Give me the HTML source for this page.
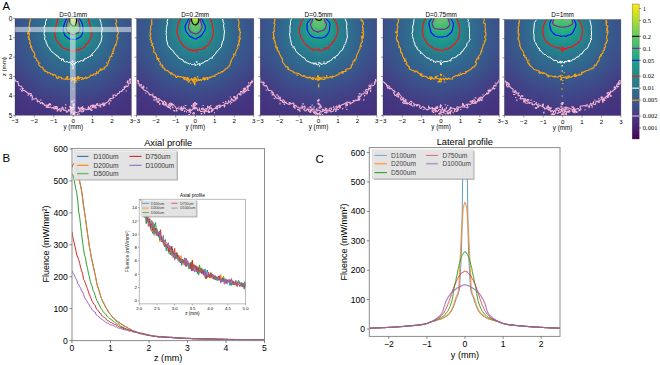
<!DOCTYPE html><html><head><meta charset="utf-8"><style>html,body{margin:0;padding:0;background:#fff;width:660px;height:365px;overflow:hidden}svg{display:block;font-family:"Liberation Sans",sans-serif}</style></head><body><svg width="660" height="365" viewBox="0 0 660 365"><defs><clipPath id="cp0"><rect x="15.00" y="18.40" width="116.40" height="96.90"/></clipPath><linearGradient id="g1" gradientUnits="userSpaceOnUse" x1="73.20" x2="133.20" y1="0" y2="0" spreadMethod="reflect"><stop offset="0.000" stop-color="#dae319"/><stop offset="0.017" stop-color="#c2df23"/><stop offset="0.050" stop-color="#6ece58"/><stop offset="0.067" stop-color="#4cc26c"/><stop offset="0.083" stop-color="#32b67a"/><stop offset="0.100" stop-color="#24aa83"/><stop offset="0.133" stop-color="#1f9a8a"/><stop offset="0.200" stop-color="#228c8d"/><stop offset="0.683" stop-color="#355e8d"/><stop offset="1.000" stop-color="#3c4f8a"/></linearGradient><linearGradient id="g2" gradientUnits="userSpaceOnUse" x1="73.20" x2="133.20" y1="0" y2="0" spreadMethod="reflect"><stop offset="0.000" stop-color="#cde11d"/><stop offset="0.017" stop-color="#bade28"/><stop offset="0.033" stop-color="#98d83e"/><stop offset="0.050" stop-color="#70cf57"/><stop offset="0.067" stop-color="#50c46a"/><stop offset="0.083" stop-color="#37b878"/><stop offset="0.100" stop-color="#26ad81"/><stop offset="0.117" stop-color="#20a386"/><stop offset="0.167" stop-color="#20928c"/><stop offset="0.617" stop-color="#33638d"/><stop offset="0.983" stop-color="#3c4f8a"/><stop offset="1.000" stop-color="#3c4f8a"/></linearGradient><linearGradient id="g3" gradientUnits="userSpaceOnUse" x1="73.20" x2="133.20" y1="0" y2="0" spreadMethod="reflect"><stop offset="0.000" stop-color="#b8de29"/><stop offset="0.017" stop-color="#aadc32"/><stop offset="0.033" stop-color="#90d743"/><stop offset="0.067" stop-color="#54c568"/><stop offset="0.083" stop-color="#3bbb75"/><stop offset="0.100" stop-color="#2cb17e"/><stop offset="0.117" stop-color="#22a884"/><stop offset="0.150" stop-color="#1f998a"/><stop offset="0.233" stop-color="#238a8d"/><stop offset="0.683" stop-color="#355e8d"/><stop offset="1.000" stop-color="#3c508b"/></linearGradient><linearGradient id="g4" gradientUnits="userSpaceOnUse" x1="73.20" x2="133.20" y1="0" y2="0" spreadMethod="reflect"><stop offset="0.000" stop-color="#a0da39"/><stop offset="0.017" stop-color="#98d83e"/><stop offset="0.083" stop-color="#42be71"/><stop offset="0.117" stop-color="#26ad81"/><stop offset="0.133" stop-color="#20a386"/><stop offset="0.200" stop-color="#21908d"/><stop offset="0.600" stop-color="#32658e"/><stop offset="0.950" stop-color="#3c508b"/><stop offset="1.000" stop-color="#3c508b"/></linearGradient><linearGradient id="g5" gradientUnits="userSpaceOnUse" x1="73.20" x2="133.20" y1="0" y2="0" spreadMethod="reflect"><stop offset="0.000" stop-color="#8bd646"/><stop offset="0.017" stop-color="#86d549"/><stop offset="0.083" stop-color="#46c06f"/><stop offset="0.117" stop-color="#2ab07f"/><stop offset="0.133" stop-color="#22a785"/><stop offset="0.183" stop-color="#1f948c"/><stop offset="0.483" stop-color="#2d708e"/><stop offset="0.850" stop-color="#3a548c"/><stop offset="1.000" stop-color="#3c508b"/></linearGradient><linearGradient id="g6" gradientUnits="userSpaceOnUse" x1="73.20" x2="133.20" y1="0" y2="0" spreadMethod="reflect"><stop offset="0.000" stop-color="#7cd250"/><stop offset="0.033" stop-color="#6ece58"/><stop offset="0.100" stop-color="#3bbb75"/><stop offset="0.133" stop-color="#25ab82"/><stop offset="0.167" stop-color="#1e9c89"/><stop offset="0.233" stop-color="#228d8d"/><stop offset="0.617" stop-color="#32648e"/><stop offset="0.967" stop-color="#3c508b"/><stop offset="1.000" stop-color="#3c508b"/></linearGradient><linearGradient id="g7" gradientUnits="userSpaceOnUse" x1="73.20" x2="133.20" y1="0" y2="0" spreadMethod="reflect"><stop offset="0.000" stop-color="#70cf57"/><stop offset="0.033" stop-color="#67cc5c"/><stop offset="0.100" stop-color="#3dbc74"/><stop offset="0.133" stop-color="#26ad81"/><stop offset="0.167" stop-color="#1f9e89"/><stop offset="0.250" stop-color="#228b8d"/><stop offset="0.633" stop-color="#33638d"/><stop offset="0.967" stop-color="#3c508b"/><stop offset="1.000" stop-color="#3c508b"/></linearGradient><linearGradient id="g8" gradientUnits="userSpaceOnUse" x1="73.20" x2="133.20" y1="0" y2="0" spreadMethod="reflect"><stop offset="0.000" stop-color="#67cc5c"/><stop offset="0.050" stop-color="#5ac864"/><stop offset="0.083" stop-color="#4ac16d"/><stop offset="0.133" stop-color="#28ae80"/><stop offset="0.167" stop-color="#1fa088"/><stop offset="0.250" stop-color="#228c8d"/><stop offset="0.617" stop-color="#32648e"/><stop offset="0.967" stop-color="#3c508b"/><stop offset="1.000" stop-color="#3c508b"/></linearGradient><linearGradient id="g9" gradientUnits="userSpaceOnUse" x1="73.20" x2="133.20" y1="0" y2="0" spreadMethod="reflect"><stop offset="0.000" stop-color="#60ca60"/><stop offset="0.033" stop-color="#5ec962"/><stop offset="0.100" stop-color="#40bd72"/><stop offset="0.150" stop-color="#23a983"/><stop offset="0.200" stop-color="#1f978b"/><stop offset="0.333" stop-color="#26828e"/><stop offset="0.700" stop-color="#355e8d"/><stop offset="1.000" stop-color="#3c508b"/></linearGradient><linearGradient id="g10" gradientUnits="userSpaceOnUse" x1="73.20" x2="133.20" y1="0" y2="0" spreadMethod="reflect"><stop offset="0.000" stop-color="#5ec962"/><stop offset="0.067" stop-color="#52c569"/><stop offset="0.133" stop-color="#2db27d"/><stop offset="0.167" stop-color="#20a386"/><stop offset="0.250" stop-color="#218e8d"/><stop offset="0.567" stop-color="#30698e"/><stop offset="0.933" stop-color="#3b518b"/><stop offset="1.000" stop-color="#3c508b"/></linearGradient><linearGradient id="g11" gradientUnits="userSpaceOnUse" x1="73.20" x2="133.20" y1="0" y2="0" spreadMethod="reflect"><stop offset="0.000" stop-color="#5ac864"/><stop offset="0.050" stop-color="#54c568"/><stop offset="0.100" stop-color="#40bd72"/><stop offset="0.150" stop-color="#25ab82"/><stop offset="0.200" stop-color="#1f998a"/><stop offset="0.350" stop-color="#26818e"/><stop offset="0.667" stop-color="#34618d"/><stop offset="1.000" stop-color="#3c508b"/></linearGradient><linearGradient id="g12" gradientUnits="userSpaceOnUse" x1="73.20" x2="133.20" y1="0" y2="0" spreadMethod="reflect"><stop offset="0.000" stop-color="#56c667"/><stop offset="0.050" stop-color="#50c46a"/><stop offset="0.083" stop-color="#46c06f"/><stop offset="0.150" stop-color="#25ab82"/><stop offset="0.200" stop-color="#1f9a8a"/><stop offset="0.317" stop-color="#25858e"/><stop offset="0.617" stop-color="#32658e"/><stop offset="0.967" stop-color="#3c508b"/><stop offset="1.000" stop-color="#3c508b"/></linearGradient><linearGradient id="g13" gradientUnits="userSpaceOnUse" x1="73.20" x2="133.20" y1="0" y2="0" spreadMethod="reflect"><stop offset="0.000" stop-color="#52c569"/><stop offset="0.050" stop-color="#4cc26c"/><stop offset="0.083" stop-color="#42be71"/><stop offset="0.150" stop-color="#23a983"/><stop offset="0.200" stop-color="#1f9a8a"/><stop offset="0.367" stop-color="#277f8e"/><stop offset="0.700" stop-color="#355f8d"/><stop offset="1.000" stop-color="#3c508b"/></linearGradient><linearGradient id="g14" gradientUnits="userSpaceOnUse" x1="73.20" x2="133.20" y1="0" y2="0" spreadMethod="reflect"><stop offset="0.000" stop-color="#4cc26c"/><stop offset="0.050" stop-color="#48c16e"/><stop offset="0.117" stop-color="#2fb47c"/><stop offset="0.150" stop-color="#22a884"/><stop offset="0.217" stop-color="#1f968b"/><stop offset="0.400" stop-color="#297b8e"/><stop offset="0.717" stop-color="#355e8d"/><stop offset="1.000" stop-color="#3c508b"/></linearGradient><linearGradient id="g15" gradientUnits="userSpaceOnUse" x1="73.20" x2="133.20" y1="0" y2="0" spreadMethod="reflect"><stop offset="0.000" stop-color="#46c06f"/><stop offset="0.050" stop-color="#40bd72"/><stop offset="0.117" stop-color="#2cb17e"/><stop offset="0.167" stop-color="#1fa187"/><stop offset="0.267" stop-color="#228d8d"/><stop offset="0.583" stop-color="#31688e"/><stop offset="0.967" stop-color="#3c508b"/><stop offset="1.000" stop-color="#3c508b"/></linearGradient><linearGradient id="g16" gradientUnits="userSpaceOnUse" x1="73.20" x2="133.20" y1="0" y2="0" spreadMethod="reflect"><stop offset="0.000" stop-color="#3fbc73"/><stop offset="0.067" stop-color="#37b878"/><stop offset="0.150" stop-color="#21a585"/><stop offset="0.250" stop-color="#21908d"/><stop offset="0.550" stop-color="#2f6b8e"/><stop offset="0.967" stop-color="#3c508b"/><stop offset="1.000" stop-color="#3c508b"/></linearGradient><linearGradient id="g17" gradientUnits="userSpaceOnUse" x1="73.20" x2="133.20" y1="0" y2="0" spreadMethod="reflect"><stop offset="0.000" stop-color="#38b977"/><stop offset="0.067" stop-color="#31b57b"/><stop offset="0.150" stop-color="#20a386"/><stop offset="0.283" stop-color="#238a8d"/><stop offset="0.617" stop-color="#32658e"/><stop offset="0.983" stop-color="#3c508b"/><stop offset="1.000" stop-color="#3c508b"/></linearGradient><linearGradient id="g18" gradientUnits="userSpaceOnUse" x1="73.20" x2="133.20" y1="0" y2="0" spreadMethod="reflect"><stop offset="0.000" stop-color="#31b57b"/><stop offset="0.083" stop-color="#28ae80"/><stop offset="0.167" stop-color="#1f9e89"/><stop offset="0.350" stop-color="#26828e"/><stop offset="0.667" stop-color="#34618d"/><stop offset="1.000" stop-color="#3c508b"/></linearGradient><linearGradient id="g19" gradientUnits="userSpaceOnUse" x1="73.20" x2="133.20" y1="0" y2="0" spreadMethod="reflect"><stop offset="0.000" stop-color="#2cb17e"/><stop offset="0.100" stop-color="#22a884"/><stop offset="0.200" stop-color="#1f958b"/><stop offset="0.550" stop-color="#2f6b8e"/><stop offset="0.850" stop-color="#39558c"/><stop offset="1.000" stop-color="#3c508b"/></linearGradient><linearGradient id="g20" gradientUnits="userSpaceOnUse" x1="73.20" x2="133.20" y1="0" y2="0" spreadMethod="reflect"><stop offset="0.000" stop-color="#26ad81"/><stop offset="0.100" stop-color="#20a486"/><stop offset="0.250" stop-color="#218e8d"/><stop offset="0.633" stop-color="#33638d"/><stop offset="1.000" stop-color="#3c508b"/></linearGradient><linearGradient id="g21" gradientUnits="userSpaceOnUse" x1="73.20" x2="133.20" y1="0" y2="0" spreadMethod="reflect"><stop offset="0.000" stop-color="#22a884"/><stop offset="0.100" stop-color="#1fa187"/><stop offset="0.350" stop-color="#27808e"/><stop offset="0.700" stop-color="#355e8d"/><stop offset="1.000" stop-color="#3c508b"/></linearGradient><linearGradient id="g22" gradientUnits="userSpaceOnUse" x1="73.20" x2="133.20" y1="0" y2="0" spreadMethod="reflect"><stop offset="0.000" stop-color="#20a486"/><stop offset="0.133" stop-color="#1f9a8a"/><stop offset="0.583" stop-color="#31678e"/><stop offset="0.917" stop-color="#3b528b"/><stop offset="1.000" stop-color="#3c508b"/></linearGradient><linearGradient id="g23" gradientUnits="userSpaceOnUse" x1="73.20" x2="133.20" y1="0" y2="0" spreadMethod="reflect"><stop offset="0.000" stop-color="#1fa188"/><stop offset="0.133" stop-color="#1f988b"/><stop offset="0.583" stop-color="#31678e"/><stop offset="0.917" stop-color="#3b528b"/><stop offset="1.000" stop-color="#3c508b"/></linearGradient><linearGradient id="g24" gradientUnits="userSpaceOnUse" x1="73.20" x2="133.20" y1="0" y2="0" spreadMethod="reflect"><stop offset="0.000" stop-color="#1f9e89"/><stop offset="0.150" stop-color="#1f948c"/><stop offset="0.617" stop-color="#32648e"/><stop offset="0.967" stop-color="#3c508b"/><stop offset="1.000" stop-color="#3c508b"/></linearGradient><linearGradient id="g25" gradientUnits="userSpaceOnUse" x1="73.20" x2="133.20" y1="0" y2="0" spreadMethod="reflect"><stop offset="0.000" stop-color="#1f9a8a"/><stop offset="0.150" stop-color="#20928c"/><stop offset="0.650" stop-color="#34618d"/><stop offset="1.000" stop-color="#3c508b"/></linearGradient><linearGradient id="g26" gradientUnits="userSpaceOnUse" x1="73.20" x2="133.20" y1="0" y2="0" spreadMethod="reflect"><stop offset="0.000" stop-color="#1f988b"/><stop offset="0.200" stop-color="#228c8d"/><stop offset="0.633" stop-color="#33628d"/><stop offset="0.983" stop-color="#3c508b"/><stop offset="1.000" stop-color="#3c508b"/></linearGradient><linearGradient id="g27" gradientUnits="userSpaceOnUse" x1="73.20" x2="133.20" y1="0" y2="0" spreadMethod="reflect"><stop offset="0.000" stop-color="#1f958b"/><stop offset="0.183" stop-color="#228c8d"/><stop offset="0.667" stop-color="#355f8d"/><stop offset="1.000" stop-color="#3c508b"/></linearGradient><linearGradient id="g28" gradientUnits="userSpaceOnUse" x1="73.20" x2="133.20" y1="0" y2="0" spreadMethod="reflect"><stop offset="0.000" stop-color="#20928c"/><stop offset="0.200" stop-color="#23898e"/><stop offset="0.667" stop-color="#355f8d"/><stop offset="1.000" stop-color="#3c508b"/></linearGradient><linearGradient id="g29" gradientUnits="userSpaceOnUse" x1="73.20" x2="133.20" y1="0" y2="0" spreadMethod="reflect"><stop offset="0.000" stop-color="#21918c"/><stop offset="0.200" stop-color="#24878e"/><stop offset="0.700" stop-color="#365c8d"/><stop offset="1.000" stop-color="#3c508b"/></linearGradient><linearGradient id="g30" gradientUnits="userSpaceOnUse" x1="73.20" x2="133.20" y1="0" y2="0" spreadMethod="reflect"><stop offset="0.000" stop-color="#218e8d"/><stop offset="0.183" stop-color="#24878e"/><stop offset="0.700" stop-color="#365c8d"/><stop offset="1.000" stop-color="#3c4f8a"/></linearGradient><linearGradient id="g31" gradientUnits="userSpaceOnUse" x1="73.20" x2="133.20" y1="0" y2="0" spreadMethod="reflect"><stop offset="0.000" stop-color="#228c8d"/><stop offset="0.217" stop-color="#26828e"/><stop offset="0.700" stop-color="#365c8d"/><stop offset="1.000" stop-color="#3c4f8a"/></linearGradient><linearGradient id="g32" gradientUnits="userSpaceOnUse" x1="73.20" x2="133.20" y1="0" y2="0" spreadMethod="reflect"><stop offset="0.000" stop-color="#238a8d"/><stop offset="0.217" stop-color="#26818e"/><stop offset="0.733" stop-color="#38598c"/><stop offset="1.000" stop-color="#3c4f8a"/></linearGradient><linearGradient id="g33" gradientUnits="userSpaceOnUse" x1="73.20" x2="133.20" y1="0" y2="0" spreadMethod="reflect"><stop offset="0.000" stop-color="#23888e"/><stop offset="0.217" stop-color="#277f8e"/><stop offset="0.767" stop-color="#39568c"/><stop offset="1.000" stop-color="#3d4e8a"/></linearGradient><linearGradient id="g34" gradientUnits="userSpaceOnUse" x1="73.20" x2="133.20" y1="0" y2="0" spreadMethod="reflect"><stop offset="0.000" stop-color="#24868e"/><stop offset="0.250" stop-color="#297b8e"/><stop offset="0.783" stop-color="#39558c"/><stop offset="1.000" stop-color="#3d4e8a"/></linearGradient><linearGradient id="g35" gradientUnits="userSpaceOnUse" x1="73.20" x2="133.20" y1="0" y2="0" spreadMethod="reflect"><stop offset="0.000" stop-color="#25848e"/><stop offset="0.250" stop-color="#29798e"/><stop offset="0.800" stop-color="#3a548c"/><stop offset="1.000" stop-color="#3d4e8a"/></linearGradient><linearGradient id="g36" gradientUnits="userSpaceOnUse" x1="73.20" x2="133.20" y1="0" y2="0" spreadMethod="reflect"><stop offset="0.000" stop-color="#26828e"/><stop offset="0.250" stop-color="#2a778e"/><stop offset="0.833" stop-color="#3b528b"/><stop offset="1.000" stop-color="#3d4d8a"/></linearGradient><linearGradient id="g37" gradientUnits="userSpaceOnUse" x1="73.20" x2="133.20" y1="0" y2="0" spreadMethod="reflect"><stop offset="0.000" stop-color="#26818e"/><stop offset="0.267" stop-color="#2b758e"/><stop offset="0.850" stop-color="#3b518b"/><stop offset="1.000" stop-color="#3d4d8a"/></linearGradient><linearGradient id="g38" gradientUnits="userSpaceOnUse" x1="73.20" x2="133.20" y1="0" y2="0" spreadMethod="reflect"><stop offset="0.000" stop-color="#277f8e"/><stop offset="0.283" stop-color="#2c728e"/><stop offset="0.867" stop-color="#3c508b"/><stop offset="1.000" stop-color="#3e4c8a"/></linearGradient><linearGradient id="g39" gradientUnits="userSpaceOnUse" x1="73.20" x2="133.20" y1="0" y2="0" spreadMethod="reflect"><stop offset="0.000" stop-color="#287d8e"/><stop offset="0.300" stop-color="#2d718e"/><stop offset="0.900" stop-color="#3d4e8a"/><stop offset="1.000" stop-color="#3e4c8a"/></linearGradient><linearGradient id="g40" gradientUnits="userSpaceOnUse" x1="73.20" x2="133.20" y1="0" y2="0" spreadMethod="reflect"><stop offset="0.000" stop-color="#297b8e"/><stop offset="0.267" stop-color="#2d718e"/><stop offset="0.967" stop-color="#3e4a89"/><stop offset="1.000" stop-color="#3e4a89"/></linearGradient><linearGradient id="g41" gradientUnits="userSpaceOnUse" x1="73.20" x2="133.20" y1="0" y2="0" spreadMethod="reflect"><stop offset="0.000" stop-color="#29798e"/><stop offset="0.283" stop-color="#2e6f8e"/><stop offset="0.967" stop-color="#3e4a89"/><stop offset="1.000" stop-color="#3e4a89"/></linearGradient><linearGradient id="g42" gradientUnits="userSpaceOnUse" x1="73.20" x2="133.20" y1="0" y2="0" spreadMethod="reflect"><stop offset="0.000" stop-color="#2a778e"/><stop offset="0.283" stop-color="#2e6e8e"/><stop offset="0.983" stop-color="#3e4989"/><stop offset="1.000" stop-color="#3e4989"/></linearGradient><linearGradient id="g43" gradientUnits="userSpaceOnUse" x1="73.20" x2="133.20" y1="0" y2="0" spreadMethod="reflect"><stop offset="0.000" stop-color="#2a768e"/><stop offset="0.333" stop-color="#306a8e"/><stop offset="0.983" stop-color="#3e4989"/><stop offset="1.000" stop-color="#3e4989"/></linearGradient><linearGradient id="g44" gradientUnits="userSpaceOnUse" x1="73.20" x2="133.20" y1="0" y2="0" spreadMethod="reflect"><stop offset="0.000" stop-color="#2b748e"/><stop offset="0.333" stop-color="#30698e"/><stop offset="1.000" stop-color="#3f4889"/></linearGradient><linearGradient id="g45" gradientUnits="userSpaceOnUse" x1="73.20" x2="133.20" y1="0" y2="0" spreadMethod="reflect"><stop offset="0.000" stop-color="#2c728e"/><stop offset="0.367" stop-color="#31678e"/><stop offset="1.000" stop-color="#3f4788"/></linearGradient><linearGradient id="g46" gradientUnits="userSpaceOnUse" x1="73.20" x2="133.20" y1="0" y2="0" spreadMethod="reflect"><stop offset="0.000" stop-color="#2c718e"/><stop offset="0.433" stop-color="#33638d"/><stop offset="0.983" stop-color="#3f4788"/><stop offset="1.000" stop-color="#3f4788"/></linearGradient><linearGradient id="g47" gradientUnits="userSpaceOnUse" x1="73.20" x2="133.20" y1="0" y2="0" spreadMethod="reflect"><stop offset="0.000" stop-color="#2d708e"/><stop offset="0.467" stop-color="#34618d"/><stop offset="1.000" stop-color="#404688"/></linearGradient><linearGradient id="g48" gradientUnits="userSpaceOnUse" x1="73.20" x2="133.20" y1="0" y2="0" spreadMethod="reflect"><stop offset="0.000" stop-color="#2e6f8e"/><stop offset="0.500" stop-color="#355f8d"/><stop offset="0.983" stop-color="#404688"/><stop offset="1.000" stop-color="#404688"/></linearGradient><linearGradient id="g49" gradientUnits="userSpaceOnUse" x1="73.20" x2="133.20" y1="0" y2="0" spreadMethod="reflect"><stop offset="0.000" stop-color="#2e6d8e"/><stop offset="0.483" stop-color="#355f8d"/><stop offset="1.000" stop-color="#404588"/></linearGradient><linearGradient id="g50" gradientUnits="userSpaceOnUse" x1="73.20" x2="133.20" y1="0" y2="0" spreadMethod="reflect"><stop offset="0.000" stop-color="#2f6c8e"/><stop offset="0.550" stop-color="#375b8d"/><stop offset="1.000" stop-color="#414487"/></linearGradient><linearGradient id="g51" gradientUnits="userSpaceOnUse" x1="73.20" x2="133.20" y1="0" y2="0" spreadMethod="reflect"><stop offset="0.000" stop-color="#306a8e"/><stop offset="0.467" stop-color="#355e8d"/><stop offset="1.000" stop-color="#414487"/></linearGradient><linearGradient id="g52" gradientUnits="userSpaceOnUse" x1="73.20" x2="133.20" y1="0" y2="0" spreadMethod="reflect"><stop offset="0.000" stop-color="#30698e"/><stop offset="0.500" stop-color="#365c8d"/><stop offset="1.000" stop-color="#414287"/></linearGradient><linearGradient id="g53" gradientUnits="userSpaceOnUse" x1="73.20" x2="133.20" y1="0" y2="0" spreadMethod="reflect"><stop offset="0.000" stop-color="#31678e"/><stop offset="0.450" stop-color="#365d8d"/><stop offset="1.000" stop-color="#424186"/></linearGradient><linearGradient id="g54" gradientUnits="userSpaceOnUse" x1="73.20" x2="133.20" y1="0" y2="0" spreadMethod="reflect"><stop offset="0.000" stop-color="#31668e"/><stop offset="0.500" stop-color="#375a8c"/><stop offset="1.000" stop-color="#424186"/></linearGradient><linearGradient id="g55" gradientUnits="userSpaceOnUse" x1="73.20" x2="133.20" y1="0" y2="0" spreadMethod="reflect"><stop offset="0.000" stop-color="#32658e"/><stop offset="0.500" stop-color="#38598c"/><stop offset="1.000" stop-color="#424086"/></linearGradient><linearGradient id="g56" gradientUnits="userSpaceOnUse" x1="73.20" x2="133.20" y1="0" y2="0" spreadMethod="reflect"><stop offset="0.000" stop-color="#33638d"/><stop offset="0.417" stop-color="#375b8d"/><stop offset="1.000" stop-color="#424086"/></linearGradient><linearGradient id="g57" gradientUnits="userSpaceOnUse" x1="73.20" x2="133.20" y1="0" y2="0" spreadMethod="reflect"><stop offset="0.000" stop-color="#33628d"/><stop offset="0.483" stop-color="#38588c"/><stop offset="1.000" stop-color="#423f85"/></linearGradient><linearGradient id="g58" gradientUnits="userSpaceOnUse" x1="73.20" x2="133.20" y1="0" y2="0" spreadMethod="reflect"><stop offset="0.000" stop-color="#34618d"/><stop offset="0.483" stop-color="#39568c"/><stop offset="1.000" stop-color="#433e85"/></linearGradient><linearGradient id="g59" gradientUnits="userSpaceOnUse" x1="73.20" x2="133.20" y1="0" y2="0" spreadMethod="reflect"><stop offset="0.000" stop-color="#355f8d"/><stop offset="0.450" stop-color="#39568c"/><stop offset="0.983" stop-color="#433e85"/><stop offset="1.000" stop-color="#433e85"/></linearGradient><linearGradient id="g60" gradientUnits="userSpaceOnUse" x1="73.20" x2="133.20" y1="0" y2="0" spreadMethod="reflect"><stop offset="0.000" stop-color="#355e8d"/><stop offset="0.417" stop-color="#39568c"/><stop offset="1.000" stop-color="#433d84"/></linearGradient><linearGradient id="g61" gradientUnits="userSpaceOnUse" x1="73.20" x2="133.20" y1="0" y2="0" spreadMethod="reflect"><stop offset="0.000" stop-color="#365d8d"/><stop offset="0.417" stop-color="#39558c"/><stop offset="1.000" stop-color="#443b84"/></linearGradient><linearGradient id="g62" gradientUnits="userSpaceOnUse" x1="73.20" x2="133.20" y1="0" y2="0" spreadMethod="reflect"><stop offset="0.000" stop-color="#365c8d"/><stop offset="0.450" stop-color="#3a538b"/><stop offset="1.000" stop-color="#443b84"/></linearGradient><linearGradient id="g63" gradientUnits="userSpaceOnUse" x1="73.20" x2="133.20" y1="0" y2="0" spreadMethod="reflect"><stop offset="0.000" stop-color="#375b8d"/><stop offset="0.483" stop-color="#3b518b"/><stop offset="1.000" stop-color="#443a83"/></linearGradient><linearGradient id="g64" gradientUnits="userSpaceOnUse" x1="73.20" x2="133.20" y1="0" y2="0" spreadMethod="reflect"><stop offset="0.000" stop-color="#38598c"/><stop offset="0.417" stop-color="#3b528b"/><stop offset="1.000" stop-color="#443a83"/></linearGradient><linearGradient id="g65" gradientUnits="userSpaceOnUse" x1="73.20" x2="133.20" y1="0" y2="0" spreadMethod="reflect"><stop offset="0.000" stop-color="#38588c"/><stop offset="0.417" stop-color="#3b518b"/><stop offset="1.000" stop-color="#443983"/></linearGradient><linearGradient id="g66" gradientUnits="userSpaceOnUse" x1="73.20" x2="133.20" y1="0" y2="0" spreadMethod="reflect"><stop offset="0.000" stop-color="#39568c"/><stop offset="0.417" stop-color="#3c508b"/><stop offset="1.000" stop-color="#443983"/></linearGradient><linearGradient id="g67" gradientUnits="userSpaceOnUse" x1="73.20" x2="133.20" y1="0" y2="0" spreadMethod="reflect"><stop offset="0.000" stop-color="#39558c"/><stop offset="0.417" stop-color="#3c4f8a"/><stop offset="1.000" stop-color="#453882"/></linearGradient><linearGradient id="g68" gradientUnits="userSpaceOnUse" x1="73.20" x2="133.20" y1="0" y2="0" spreadMethod="reflect"><stop offset="0.000" stop-color="#3a548c"/><stop offset="0.467" stop-color="#3d4d8a"/><stop offset="1.000" stop-color="#453882"/></linearGradient><linearGradient id="g69" gradientUnits="userSpaceOnUse" x1="73.20" x2="133.20" y1="0" y2="0" spreadMethod="reflect"><stop offset="0.000" stop-color="#3a538b"/><stop offset="0.467" stop-color="#3e4c8a"/><stop offset="1.000" stop-color="#453781"/></linearGradient><linearGradient id="g70" gradientUnits="userSpaceOnUse" x1="73.20" x2="133.20" y1="0" y2="0" spreadMethod="reflect"><stop offset="0.000" stop-color="#3b528b"/><stop offset="0.467" stop-color="#3e4a89"/><stop offset="1.000" stop-color="#453781"/></linearGradient><linearGradient id="g71" gradientUnits="userSpaceOnUse" x1="73.20" x2="133.20" y1="0" y2="0" spreadMethod="reflect"><stop offset="0.000" stop-color="#3b518b"/><stop offset="0.467" stop-color="#3e4989"/><stop offset="1.000" stop-color="#453781"/></linearGradient><linearGradient id="g72" gradientUnits="userSpaceOnUse" x1="73.20" x2="133.20" y1="0" y2="0" spreadMethod="reflect"><stop offset="0.000" stop-color="#3c508b"/><stop offset="0.467" stop-color="#3f4889"/><stop offset="1.000" stop-color="#453581"/></linearGradient><linearGradient id="g73" gradientUnits="userSpaceOnUse" x1="73.20" x2="133.20" y1="0" y2="0" spreadMethod="reflect"><stop offset="0.000" stop-color="#3c4f8a"/><stop offset="0.467" stop-color="#3f4788"/><stop offset="1.000" stop-color="#453581"/></linearGradient><linearGradient id="g74" gradientUnits="userSpaceOnUse" x1="73.20" x2="133.20" y1="0" y2="0" spreadMethod="reflect"><stop offset="0.000" stop-color="#3d4e8a"/><stop offset="0.483" stop-color="#404688"/><stop offset="1.000" stop-color="#453581"/></linearGradient><linearGradient id="g75" gradientUnits="userSpaceOnUse" x1="73.20" x2="133.20" y1="0" y2="0" spreadMethod="reflect"><stop offset="0.000" stop-color="#3d4d8a"/><stop offset="0.483" stop-color="#404588"/><stop offset="1.000" stop-color="#463480"/></linearGradient><linearGradient id="g76" gradientUnits="userSpaceOnUse" x1="73.20" x2="133.20" y1="0" y2="0" spreadMethod="reflect"><stop offset="0.000" stop-color="#3e4c8a"/><stop offset="0.483" stop-color="#414487"/><stop offset="1.000" stop-color="#463480"/></linearGradient><linearGradient id="g77" gradientUnits="userSpaceOnUse" x1="73.20" x2="133.20" y1="0" y2="0" spreadMethod="reflect"><stop offset="0.000" stop-color="#3e4a89"/><stop offset="0.450" stop-color="#414487"/><stop offset="1.000" stop-color="#463480"/></linearGradient><linearGradient id="g78" gradientUnits="userSpaceOnUse" x1="73.20" x2="133.20" y1="0" y2="0" spreadMethod="reflect"><stop offset="0.000" stop-color="#3e4989"/><stop offset="0.500" stop-color="#424186"/><stop offset="1.000" stop-color="#463480"/></linearGradient><linearGradient id="g79" gradientUnits="userSpaceOnUse" x1="73.20" x2="133.20" y1="0" y2="0" spreadMethod="reflect"><stop offset="0.000" stop-color="#3f4889"/><stop offset="0.467" stop-color="#424186"/><stop offset="1.000" stop-color="#46337f"/></linearGradient><linearGradient id="g80" gradientUnits="userSpaceOnUse" x1="73.20" x2="133.20" y1="0" y2="0" spreadMethod="reflect"><stop offset="0.000" stop-color="#3f4889"/><stop offset="0.650" stop-color="#443b84"/><stop offset="1.000" stop-color="#46337f"/></linearGradient><linearGradient id="g81" gradientUnits="userSpaceOnUse" x1="73.20" x2="133.20" y1="0" y2="0" spreadMethod="reflect"><stop offset="0.000" stop-color="#3f4788"/><stop offset="0.683" stop-color="#443a83"/><stop offset="1.000" stop-color="#46337f"/></linearGradient><linearGradient id="g82" gradientUnits="userSpaceOnUse" x1="73.20" x2="133.20" y1="0" y2="0" spreadMethod="reflect"><stop offset="0.000" stop-color="#404688"/><stop offset="0.650" stop-color="#443a83"/><stop offset="1.000" stop-color="#46337f"/></linearGradient><linearGradient id="g83" gradientUnits="userSpaceOnUse" x1="73.20" x2="133.20" y1="0" y2="0" spreadMethod="reflect"><stop offset="0.000" stop-color="#404588"/><stop offset="0.733" stop-color="#453882"/><stop offset="1.000" stop-color="#46337f"/></linearGradient><linearGradient id="g84" gradientUnits="userSpaceOnUse" x1="73.20" x2="133.20" y1="0" y2="0" spreadMethod="reflect"><stop offset="0.000" stop-color="#414487"/><stop offset="0.767" stop-color="#453781"/><stop offset="1.000" stop-color="#46327e"/></linearGradient><linearGradient id="g85" gradientUnits="userSpaceOnUse" x1="73.20" x2="133.20" y1="0" y2="0" spreadMethod="reflect"><stop offset="0.000" stop-color="#414287"/><stop offset="1.000" stop-color="#46327e"/></linearGradient><linearGradient id="g86" gradientUnits="userSpaceOnUse" x1="73.20" x2="133.20" y1="0" y2="0" spreadMethod="reflect"><stop offset="0.000" stop-color="#424186"/><stop offset="1.000" stop-color="#46327e"/></linearGradient><linearGradient id="g87" gradientUnits="userSpaceOnUse" x1="73.20" x2="133.20" y1="0" y2="0" spreadMethod="reflect"><stop offset="0.000" stop-color="#424186"/><stop offset="1.000" stop-color="#46327e"/></linearGradient><linearGradient id="g88" gradientUnits="userSpaceOnUse" x1="73.20" x2="133.20" y1="0" y2="0" spreadMethod="reflect"><stop offset="0.000" stop-color="#424086"/><stop offset="1.000" stop-color="#46327e"/></linearGradient><linearGradient id="g89" gradientUnits="userSpaceOnUse" x1="73.20" x2="133.20" y1="0" y2="0" spreadMethod="reflect"><stop offset="0.000" stop-color="#423f85"/><stop offset="1.000" stop-color="#46327e"/></linearGradient><linearGradient id="g90" gradientUnits="userSpaceOnUse" x1="73.20" x2="133.20" y1="0" y2="0" spreadMethod="reflect"><stop offset="0.000" stop-color="#433e85"/><stop offset="1.000" stop-color="#46307e"/></linearGradient><linearGradient id="g91" gradientUnits="userSpaceOnUse" x1="73.20" x2="133.20" y1="0" y2="0" spreadMethod="reflect"><stop offset="0.000" stop-color="#433d84"/><stop offset="1.000" stop-color="#46307e"/></linearGradient><linearGradient id="g92" gradientUnits="userSpaceOnUse" x1="73.20" x2="133.20" y1="0" y2="0" spreadMethod="reflect"><stop offset="0.000" stop-color="#443b84"/><stop offset="1.000" stop-color="#46307e"/></linearGradient><linearGradient id="g93" gradientUnits="userSpaceOnUse" x1="73.20" x2="133.20" y1="0" y2="0" spreadMethod="reflect"><stop offset="0.000" stop-color="#443b84"/><stop offset="1.000" stop-color="#46307e"/></linearGradient><linearGradient id="g94" gradientUnits="userSpaceOnUse" x1="73.20" x2="133.20" y1="0" y2="0" spreadMethod="reflect"><stop offset="0.000" stop-color="#443a83"/><stop offset="1.000" stop-color="#46307e"/></linearGradient><linearGradient id="g95" gradientUnits="userSpaceOnUse" x1="73.20" x2="133.20" y1="0" y2="0" spreadMethod="reflect"><stop offset="0.000" stop-color="#443983"/><stop offset="1.000" stop-color="#46307e"/></linearGradient><linearGradient id="g96" gradientUnits="userSpaceOnUse" x1="73.20" x2="133.20" y1="0" y2="0" spreadMethod="reflect"><stop offset="0.000" stop-color="#453882"/><stop offset="1.000" stop-color="#472f7d"/></linearGradient><linearGradient id="g97" gradientUnits="userSpaceOnUse" x1="73.20" x2="133.20" y1="0" y2="0" spreadMethod="reflect"><stop offset="0.000" stop-color="#453781"/><stop offset="1.000" stop-color="#472f7d"/></linearGradient><linearGradient id="g98" gradientUnits="userSpaceOnUse" x1="73.20" x2="133.20" y1="0" y2="0" spreadMethod="reflect"><stop offset="0.000" stop-color="#453581"/><stop offset="1.000" stop-color="#472f7d"/></linearGradient><clipPath id="cp1"><rect x="136.60" y="18.40" width="117.20" height="96.90"/></clipPath><linearGradient id="g99" gradientUnits="userSpaceOnUse" x1="195.20" x2="255.20" y1="0" y2="0" spreadMethod="reflect"><stop offset="0.000" stop-color="#c8e020"/><stop offset="0.017" stop-color="#bade28"/><stop offset="0.033" stop-color="#9dd93b"/><stop offset="0.050" stop-color="#7ad151"/><stop offset="0.067" stop-color="#50c46a"/><stop offset="0.083" stop-color="#2fb47c"/><stop offset="0.100" stop-color="#21a685"/><stop offset="0.133" stop-color="#1f978b"/><stop offset="0.217" stop-color="#238a8d"/><stop offset="0.717" stop-color="#365c8d"/><stop offset="1.000" stop-color="#3c4f8a"/></linearGradient><linearGradient id="g100" gradientUnits="userSpaceOnUse" x1="195.20" x2="255.20" y1="0" y2="0" spreadMethod="reflect"><stop offset="0.000" stop-color="#bade28"/><stop offset="0.017" stop-color="#b2dd2d"/><stop offset="0.033" stop-color="#9bd93c"/><stop offset="0.050" stop-color="#7ad151"/><stop offset="0.067" stop-color="#54c568"/><stop offset="0.083" stop-color="#35b779"/><stop offset="0.100" stop-color="#24aa83"/><stop offset="0.133" stop-color="#1f9a8a"/><stop offset="0.217" stop-color="#228b8d"/><stop offset="0.683" stop-color="#355f8d"/><stop offset="0.983" stop-color="#3c508b"/><stop offset="1.000" stop-color="#3c508b"/></linearGradient><linearGradient id="g101" gradientUnits="userSpaceOnUse" x1="195.20" x2="255.20" y1="0" y2="0" spreadMethod="reflect"><stop offset="0.000" stop-color="#a5db36"/><stop offset="0.017" stop-color="#a0da39"/><stop offset="0.033" stop-color="#8ed645"/><stop offset="0.050" stop-color="#75d054"/><stop offset="0.067" stop-color="#56c667"/><stop offset="0.083" stop-color="#3bbb75"/><stop offset="0.100" stop-color="#28ae80"/><stop offset="0.117" stop-color="#21a585"/><stop offset="0.167" stop-color="#1f948c"/><stop offset="0.567" stop-color="#31688e"/><stop offset="0.933" stop-color="#3b518b"/><stop offset="1.000" stop-color="#3c508b"/></linearGradient><linearGradient id="g102" gradientUnits="userSpaceOnUse" x1="195.20" x2="255.20" y1="0" y2="0" spreadMethod="reflect"><stop offset="0.000" stop-color="#93d741"/><stop offset="0.017" stop-color="#8ed645"/><stop offset="0.033" stop-color="#81d34d"/><stop offset="0.050" stop-color="#6ece58"/><stop offset="0.083" stop-color="#3fbc73"/><stop offset="0.100" stop-color="#2eb37c"/><stop offset="0.117" stop-color="#24aa83"/><stop offset="0.150" stop-color="#1e9d89"/><stop offset="0.250" stop-color="#238a8d"/><stop offset="0.633" stop-color="#33638d"/><stop offset="0.967" stop-color="#3c508b"/><stop offset="1.000" stop-color="#3c508b"/></linearGradient><linearGradient id="g103" gradientUnits="userSpaceOnUse" x1="195.20" x2="255.20" y1="0" y2="0" spreadMethod="reflect"><stop offset="0.000" stop-color="#7fd34e"/><stop offset="0.017" stop-color="#7cd250"/><stop offset="0.050" stop-color="#65cb5e"/><stop offset="0.083" stop-color="#40bd72"/><stop offset="0.117" stop-color="#27ad81"/><stop offset="0.150" stop-color="#1fa188"/><stop offset="0.250" stop-color="#228b8d"/><stop offset="0.633" stop-color="#33638d"/><stop offset="0.983" stop-color="#3c508b"/><stop offset="1.000" stop-color="#3c508b"/></linearGradient><linearGradient id="g104" gradientUnits="userSpaceOnUse" x1="195.20" x2="255.20" y1="0" y2="0" spreadMethod="reflect"><stop offset="0.000" stop-color="#70cf57"/><stop offset="0.033" stop-color="#67cc5c"/><stop offset="0.067" stop-color="#52c569"/><stop offset="0.100" stop-color="#37b878"/><stop offset="0.133" stop-color="#25ab82"/><stop offset="0.183" stop-color="#1f9a8a"/><stop offset="0.300" stop-color="#25858e"/><stop offset="0.650" stop-color="#33628d"/><stop offset="0.983" stop-color="#3c508b"/><stop offset="1.000" stop-color="#3c508b"/></linearGradient><linearGradient id="g105" gradientUnits="userSpaceOnUse" x1="195.20" x2="255.20" y1="0" y2="0" spreadMethod="reflect"><stop offset="0.000" stop-color="#65cb5e"/><stop offset="0.033" stop-color="#60ca60"/><stop offset="0.083" stop-color="#44bf70"/><stop offset="0.133" stop-color="#27ad81"/><stop offset="0.167" stop-color="#1fa187"/><stop offset="0.250" stop-color="#228d8d"/><stop offset="0.600" stop-color="#31668e"/><stop offset="0.967" stop-color="#3c508b"/><stop offset="1.000" stop-color="#3c508b"/></linearGradient><linearGradient id="g106" gradientUnits="userSpaceOnUse" x1="195.20" x2="255.20" y1="0" y2="0" spreadMethod="reflect"><stop offset="0.000" stop-color="#5ec962"/><stop offset="0.033" stop-color="#5ac864"/><stop offset="0.083" stop-color="#46c06f"/><stop offset="0.150" stop-color="#23a983"/><stop offset="0.200" stop-color="#1f998a"/><stop offset="0.317" stop-color="#25848e"/><stop offset="0.667" stop-color="#34618d"/><stop offset="1.000" stop-color="#3c508b"/></linearGradient><linearGradient id="g107" gradientUnits="userSpaceOnUse" x1="195.20" x2="255.20" y1="0" y2="0" spreadMethod="reflect"><stop offset="0.000" stop-color="#5cc863"/><stop offset="0.050" stop-color="#54c568"/><stop offset="0.117" stop-color="#35b779"/><stop offset="0.150" stop-color="#25ab82"/><stop offset="0.200" stop-color="#1f9a8a"/><stop offset="0.317" stop-color="#25848e"/><stop offset="0.667" stop-color="#34618d"/><stop offset="1.000" stop-color="#3c508b"/></linearGradient><linearGradient id="g108" gradientUnits="userSpaceOnUse" x1="195.20" x2="255.20" y1="0" y2="0" spreadMethod="reflect"><stop offset="0.000" stop-color="#58c765"/><stop offset="0.050" stop-color="#52c569"/><stop offset="0.100" stop-color="#3fbc73"/><stop offset="0.150" stop-color="#25ab82"/><stop offset="0.200" stop-color="#1f9a8a"/><stop offset="0.367" stop-color="#277f8e"/><stop offset="0.700" stop-color="#355f8d"/><stop offset="1.000" stop-color="#3c508b"/></linearGradient><linearGradient id="g109" gradientUnits="userSpaceOnUse" x1="195.20" x2="255.20" y1="0" y2="0" spreadMethod="reflect"><stop offset="0.000" stop-color="#56c667"/><stop offset="0.050" stop-color="#50c46a"/><stop offset="0.100" stop-color="#3bbb75"/><stop offset="0.150" stop-color="#24aa83"/><stop offset="0.200" stop-color="#1f9a8a"/><stop offset="0.367" stop-color="#277f8e"/><stop offset="0.700" stop-color="#355f8d"/><stop offset="1.000" stop-color="#3c508b"/></linearGradient><linearGradient id="g110" gradientUnits="userSpaceOnUse" x1="195.20" x2="255.20" y1="0" y2="0" spreadMethod="reflect"><stop offset="0.000" stop-color="#52c569"/><stop offset="0.050" stop-color="#4cc26c"/><stop offset="0.117" stop-color="#31b57b"/><stop offset="0.150" stop-color="#23a983"/><stop offset="0.217" stop-color="#1f968b"/><stop offset="0.400" stop-color="#297b8e"/><stop offset="0.717" stop-color="#355e8d"/><stop offset="1.000" stop-color="#3c508b"/></linearGradient><linearGradient id="g111" gradientUnits="userSpaceOnUse" x1="195.20" x2="255.20" y1="0" y2="0" spreadMethod="reflect"><stop offset="0.000" stop-color="#4ec36b"/><stop offset="0.067" stop-color="#42be71"/><stop offset="0.150" stop-color="#22a785"/><stop offset="0.217" stop-color="#1f958b"/><stop offset="0.467" stop-color="#2b748e"/><stop offset="0.783" stop-color="#375a8c"/><stop offset="1.000" stop-color="#3c508b"/></linearGradient><linearGradient id="g112" gradientUnits="userSpaceOnUse" x1="195.20" x2="255.20" y1="0" y2="0" spreadMethod="reflect"><stop offset="0.000" stop-color="#48c16e"/><stop offset="0.067" stop-color="#3bbb75"/><stop offset="0.133" stop-color="#24aa83"/><stop offset="0.200" stop-color="#1f988b"/><stop offset="0.433" stop-color="#2a778e"/><stop offset="0.783" stop-color="#375a8c"/><stop offset="1.000" stop-color="#3c508b"/></linearGradient><linearGradient id="g113" gradientUnits="userSpaceOnUse" x1="195.20" x2="255.20" y1="0" y2="0" spreadMethod="reflect"><stop offset="0.000" stop-color="#40bd72"/><stop offset="0.067" stop-color="#35b779"/><stop offset="0.133" stop-color="#21a685"/><stop offset="0.233" stop-color="#20928c"/><stop offset="0.600" stop-color="#31678e"/><stop offset="0.950" stop-color="#3b518b"/><stop offset="1.000" stop-color="#3c508b"/></linearGradient><linearGradient id="g114" gradientUnits="userSpaceOnUse" x1="195.20" x2="255.20" y1="0" y2="0" spreadMethod="reflect"><stop offset="0.000" stop-color="#3aba76"/><stop offset="0.050" stop-color="#32b67a"/><stop offset="0.133" stop-color="#20a386"/><stop offset="0.317" stop-color="#25858e"/><stop offset="0.650" stop-color="#33638d"/><stop offset="1.000" stop-color="#3c508b"/></linearGradient><linearGradient id="g115" gradientUnits="userSpaceOnUse" x1="195.20" x2="255.20" y1="0" y2="0" spreadMethod="reflect"><stop offset="0.000" stop-color="#32b67a"/><stop offset="0.083" stop-color="#25ac82"/><stop offset="0.167" stop-color="#1f9a8a"/><stop offset="0.533" stop-color="#2e6d8e"/><stop offset="0.900" stop-color="#3a538b"/><stop offset="1.000" stop-color="#3c508b"/></linearGradient><linearGradient id="g116" gradientUnits="userSpaceOnUse" x1="195.20" x2="255.20" y1="0" y2="0" spreadMethod="reflect"><stop offset="0.000" stop-color="#2cb17e"/><stop offset="0.117" stop-color="#1fa187"/><stop offset="0.317" stop-color="#25858e"/><stop offset="0.650" stop-color="#33638d"/><stop offset="1.000" stop-color="#3c508b"/></linearGradient><linearGradient id="g117" gradientUnits="userSpaceOnUse" x1="195.20" x2="255.20" y1="0" y2="0" spreadMethod="reflect"><stop offset="0.000" stop-color="#26ad81"/><stop offset="0.150" stop-color="#1f998a"/><stop offset="0.617" stop-color="#32658e"/><stop offset="0.983" stop-color="#3c508b"/><stop offset="1.000" stop-color="#3c508b"/></linearGradient><linearGradient id="g118" gradientUnits="userSpaceOnUse" x1="195.20" x2="255.20" y1="0" y2="0" spreadMethod="reflect"><stop offset="0.000" stop-color="#22a884"/><stop offset="0.183" stop-color="#20938c"/><stop offset="0.633" stop-color="#32648e"/><stop offset="0.983" stop-color="#3c508b"/><stop offset="1.000" stop-color="#3c508b"/></linearGradient><linearGradient id="g119" gradientUnits="userSpaceOnUse" x1="195.20" x2="255.20" y1="0" y2="0" spreadMethod="reflect"><stop offset="0.000" stop-color="#21a585"/><stop offset="0.200" stop-color="#21908d"/><stop offset="0.683" stop-color="#34608d"/><stop offset="1.000" stop-color="#3c508b"/></linearGradient><linearGradient id="g120" gradientUnits="userSpaceOnUse" x1="195.20" x2="255.20" y1="0" y2="0" spreadMethod="reflect"><stop offset="0.000" stop-color="#1fa287"/><stop offset="0.267" stop-color="#23888e"/><stop offset="0.683" stop-color="#34608d"/><stop offset="1.000" stop-color="#3c508b"/></linearGradient><linearGradient id="g121" gradientUnits="userSpaceOnUse" x1="195.20" x2="255.20" y1="0" y2="0" spreadMethod="reflect"><stop offset="0.000" stop-color="#1f9f88"/><stop offset="0.367" stop-color="#287d8e"/><stop offset="0.750" stop-color="#375b8d"/><stop offset="1.000" stop-color="#3c508b"/></linearGradient><linearGradient id="g122" gradientUnits="userSpaceOnUse" x1="195.20" x2="255.20" y1="0" y2="0" spreadMethod="reflect"><stop offset="0.000" stop-color="#1e9c89"/><stop offset="0.333" stop-color="#27808e"/><stop offset="0.733" stop-color="#365c8d"/><stop offset="1.000" stop-color="#3c508b"/></linearGradient><linearGradient id="g123" gradientUnits="userSpaceOnUse" x1="195.20" x2="255.20" y1="0" y2="0" spreadMethod="reflect"><stop offset="0.000" stop-color="#1f998a"/><stop offset="0.267" stop-color="#25858e"/><stop offset="0.700" stop-color="#355e8d"/><stop offset="1.000" stop-color="#3c508b"/></linearGradient><linearGradient id="g124" gradientUnits="userSpaceOnUse" x1="195.20" x2="255.20" y1="0" y2="0" spreadMethod="reflect"><stop offset="0.000" stop-color="#1f978b"/><stop offset="0.283" stop-color="#26828e"/><stop offset="0.717" stop-color="#365d8d"/><stop offset="1.000" stop-color="#3c508b"/></linearGradient><linearGradient id="g125" gradientUnits="userSpaceOnUse" x1="195.20" x2="255.20" y1="0" y2="0" spreadMethod="reflect"><stop offset="0.000" stop-color="#1f948c"/><stop offset="0.233" stop-color="#24868e"/><stop offset="0.750" stop-color="#375a8c"/><stop offset="1.000" stop-color="#3c508b"/></linearGradient><linearGradient id="g126" gradientUnits="userSpaceOnUse" x1="195.20" x2="255.20" y1="0" y2="0" spreadMethod="reflect"><stop offset="0.000" stop-color="#20928c"/><stop offset="0.250" stop-color="#25838e"/><stop offset="0.733" stop-color="#375b8d"/><stop offset="1.000" stop-color="#3c508b"/></linearGradient><linearGradient id="g127" gradientUnits="userSpaceOnUse" x1="195.20" x2="255.20" y1="0" y2="0" spreadMethod="reflect"><stop offset="0.000" stop-color="#21908d"/><stop offset="0.200" stop-color="#24868e"/><stop offset="0.733" stop-color="#375b8d"/><stop offset="1.000" stop-color="#3c508b"/></linearGradient><linearGradient id="g128" gradientUnits="userSpaceOnUse" x1="195.20" x2="255.20" y1="0" y2="0" spreadMethod="reflect"><stop offset="0.000" stop-color="#218e8d"/><stop offset="0.233" stop-color="#26828e"/><stop offset="0.750" stop-color="#38598c"/><stop offset="1.000" stop-color="#3c4f8a"/></linearGradient><linearGradient id="g129" gradientUnits="userSpaceOnUse" x1="195.20" x2="255.20" y1="0" y2="0" spreadMethod="reflect"><stop offset="0.000" stop-color="#228c8d"/><stop offset="0.217" stop-color="#26828e"/><stop offset="0.767" stop-color="#38588c"/><stop offset="1.000" stop-color="#3c4f8a"/></linearGradient><linearGradient id="g130" gradientUnits="userSpaceOnUse" x1="195.20" x2="255.20" y1="0" y2="0" spreadMethod="reflect"><stop offset="0.000" stop-color="#238a8d"/><stop offset="0.183" stop-color="#25838e"/><stop offset="0.783" stop-color="#39568c"/><stop offset="1.000" stop-color="#3c4f8a"/></linearGradient><linearGradient id="g131" gradientUnits="userSpaceOnUse" x1="195.20" x2="255.20" y1="0" y2="0" spreadMethod="reflect"><stop offset="0.000" stop-color="#23888e"/><stop offset="0.217" stop-color="#27808e"/><stop offset="0.767" stop-color="#38588c"/><stop offset="1.000" stop-color="#3d4e8a"/></linearGradient><linearGradient id="g132" gradientUnits="userSpaceOnUse" x1="195.20" x2="255.20" y1="0" y2="0" spreadMethod="reflect"><stop offset="0.000" stop-color="#24868e"/><stop offset="0.217" stop-color="#277e8e"/><stop offset="0.767" stop-color="#39568c"/><stop offset="1.000" stop-color="#3d4e8a"/></linearGradient><linearGradient id="g133" gradientUnits="userSpaceOnUse" x1="195.20" x2="255.20" y1="0" y2="0" spreadMethod="reflect"><stop offset="0.000" stop-color="#25848e"/><stop offset="0.217" stop-color="#287d8e"/><stop offset="0.800" stop-color="#3a548c"/><stop offset="1.000" stop-color="#3d4e8a"/></linearGradient><linearGradient id="g134" gradientUnits="userSpaceOnUse" x1="195.20" x2="255.20" y1="0" y2="0" spreadMethod="reflect"><stop offset="0.000" stop-color="#26828e"/><stop offset="0.200" stop-color="#287c8e"/><stop offset="0.867" stop-color="#3b518b"/><stop offset="1.000" stop-color="#3d4d8a"/></linearGradient><linearGradient id="g135" gradientUnits="userSpaceOnUse" x1="195.20" x2="255.20" y1="0" y2="0" spreadMethod="reflect"><stop offset="0.000" stop-color="#26828e"/><stop offset="0.217" stop-color="#297a8e"/><stop offset="0.850" stop-color="#3b518b"/><stop offset="1.000" stop-color="#3d4d8a"/></linearGradient><linearGradient id="g136" gradientUnits="userSpaceOnUse" x1="195.20" x2="255.20" y1="0" y2="0" spreadMethod="reflect"><stop offset="0.000" stop-color="#27808e"/><stop offset="0.233" stop-color="#2a778e"/><stop offset="0.867" stop-color="#3c508b"/><stop offset="1.000" stop-color="#3e4c8a"/></linearGradient><linearGradient id="g137" gradientUnits="userSpaceOnUse" x1="195.20" x2="255.20" y1="0" y2="0" spreadMethod="reflect"><stop offset="0.000" stop-color="#277e8e"/><stop offset="0.233" stop-color="#2a768e"/><stop offset="0.833" stop-color="#3b518b"/><stop offset="1.000" stop-color="#3e4c8a"/></linearGradient><linearGradient id="g138" gradientUnits="userSpaceOnUse" x1="195.20" x2="255.20" y1="0" y2="0" spreadMethod="reflect"><stop offset="0.000" stop-color="#287d8e"/><stop offset="0.267" stop-color="#2c728e"/><stop offset="0.917" stop-color="#3d4d8a"/><stop offset="1.000" stop-color="#3e4a89"/></linearGradient><linearGradient id="g139" gradientUnits="userSpaceOnUse" x1="195.20" x2="255.20" y1="0" y2="0" spreadMethod="reflect"><stop offset="0.000" stop-color="#297b8e"/><stop offset="0.283" stop-color="#2d718e"/><stop offset="0.933" stop-color="#3e4c8a"/><stop offset="1.000" stop-color="#3e4a89"/></linearGradient><linearGradient id="g140" gradientUnits="userSpaceOnUse" x1="195.20" x2="255.20" y1="0" y2="0" spreadMethod="reflect"><stop offset="0.000" stop-color="#297a8e"/><stop offset="0.317" stop-color="#2e6e8e"/><stop offset="0.967" stop-color="#3e4989"/><stop offset="1.000" stop-color="#3e4989"/></linearGradient><linearGradient id="g141" gradientUnits="userSpaceOnUse" x1="195.20" x2="255.20" y1="0" y2="0" spreadMethod="reflect"><stop offset="0.000" stop-color="#2a788e"/><stop offset="0.250" stop-color="#2d708e"/><stop offset="1.000" stop-color="#3f4889"/></linearGradient><linearGradient id="g142" gradientUnits="userSpaceOnUse" x1="195.20" x2="255.20" y1="0" y2="0" spreadMethod="reflect"><stop offset="0.000" stop-color="#2a778e"/><stop offset="0.367" stop-color="#30698e"/><stop offset="0.983" stop-color="#3f4889"/><stop offset="1.000" stop-color="#3f4889"/></linearGradient><linearGradient id="g143" gradientUnits="userSpaceOnUse" x1="195.20" x2="255.20" y1="0" y2="0" spreadMethod="reflect"><stop offset="0.000" stop-color="#2b758e"/><stop offset="0.333" stop-color="#306a8e"/><stop offset="1.000" stop-color="#3f4788"/></linearGradient><linearGradient id="g144" gradientUnits="userSpaceOnUse" x1="195.20" x2="255.20" y1="0" y2="0" spreadMethod="reflect"><stop offset="0.000" stop-color="#2c738e"/><stop offset="0.267" stop-color="#2f6c8e"/><stop offset="1.000" stop-color="#3f4788"/></linearGradient><linearGradient id="g145" gradientUnits="userSpaceOnUse" x1="195.20" x2="255.20" y1="0" y2="0" spreadMethod="reflect"><stop offset="0.000" stop-color="#2c728e"/><stop offset="0.400" stop-color="#32658e"/><stop offset="1.000" stop-color="#404688"/></linearGradient><linearGradient id="g146" gradientUnits="userSpaceOnUse" x1="195.20" x2="255.20" y1="0" y2="0" spreadMethod="reflect"><stop offset="0.000" stop-color="#2d718e"/><stop offset="0.333" stop-color="#31678e"/><stop offset="0.983" stop-color="#404688"/><stop offset="1.000" stop-color="#404688"/></linearGradient><linearGradient id="g147" gradientUnits="userSpaceOnUse" x1="195.20" x2="255.20" y1="0" y2="0" spreadMethod="reflect"><stop offset="0.000" stop-color="#2d708e"/><stop offset="0.400" stop-color="#33638d"/><stop offset="1.000" stop-color="#404588"/></linearGradient><linearGradient id="g148" gradientUnits="userSpaceOnUse" x1="195.20" x2="255.20" y1="0" y2="0" spreadMethod="reflect"><stop offset="0.000" stop-color="#2e6e8e"/><stop offset="0.383" stop-color="#33638d"/><stop offset="1.000" stop-color="#414487"/></linearGradient><linearGradient id="g149" gradientUnits="userSpaceOnUse" x1="195.20" x2="255.20" y1="0" y2="0" spreadMethod="reflect"><stop offset="0.000" stop-color="#2e6d8e"/><stop offset="0.533" stop-color="#365c8d"/><stop offset="0.983" stop-color="#414487"/><stop offset="1.000" stop-color="#414487"/></linearGradient><linearGradient id="g150" gradientUnits="userSpaceOnUse" x1="195.20" x2="255.20" y1="0" y2="0" spreadMethod="reflect"><stop offset="0.000" stop-color="#2f6b8e"/><stop offset="0.483" stop-color="#365d8d"/><stop offset="1.000" stop-color="#414287"/></linearGradient><linearGradient id="g151" gradientUnits="userSpaceOnUse" x1="195.20" x2="255.20" y1="0" y2="0" spreadMethod="reflect"><stop offset="0.000" stop-color="#306a8e"/><stop offset="0.483" stop-color="#365c8d"/><stop offset="1.000" stop-color="#424186"/></linearGradient><linearGradient id="g152" gradientUnits="userSpaceOnUse" x1="195.20" x2="255.20" y1="0" y2="0" spreadMethod="reflect"><stop offset="0.000" stop-color="#31688e"/><stop offset="0.433" stop-color="#365d8d"/><stop offset="1.000" stop-color="#424186"/></linearGradient><linearGradient id="g153" gradientUnits="userSpaceOnUse" x1="195.20" x2="255.20" y1="0" y2="0" spreadMethod="reflect"><stop offset="0.000" stop-color="#31668e"/><stop offset="0.417" stop-color="#365d8d"/><stop offset="1.000" stop-color="#424086"/></linearGradient><linearGradient id="g154" gradientUnits="userSpaceOnUse" x1="195.20" x2="255.20" y1="0" y2="0" spreadMethod="reflect"><stop offset="0.000" stop-color="#32658e"/><stop offset="0.433" stop-color="#375b8d"/><stop offset="1.000" stop-color="#423f85"/></linearGradient><linearGradient id="g155" gradientUnits="userSpaceOnUse" x1="195.20" x2="255.20" y1="0" y2="0" spreadMethod="reflect"><stop offset="0.000" stop-color="#33638d"/><stop offset="0.417" stop-color="#375b8d"/><stop offset="1.000" stop-color="#423f85"/></linearGradient><linearGradient id="g156" gradientUnits="userSpaceOnUse" x1="195.20" x2="255.20" y1="0" y2="0" spreadMethod="reflect"><stop offset="0.000" stop-color="#33628d"/><stop offset="0.433" stop-color="#38598c"/><stop offset="1.000" stop-color="#433e85"/></linearGradient><linearGradient id="g157" gradientUnits="userSpaceOnUse" x1="195.20" x2="255.20" y1="0" y2="0" spreadMethod="reflect"><stop offset="0.000" stop-color="#34618d"/><stop offset="0.500" stop-color="#39558c"/><stop offset="1.000" stop-color="#433e85"/></linearGradient><linearGradient id="g158" gradientUnits="userSpaceOnUse" x1="195.20" x2="255.20" y1="0" y2="0" spreadMethod="reflect"><stop offset="0.000" stop-color="#355f8d"/><stop offset="0.467" stop-color="#39558c"/><stop offset="1.000" stop-color="#433d84"/></linearGradient><linearGradient id="g159" gradientUnits="userSpaceOnUse" x1="195.20" x2="255.20" y1="0" y2="0" spreadMethod="reflect"><stop offset="0.000" stop-color="#355e8d"/><stop offset="0.467" stop-color="#3a548c"/><stop offset="1.000" stop-color="#443b84"/></linearGradient><linearGradient id="g160" gradientUnits="userSpaceOnUse" x1="195.20" x2="255.20" y1="0" y2="0" spreadMethod="reflect"><stop offset="0.000" stop-color="#365c8d"/><stop offset="0.400" stop-color="#39558c"/><stop offset="1.000" stop-color="#443b84"/></linearGradient><linearGradient id="g161" gradientUnits="userSpaceOnUse" x1="195.20" x2="255.20" y1="0" y2="0" spreadMethod="reflect"><stop offset="0.000" stop-color="#375b8d"/><stop offset="0.400" stop-color="#3a548c"/><stop offset="1.000" stop-color="#443a83"/></linearGradient><linearGradient id="g162" gradientUnits="userSpaceOnUse" x1="195.20" x2="255.20" y1="0" y2="0" spreadMethod="reflect"><stop offset="0.000" stop-color="#375a8c"/><stop offset="0.467" stop-color="#3b518b"/><stop offset="1.000" stop-color="#443a83"/></linearGradient><linearGradient id="g163" gradientUnits="userSpaceOnUse" x1="195.20" x2="255.20" y1="0" y2="0" spreadMethod="reflect"><stop offset="0.000" stop-color="#38598c"/><stop offset="0.467" stop-color="#3c508b"/><stop offset="1.000" stop-color="#443983"/></linearGradient><linearGradient id="g164" gradientUnits="userSpaceOnUse" x1="195.20" x2="255.20" y1="0" y2="0" spreadMethod="reflect"><stop offset="0.000" stop-color="#38588c"/><stop offset="0.517" stop-color="#3d4d8a"/><stop offset="1.000" stop-color="#443983"/></linearGradient><linearGradient id="g165" gradientUnits="userSpaceOnUse" x1="195.20" x2="255.20" y1="0" y2="0" spreadMethod="reflect"><stop offset="0.000" stop-color="#39558c"/><stop offset="0.433" stop-color="#3c4f8a"/><stop offset="1.000" stop-color="#453882"/></linearGradient><linearGradient id="g166" gradientUnits="userSpaceOnUse" x1="195.20" x2="255.20" y1="0" y2="0" spreadMethod="reflect"><stop offset="0.000" stop-color="#3a548c"/><stop offset="0.433" stop-color="#3d4e8a"/><stop offset="1.000" stop-color="#453882"/></linearGradient><linearGradient id="g167" gradientUnits="userSpaceOnUse" x1="195.20" x2="255.20" y1="0" y2="0" spreadMethod="reflect"><stop offset="0.000" stop-color="#3a538b"/><stop offset="0.467" stop-color="#3e4c8a"/><stop offset="1.000" stop-color="#453781"/></linearGradient><linearGradient id="g168" gradientUnits="userSpaceOnUse" x1="195.20" x2="255.20" y1="0" y2="0" spreadMethod="reflect"><stop offset="0.000" stop-color="#3b528b"/><stop offset="0.467" stop-color="#3e4a89"/><stop offset="1.000" stop-color="#453781"/></linearGradient><linearGradient id="g169" gradientUnits="userSpaceOnUse" x1="195.20" x2="255.20" y1="0" y2="0" spreadMethod="reflect"><stop offset="0.000" stop-color="#3b518b"/><stop offset="0.467" stop-color="#3e4989"/><stop offset="1.000" stop-color="#453781"/></linearGradient><linearGradient id="g170" gradientUnits="userSpaceOnUse" x1="195.20" x2="255.20" y1="0" y2="0" spreadMethod="reflect"><stop offset="0.000" stop-color="#3c508b"/><stop offset="0.467" stop-color="#3f4889"/><stop offset="1.000" stop-color="#453581"/></linearGradient><linearGradient id="g171" gradientUnits="userSpaceOnUse" x1="195.20" x2="255.20" y1="0" y2="0" spreadMethod="reflect"><stop offset="0.000" stop-color="#3c4f8a"/><stop offset="0.483" stop-color="#3f4788"/><stop offset="1.000" stop-color="#453581"/></linearGradient><linearGradient id="g172" gradientUnits="userSpaceOnUse" x1="195.20" x2="255.20" y1="0" y2="0" spreadMethod="reflect"><stop offset="0.000" stop-color="#3d4e8a"/><stop offset="0.483" stop-color="#404688"/><stop offset="1.000" stop-color="#453581"/></linearGradient><linearGradient id="g173" gradientUnits="userSpaceOnUse" x1="195.20" x2="255.20" y1="0" y2="0" spreadMethod="reflect"><stop offset="0.000" stop-color="#3d4d8a"/><stop offset="0.483" stop-color="#404588"/><stop offset="1.000" stop-color="#463480"/></linearGradient><linearGradient id="g174" gradientUnits="userSpaceOnUse" x1="195.20" x2="255.20" y1="0" y2="0" spreadMethod="reflect"><stop offset="0.000" stop-color="#3e4c8a"/><stop offset="0.533" stop-color="#414287"/><stop offset="1.000" stop-color="#463480"/></linearGradient><linearGradient id="g175" gradientUnits="userSpaceOnUse" x1="195.20" x2="255.20" y1="0" y2="0" spreadMethod="reflect"><stop offset="0.000" stop-color="#3e4a89"/><stop offset="0.533" stop-color="#424186"/><stop offset="1.000" stop-color="#463480"/></linearGradient><linearGradient id="g176" gradientUnits="userSpaceOnUse" x1="195.20" x2="255.20" y1="0" y2="0" spreadMethod="reflect"><stop offset="0.000" stop-color="#3e4989"/><stop offset="0.517" stop-color="#424186"/><stop offset="1.000" stop-color="#463480"/></linearGradient><linearGradient id="g177" gradientUnits="userSpaceOnUse" x1="195.20" x2="255.20" y1="0" y2="0" spreadMethod="reflect"><stop offset="0.000" stop-color="#3f4889"/><stop offset="0.517" stop-color="#424086"/><stop offset="1.000" stop-color="#46337f"/></linearGradient><linearGradient id="g178" gradientUnits="userSpaceOnUse" x1="195.20" x2="255.20" y1="0" y2="0" spreadMethod="reflect"><stop offset="0.000" stop-color="#3f4788"/><stop offset="0.533" stop-color="#423f85"/><stop offset="1.000" stop-color="#46337f"/></linearGradient><linearGradient id="g179" gradientUnits="userSpaceOnUse" x1="195.20" x2="255.20" y1="0" y2="0" spreadMethod="reflect"><stop offset="0.000" stop-color="#3f4788"/><stop offset="0.683" stop-color="#443a83"/><stop offset="1.000" stop-color="#46337f"/></linearGradient><linearGradient id="g180" gradientUnits="userSpaceOnUse" x1="195.20" x2="255.20" y1="0" y2="0" spreadMethod="reflect"><stop offset="0.000" stop-color="#404688"/><stop offset="0.700" stop-color="#443983"/><stop offset="1.000" stop-color="#46337f"/></linearGradient><linearGradient id="g181" gradientUnits="userSpaceOnUse" x1="195.20" x2="255.20" y1="0" y2="0" spreadMethod="reflect"><stop offset="0.000" stop-color="#404588"/><stop offset="0.733" stop-color="#453882"/><stop offset="1.000" stop-color="#46337f"/></linearGradient><linearGradient id="g182" gradientUnits="userSpaceOnUse" x1="195.20" x2="255.20" y1="0" y2="0" spreadMethod="reflect"><stop offset="0.000" stop-color="#414487"/><stop offset="0.767" stop-color="#453781"/><stop offset="1.000" stop-color="#46327e"/></linearGradient><linearGradient id="g183" gradientUnits="userSpaceOnUse" x1="195.20" x2="255.20" y1="0" y2="0" spreadMethod="reflect"><stop offset="0.000" stop-color="#414287"/><stop offset="1.000" stop-color="#46327e"/></linearGradient><linearGradient id="g184" gradientUnits="userSpaceOnUse" x1="195.20" x2="255.20" y1="0" y2="0" spreadMethod="reflect"><stop offset="0.000" stop-color="#424186"/><stop offset="1.000" stop-color="#46327e"/></linearGradient><linearGradient id="g185" gradientUnits="userSpaceOnUse" x1="195.20" x2="255.20" y1="0" y2="0" spreadMethod="reflect"><stop offset="0.000" stop-color="#424186"/><stop offset="1.000" stop-color="#46327e"/></linearGradient><linearGradient id="g186" gradientUnits="userSpaceOnUse" x1="195.20" x2="255.20" y1="0" y2="0" spreadMethod="reflect"><stop offset="0.000" stop-color="#424086"/><stop offset="1.000" stop-color="#46327e"/></linearGradient><linearGradient id="g187" gradientUnits="userSpaceOnUse" x1="195.20" x2="255.20" y1="0" y2="0" spreadMethod="reflect"><stop offset="0.000" stop-color="#423f85"/><stop offset="1.000" stop-color="#46327e"/></linearGradient><linearGradient id="g188" gradientUnits="userSpaceOnUse" x1="195.20" x2="255.20" y1="0" y2="0" spreadMethod="reflect"><stop offset="0.000" stop-color="#433e85"/><stop offset="1.000" stop-color="#46307e"/></linearGradient><linearGradient id="g189" gradientUnits="userSpaceOnUse" x1="195.20" x2="255.20" y1="0" y2="0" spreadMethod="reflect"><stop offset="0.000" stop-color="#433d84"/><stop offset="1.000" stop-color="#46307e"/></linearGradient><linearGradient id="g190" gradientUnits="userSpaceOnUse" x1="195.20" x2="255.20" y1="0" y2="0" spreadMethod="reflect"><stop offset="0.000" stop-color="#443b84"/><stop offset="1.000" stop-color="#46307e"/></linearGradient><linearGradient id="g191" gradientUnits="userSpaceOnUse" x1="195.20" x2="255.20" y1="0" y2="0" spreadMethod="reflect"><stop offset="0.000" stop-color="#443b84"/><stop offset="1.000" stop-color="#46307e"/></linearGradient><linearGradient id="g192" gradientUnits="userSpaceOnUse" x1="195.20" x2="255.20" y1="0" y2="0" spreadMethod="reflect"><stop offset="0.000" stop-color="#443a83"/><stop offset="1.000" stop-color="#46307e"/></linearGradient><linearGradient id="g193" gradientUnits="userSpaceOnUse" x1="195.20" x2="255.20" y1="0" y2="0" spreadMethod="reflect"><stop offset="0.000" stop-color="#443983"/><stop offset="1.000" stop-color="#46307e"/></linearGradient><linearGradient id="g194" gradientUnits="userSpaceOnUse" x1="195.20" x2="255.20" y1="0" y2="0" spreadMethod="reflect"><stop offset="0.000" stop-color="#453882"/><stop offset="1.000" stop-color="#472f7d"/></linearGradient><linearGradient id="g195" gradientUnits="userSpaceOnUse" x1="195.20" x2="255.20" y1="0" y2="0" spreadMethod="reflect"><stop offset="0.000" stop-color="#453781"/><stop offset="1.000" stop-color="#472f7d"/></linearGradient><linearGradient id="g196" gradientUnits="userSpaceOnUse" x1="195.20" x2="255.20" y1="0" y2="0" spreadMethod="reflect"><stop offset="0.000" stop-color="#453581"/><stop offset="1.000" stop-color="#472f7d"/></linearGradient><clipPath id="cp2"><rect x="260.20" y="18.40" width="116.60" height="96.90"/></clipPath><linearGradient id="g197" gradientUnits="userSpaceOnUse" x1="318.50" x2="378.50" y1="0" y2="0" spreadMethod="reflect"><stop offset="0.000" stop-color="#6ece58"/><stop offset="0.033" stop-color="#69cd5b"/><stop offset="0.050" stop-color="#63cb5f"/><stop offset="0.083" stop-color="#42be71"/><stop offset="0.100" stop-color="#2fb47c"/><stop offset="0.117" stop-color="#22a884"/><stop offset="0.167" stop-color="#1f988b"/><stop offset="0.317" stop-color="#27808e"/><stop offset="0.750" stop-color="#375a8c"/><stop offset="1.000" stop-color="#3c4f8a"/></linearGradient><linearGradient id="g198" gradientUnits="userSpaceOnUse" x1="318.50" x2="378.50" y1="0" y2="0" spreadMethod="reflect"><stop offset="0.000" stop-color="#67cc5c"/><stop offset="0.033" stop-color="#65cb5e"/><stop offset="0.067" stop-color="#54c568"/><stop offset="0.100" stop-color="#32b67a"/><stop offset="0.117" stop-color="#25ac82"/><stop offset="0.167" stop-color="#1e9b8a"/><stop offset="0.317" stop-color="#26818e"/><stop offset="0.750" stop-color="#375a8c"/><stop offset="1.000" stop-color="#3c508b"/></linearGradient><linearGradient id="g199" gradientUnits="userSpaceOnUse" x1="318.50" x2="378.50" y1="0" y2="0" spreadMethod="reflect"><stop offset="0.000" stop-color="#63cb5f"/><stop offset="0.050" stop-color="#5cc863"/><stop offset="0.083" stop-color="#46c06f"/><stop offset="0.117" stop-color="#2cb17e"/><stop offset="0.150" stop-color="#20a486"/><stop offset="0.250" stop-color="#228c8d"/><stop offset="0.483" stop-color="#2d708e"/><stop offset="0.833" stop-color="#39558c"/><stop offset="1.000" stop-color="#3c508b"/></linearGradient><linearGradient id="g200" gradientUnits="userSpaceOnUse" x1="318.50" x2="378.50" y1="0" y2="0" spreadMethod="reflect"><stop offset="0.000" stop-color="#5ec962"/><stop offset="0.050" stop-color="#58c765"/><stop offset="0.083" stop-color="#48c16e"/><stop offset="0.117" stop-color="#31b57b"/><stop offset="0.150" stop-color="#23a983"/><stop offset="0.200" stop-color="#1f9a8a"/><stop offset="0.317" stop-color="#26828e"/><stop offset="0.683" stop-color="#355f8d"/><stop offset="1.000" stop-color="#3c508b"/></linearGradient><linearGradient id="g201" gradientUnits="userSpaceOnUse" x1="318.50" x2="378.50" y1="0" y2="0" spreadMethod="reflect"><stop offset="0.000" stop-color="#5ac864"/><stop offset="0.033" stop-color="#5ac864"/><stop offset="0.083" stop-color="#4ac16d"/><stop offset="0.150" stop-color="#27ad81"/><stop offset="0.200" stop-color="#1e9d89"/><stop offset="0.317" stop-color="#25838e"/><stop offset="0.667" stop-color="#34608d"/><stop offset="1.000" stop-color="#3c508b"/></linearGradient><linearGradient id="g202" gradientUnits="userSpaceOnUse" x1="318.50" x2="378.50" y1="0" y2="0" spreadMethod="reflect"><stop offset="0.000" stop-color="#58c765"/><stop offset="0.067" stop-color="#50c46a"/><stop offset="0.133" stop-color="#35b779"/><stop offset="0.167" stop-color="#25ac82"/><stop offset="0.217" stop-color="#1f9a8a"/><stop offset="0.317" stop-color="#25848e"/><stop offset="0.633" stop-color="#33638d"/><stop offset="0.983" stop-color="#3c508b"/><stop offset="1.000" stop-color="#3c508b"/></linearGradient><linearGradient id="g203" gradientUnits="userSpaceOnUse" x1="318.50" x2="378.50" y1="0" y2="0" spreadMethod="reflect"><stop offset="0.000" stop-color="#54c568"/><stop offset="0.067" stop-color="#50c46a"/><stop offset="0.133" stop-color="#38b977"/><stop offset="0.183" stop-color="#22a785"/><stop offset="0.250" stop-color="#20928c"/><stop offset="0.400" stop-color="#297a8e"/><stop offset="0.750" stop-color="#375b8d"/><stop offset="1.000" stop-color="#3c508b"/></linearGradient><linearGradient id="g204" gradientUnits="userSpaceOnUse" x1="318.50" x2="378.50" y1="0" y2="0" spreadMethod="reflect"><stop offset="0.000" stop-color="#50c46a"/><stop offset="0.083" stop-color="#4ac16d"/><stop offset="0.150" stop-color="#2fb47c"/><stop offset="0.183" stop-color="#22a785"/><stop offset="0.250" stop-color="#20938c"/><stop offset="0.400" stop-color="#297b8e"/><stop offset="0.717" stop-color="#365d8d"/><stop offset="1.000" stop-color="#3c508b"/></linearGradient><linearGradient id="g205" gradientUnits="userSpaceOnUse" x1="318.50" x2="378.50" y1="0" y2="0" spreadMethod="reflect"><stop offset="0.000" stop-color="#4cc26c"/><stop offset="0.067" stop-color="#4ac16d"/><stop offset="0.117" stop-color="#3bbb75"/><stop offset="0.183" stop-color="#22a785"/><stop offset="0.250" stop-color="#1f948c"/><stop offset="0.417" stop-color="#29798e"/><stop offset="0.733" stop-color="#365c8d"/><stop offset="1.000" stop-color="#3c508b"/></linearGradient><linearGradient id="g206" gradientUnits="userSpaceOnUse" x1="318.50" x2="378.50" y1="0" y2="0" spreadMethod="reflect"><stop offset="0.000" stop-color="#4ac16d"/><stop offset="0.067" stop-color="#46c06f"/><stop offset="0.117" stop-color="#38b977"/><stop offset="0.183" stop-color="#21a685"/><stop offset="0.267" stop-color="#21918c"/><stop offset="0.467" stop-color="#2c738e"/><stop offset="0.783" stop-color="#38598c"/><stop offset="1.000" stop-color="#3c508b"/></linearGradient><linearGradient id="g207" gradientUnits="userSpaceOnUse" x1="318.50" x2="378.50" y1="0" y2="0" spreadMethod="reflect"><stop offset="0.000" stop-color="#46c06f"/><stop offset="0.083" stop-color="#3fbc73"/><stop offset="0.150" stop-color="#29af7f"/><stop offset="0.200" stop-color="#1fa188"/><stop offset="0.333" stop-color="#25858e"/><stop offset="0.583" stop-color="#31688e"/><stop offset="0.917" stop-color="#3b528b"/><stop offset="1.000" stop-color="#3c508b"/></linearGradient><linearGradient id="g208" gradientUnits="userSpaceOnUse" x1="318.50" x2="378.50" y1="0" y2="0" spreadMethod="reflect"><stop offset="0.000" stop-color="#40bd72"/><stop offset="0.083" stop-color="#3bbb75"/><stop offset="0.183" stop-color="#20a486"/><stop offset="0.300" stop-color="#228b8d"/><stop offset="0.533" stop-color="#2e6d8e"/><stop offset="0.850" stop-color="#39558c"/><stop offset="1.000" stop-color="#3c508b"/></linearGradient><linearGradient id="g209" gradientUnits="userSpaceOnUse" x1="318.50" x2="378.50" y1="0" y2="0" spreadMethod="reflect"><stop offset="0.000" stop-color="#3dbc74"/><stop offset="0.083" stop-color="#37b878"/><stop offset="0.183" stop-color="#20a386"/><stop offset="0.317" stop-color="#23888e"/><stop offset="0.550" stop-color="#2f6b8e"/><stop offset="0.967" stop-color="#3c508b"/><stop offset="1.000" stop-color="#3c508b"/></linearGradient><linearGradient id="g210" gradientUnits="userSpaceOnUse" x1="318.50" x2="378.50" y1="0" y2="0" spreadMethod="reflect"><stop offset="0.000" stop-color="#38b977"/><stop offset="0.100" stop-color="#2eb37c"/><stop offset="0.183" stop-color="#1fa287"/><stop offset="0.333" stop-color="#25858e"/><stop offset="0.583" stop-color="#31688e"/><stop offset="0.950" stop-color="#3b518b"/><stop offset="1.000" stop-color="#3c508b"/></linearGradient><linearGradient id="g211" gradientUnits="userSpaceOnUse" x1="318.50" x2="378.50" y1="0" y2="0" spreadMethod="reflect"><stop offset="0.000" stop-color="#32b67a"/><stop offset="0.083" stop-color="#2db27d"/><stop offset="0.200" stop-color="#1f9e89"/><stop offset="0.383" stop-color="#277e8e"/><stop offset="0.683" stop-color="#34608d"/><stop offset="1.000" stop-color="#3c508b"/></linearGradient><linearGradient id="g212" gradientUnits="userSpaceOnUse" x1="318.50" x2="378.50" y1="0" y2="0" spreadMethod="reflect"><stop offset="0.000" stop-color="#2eb37c"/><stop offset="0.117" stop-color="#25ac82"/><stop offset="0.217" stop-color="#1f998a"/><stop offset="0.433" stop-color="#2a778e"/><stop offset="0.750" stop-color="#365c8d"/><stop offset="1.000" stop-color="#3c508b"/></linearGradient><linearGradient id="g213" gradientUnits="userSpaceOnUse" x1="318.50" x2="378.50" y1="0" y2="0" spreadMethod="reflect"><stop offset="0.000" stop-color="#29af7f"/><stop offset="0.133" stop-color="#22a785"/><stop offset="0.233" stop-color="#1f948c"/><stop offset="0.483" stop-color="#2c718e"/><stop offset="0.817" stop-color="#38588c"/><stop offset="1.000" stop-color="#3c508b"/></linearGradient><linearGradient id="g214" gradientUnits="userSpaceOnUse" x1="318.50" x2="378.50" y1="0" y2="0" spreadMethod="reflect"><stop offset="0.000" stop-color="#26ad81"/><stop offset="0.133" stop-color="#20a486"/><stop offset="0.267" stop-color="#218e8d"/><stop offset="0.550" stop-color="#2f6b8e"/><stop offset="0.900" stop-color="#3a538b"/><stop offset="1.000" stop-color="#3c508b"/></linearGradient><linearGradient id="g215" gradientUnits="userSpaceOnUse" x1="318.50" x2="378.50" y1="0" y2="0" spreadMethod="reflect"><stop offset="0.000" stop-color="#23a983"/><stop offset="0.117" stop-color="#20a386"/><stop offset="0.283" stop-color="#238a8d"/><stop offset="0.617" stop-color="#32658e"/><stop offset="0.983" stop-color="#3c508b"/><stop offset="1.000" stop-color="#3c508b"/></linearGradient><linearGradient id="g216" gradientUnits="userSpaceOnUse" x1="318.50" x2="378.50" y1="0" y2="0" spreadMethod="reflect"><stop offset="0.000" stop-color="#21a585"/><stop offset="0.133" stop-color="#1f9f88"/><stop offset="0.433" stop-color="#2a778e"/><stop offset="0.750" stop-color="#375b8d"/><stop offset="1.000" stop-color="#3c508b"/></linearGradient><linearGradient id="g217" gradientUnits="userSpaceOnUse" x1="318.50" x2="378.50" y1="0" y2="0" spreadMethod="reflect"><stop offset="0.000" stop-color="#1fa287"/><stop offset="0.150" stop-color="#1e9b8a"/><stop offset="0.450" stop-color="#2b748e"/><stop offset="0.783" stop-color="#38598c"/><stop offset="1.000" stop-color="#3c508b"/></linearGradient><linearGradient id="g218" gradientUnits="userSpaceOnUse" x1="318.50" x2="378.50" y1="0" y2="0" spreadMethod="reflect"><stop offset="0.000" stop-color="#1fa088"/><stop offset="0.150" stop-color="#1f988b"/><stop offset="0.533" stop-color="#2f6c8e"/><stop offset="0.850" stop-color="#39558c"/><stop offset="1.000" stop-color="#3c508b"/></linearGradient><linearGradient id="g219" gradientUnits="userSpaceOnUse" x1="318.50" x2="378.50" y1="0" y2="0" spreadMethod="reflect"><stop offset="0.000" stop-color="#1e9d89"/><stop offset="0.150" stop-color="#1f968b"/><stop offset="0.550" stop-color="#306a8e"/><stop offset="0.917" stop-color="#3b528b"/><stop offset="1.000" stop-color="#3c508b"/></linearGradient><linearGradient id="g220" gradientUnits="userSpaceOnUse" x1="318.50" x2="378.50" y1="0" y2="0" spreadMethod="reflect"><stop offset="0.000" stop-color="#1e9b8a"/><stop offset="0.167" stop-color="#20928c"/><stop offset="0.583" stop-color="#31678e"/><stop offset="0.917" stop-color="#3b528b"/><stop offset="1.000" stop-color="#3c508b"/></linearGradient><linearGradient id="g221" gradientUnits="userSpaceOnUse" x1="318.50" x2="378.50" y1="0" y2="0" spreadMethod="reflect"><stop offset="0.000" stop-color="#1f988b"/><stop offset="0.183" stop-color="#218f8d"/><stop offset="0.650" stop-color="#34618d"/><stop offset="1.000" stop-color="#3c508b"/></linearGradient><linearGradient id="g222" gradientUnits="userSpaceOnUse" x1="318.50" x2="378.50" y1="0" y2="0" spreadMethod="reflect"><stop offset="0.000" stop-color="#1f968b"/><stop offset="0.183" stop-color="#228d8d"/><stop offset="0.717" stop-color="#365c8d"/><stop offset="1.000" stop-color="#3c508b"/></linearGradient><linearGradient id="g223" gradientUnits="userSpaceOnUse" x1="318.50" x2="378.50" y1="0" y2="0" spreadMethod="reflect"><stop offset="0.000" stop-color="#20938c"/><stop offset="0.183" stop-color="#228b8d"/><stop offset="0.717" stop-color="#365c8d"/><stop offset="1.000" stop-color="#3c508b"/></linearGradient><linearGradient id="g224" gradientUnits="userSpaceOnUse" x1="318.50" x2="378.50" y1="0" y2="0" spreadMethod="reflect"><stop offset="0.000" stop-color="#20928c"/><stop offset="0.183" stop-color="#23898e"/><stop offset="0.733" stop-color="#375b8d"/><stop offset="1.000" stop-color="#3c508b"/></linearGradient><linearGradient id="g225" gradientUnits="userSpaceOnUse" x1="318.50" x2="378.50" y1="0" y2="0" spreadMethod="reflect"><stop offset="0.000" stop-color="#21908d"/><stop offset="0.200" stop-color="#24868e"/><stop offset="0.750" stop-color="#38598c"/><stop offset="1.000" stop-color="#3c508b"/></linearGradient><linearGradient id="g226" gradientUnits="userSpaceOnUse" x1="318.50" x2="378.50" y1="0" y2="0" spreadMethod="reflect"><stop offset="0.000" stop-color="#218e8d"/><stop offset="0.233" stop-color="#26828e"/><stop offset="0.767" stop-color="#38588c"/><stop offset="1.000" stop-color="#3c4f8a"/></linearGradient><linearGradient id="g227" gradientUnits="userSpaceOnUse" x1="318.50" x2="378.50" y1="0" y2="0" spreadMethod="reflect"><stop offset="0.000" stop-color="#228c8d"/><stop offset="0.233" stop-color="#26818e"/><stop offset="0.783" stop-color="#39568c"/><stop offset="1.000" stop-color="#3c4f8a"/></linearGradient><linearGradient id="g228" gradientUnits="userSpaceOnUse" x1="318.50" x2="378.50" y1="0" y2="0" spreadMethod="reflect"><stop offset="0.000" stop-color="#238a8d"/><stop offset="0.250" stop-color="#277e8e"/><stop offset="0.767" stop-color="#38588c"/><stop offset="1.000" stop-color="#3c4f8a"/></linearGradient><linearGradient id="g229" gradientUnits="userSpaceOnUse" x1="318.50" x2="378.50" y1="0" y2="0" spreadMethod="reflect"><stop offset="0.000" stop-color="#23888e"/><stop offset="0.233" stop-color="#277e8e"/><stop offset="0.767" stop-color="#39568c"/><stop offset="1.000" stop-color="#3d4e8a"/></linearGradient><linearGradient id="g230" gradientUnits="userSpaceOnUse" x1="318.50" x2="378.50" y1="0" y2="0" spreadMethod="reflect"><stop offset="0.000" stop-color="#24868e"/><stop offset="0.217" stop-color="#287d8e"/><stop offset="0.800" stop-color="#3a548c"/><stop offset="1.000" stop-color="#3d4e8a"/></linearGradient><linearGradient id="g231" gradientUnits="userSpaceOnUse" x1="318.50" x2="378.50" y1="0" y2="0" spreadMethod="reflect"><stop offset="0.000" stop-color="#25848e"/><stop offset="0.250" stop-color="#297a8e"/><stop offset="0.817" stop-color="#3a538b"/><stop offset="1.000" stop-color="#3d4e8a"/></linearGradient><linearGradient id="g232" gradientUnits="userSpaceOnUse" x1="318.50" x2="378.50" y1="0" y2="0" spreadMethod="reflect"><stop offset="0.000" stop-color="#26828e"/><stop offset="0.217" stop-color="#297a8e"/><stop offset="0.833" stop-color="#3b528b"/><stop offset="1.000" stop-color="#3d4d8a"/></linearGradient><linearGradient id="g233" gradientUnits="userSpaceOnUse" x1="318.50" x2="378.50" y1="0" y2="0" spreadMethod="reflect"><stop offset="0.000" stop-color="#26828e"/><stop offset="0.283" stop-color="#2b758e"/><stop offset="0.867" stop-color="#3c508b"/><stop offset="1.000" stop-color="#3d4d8a"/></linearGradient><linearGradient id="g234" gradientUnits="userSpaceOnUse" x1="318.50" x2="378.50" y1="0" y2="0" spreadMethod="reflect"><stop offset="0.000" stop-color="#27808e"/><stop offset="0.250" stop-color="#2b758e"/><stop offset="0.833" stop-color="#3b518b"/><stop offset="1.000" stop-color="#3e4c8a"/></linearGradient><linearGradient id="g235" gradientUnits="userSpaceOnUse" x1="318.50" x2="378.50" y1="0" y2="0" spreadMethod="reflect"><stop offset="0.000" stop-color="#277e8e"/><stop offset="0.233" stop-color="#2b758e"/><stop offset="0.900" stop-color="#3d4e8a"/><stop offset="1.000" stop-color="#3e4c8a"/></linearGradient><linearGradient id="g236" gradientUnits="userSpaceOnUse" x1="318.50" x2="378.50" y1="0" y2="0" spreadMethod="reflect"><stop offset="0.000" stop-color="#287d8e"/><stop offset="0.300" stop-color="#2d718e"/><stop offset="0.883" stop-color="#3d4e8a"/><stop offset="1.000" stop-color="#3e4a89"/></linearGradient><linearGradient id="g237" gradientUnits="userSpaceOnUse" x1="318.50" x2="378.50" y1="0" y2="0" spreadMethod="reflect"><stop offset="0.000" stop-color="#297b8e"/><stop offset="0.283" stop-color="#2d718e"/><stop offset="0.900" stop-color="#3d4d8a"/><stop offset="1.000" stop-color="#3e4a89"/></linearGradient><linearGradient id="g238" gradientUnits="userSpaceOnUse" x1="318.50" x2="378.50" y1="0" y2="0" spreadMethod="reflect"><stop offset="0.000" stop-color="#29798e"/><stop offset="0.250" stop-color="#2d718e"/><stop offset="0.967" stop-color="#3e4989"/><stop offset="1.000" stop-color="#3e4989"/></linearGradient><linearGradient id="g239" gradientUnits="userSpaceOnUse" x1="318.50" x2="378.50" y1="0" y2="0" spreadMethod="reflect"><stop offset="0.000" stop-color="#2a788e"/><stop offset="0.283" stop-color="#2e6e8e"/><stop offset="0.983" stop-color="#3f4889"/><stop offset="1.000" stop-color="#3f4889"/></linearGradient><linearGradient id="g240" gradientUnits="userSpaceOnUse" x1="318.50" x2="378.50" y1="0" y2="0" spreadMethod="reflect"><stop offset="0.000" stop-color="#2a768e"/><stop offset="0.267" stop-color="#2e6e8e"/><stop offset="0.983" stop-color="#3f4889"/><stop offset="1.000" stop-color="#3f4889"/></linearGradient><linearGradient id="g241" gradientUnits="userSpaceOnUse" x1="318.50" x2="378.50" y1="0" y2="0" spreadMethod="reflect"><stop offset="0.000" stop-color="#2b758e"/><stop offset="0.367" stop-color="#31688e"/><stop offset="0.983" stop-color="#3f4788"/><stop offset="1.000" stop-color="#3f4788"/></linearGradient><linearGradient id="g242" gradientUnits="userSpaceOnUse" x1="318.50" x2="378.50" y1="0" y2="0" spreadMethod="reflect"><stop offset="0.000" stop-color="#2c738e"/><stop offset="0.300" stop-color="#306a8e"/><stop offset="0.983" stop-color="#3f4788"/><stop offset="1.000" stop-color="#3f4788"/></linearGradient><linearGradient id="g243" gradientUnits="userSpaceOnUse" x1="318.50" x2="378.50" y1="0" y2="0" spreadMethod="reflect"><stop offset="0.000" stop-color="#2c728e"/><stop offset="0.467" stop-color="#34618d"/><stop offset="1.000" stop-color="#404688"/></linearGradient><linearGradient id="g244" gradientUnits="userSpaceOnUse" x1="318.50" x2="378.50" y1="0" y2="0" spreadMethod="reflect"><stop offset="0.000" stop-color="#2d718e"/><stop offset="0.383" stop-color="#32648e"/><stop offset="1.000" stop-color="#404588"/></linearGradient><linearGradient id="g245" gradientUnits="userSpaceOnUse" x1="318.50" x2="378.50" y1="0" y2="0" spreadMethod="reflect"><stop offset="0.000" stop-color="#2e6f8e"/><stop offset="0.333" stop-color="#32658e"/><stop offset="0.750" stop-color="#3c4f8a"/><stop offset="1.000" stop-color="#404588"/></linearGradient><linearGradient id="g246" gradientUnits="userSpaceOnUse" x1="318.50" x2="378.50" y1="0" y2="0" spreadMethod="reflect"><stop offset="0.000" stop-color="#2e6e8e"/><stop offset="0.483" stop-color="#355e8d"/><stop offset="1.000" stop-color="#414487"/></linearGradient><linearGradient id="g247" gradientUnits="userSpaceOnUse" x1="318.50" x2="378.50" y1="0" y2="0" spreadMethod="reflect"><stop offset="0.000" stop-color="#2f6c8e"/><stop offset="0.383" stop-color="#34618d"/><stop offset="0.983" stop-color="#414487"/><stop offset="1.000" stop-color="#414487"/></linearGradient><linearGradient id="g248" gradientUnits="userSpaceOnUse" x1="318.50" x2="378.50" y1="0" y2="0" spreadMethod="reflect"><stop offset="0.000" stop-color="#306a8e"/><stop offset="0.383" stop-color="#34608d"/><stop offset="1.000" stop-color="#414287"/></linearGradient><linearGradient id="g249" gradientUnits="userSpaceOnUse" x1="318.50" x2="378.50" y1="0" y2="0" spreadMethod="reflect"><stop offset="0.000" stop-color="#30698e"/><stop offset="0.517" stop-color="#375a8c"/><stop offset="1.000" stop-color="#424186"/></linearGradient><linearGradient id="g250" gradientUnits="userSpaceOnUse" x1="318.50" x2="378.50" y1="0" y2="0" spreadMethod="reflect"><stop offset="0.000" stop-color="#31678e"/><stop offset="0.433" stop-color="#365c8d"/><stop offset="1.000" stop-color="#424186"/></linearGradient><linearGradient id="g251" gradientUnits="userSpaceOnUse" x1="318.50" x2="378.50" y1="0" y2="0" spreadMethod="reflect"><stop offset="0.000" stop-color="#32658e"/><stop offset="0.417" stop-color="#365c8d"/><stop offset="1.000" stop-color="#424086"/></linearGradient><linearGradient id="g252" gradientUnits="userSpaceOnUse" x1="318.50" x2="378.50" y1="0" y2="0" spreadMethod="reflect"><stop offset="0.000" stop-color="#32648e"/><stop offset="0.467" stop-color="#38598c"/><stop offset="1.000" stop-color="#423f85"/></linearGradient><linearGradient id="g253" gradientUnits="userSpaceOnUse" x1="318.50" x2="378.50" y1="0" y2="0" spreadMethod="reflect"><stop offset="0.000" stop-color="#33628d"/><stop offset="0.433" stop-color="#38598c"/><stop offset="1.000" stop-color="#423f85"/></linearGradient><linearGradient id="g254" gradientUnits="userSpaceOnUse" x1="318.50" x2="378.50" y1="0" y2="0" spreadMethod="reflect"><stop offset="0.000" stop-color="#34618d"/><stop offset="0.483" stop-color="#39558c"/><stop offset="1.000" stop-color="#433e85"/></linearGradient><linearGradient id="g255" gradientUnits="userSpaceOnUse" x1="318.50" x2="378.50" y1="0" y2="0" spreadMethod="reflect"><stop offset="0.000" stop-color="#355f8d"/><stop offset="0.467" stop-color="#39558c"/><stop offset="0.983" stop-color="#433e85"/><stop offset="1.000" stop-color="#433e85"/></linearGradient><linearGradient id="g256" gradientUnits="userSpaceOnUse" x1="318.50" x2="378.50" y1="0" y2="0" spreadMethod="reflect"><stop offset="0.000" stop-color="#355e8d"/><stop offset="0.483" stop-color="#3a538b"/><stop offset="1.000" stop-color="#433d84"/></linearGradient><linearGradient id="g257" gradientUnits="userSpaceOnUse" x1="318.50" x2="378.50" y1="0" y2="0" spreadMethod="reflect"><stop offset="0.000" stop-color="#365c8d"/><stop offset="0.433" stop-color="#3a548c"/><stop offset="1.000" stop-color="#443b84"/></linearGradient><linearGradient id="g258" gradientUnits="userSpaceOnUse" x1="318.50" x2="378.50" y1="0" y2="0" spreadMethod="reflect"><stop offset="0.000" stop-color="#375b8d"/><stop offset="0.467" stop-color="#3b528b"/><stop offset="1.000" stop-color="#443b84"/></linearGradient><linearGradient id="g259" gradientUnits="userSpaceOnUse" x1="318.50" x2="378.50" y1="0" y2="0" spreadMethod="reflect"><stop offset="0.000" stop-color="#375a8c"/><stop offset="0.483" stop-color="#3c508b"/><stop offset="1.000" stop-color="#443a83"/></linearGradient><linearGradient id="g260" gradientUnits="userSpaceOnUse" x1="318.50" x2="378.50" y1="0" y2="0" spreadMethod="reflect"><stop offset="0.000" stop-color="#38588c"/><stop offset="0.433" stop-color="#3b518b"/><stop offset="1.000" stop-color="#443a83"/></linearGradient><linearGradient id="g261" gradientUnits="userSpaceOnUse" x1="318.50" x2="378.50" y1="0" y2="0" spreadMethod="reflect"><stop offset="0.000" stop-color="#39568c"/><stop offset="0.433" stop-color="#3c508b"/><stop offset="1.000" stop-color="#443983"/></linearGradient><linearGradient id="g262" gradientUnits="userSpaceOnUse" x1="318.50" x2="378.50" y1="0" y2="0" spreadMethod="reflect"><stop offset="0.000" stop-color="#39558c"/><stop offset="0.467" stop-color="#3d4e8a"/><stop offset="1.000" stop-color="#443983"/></linearGradient><linearGradient id="g263" gradientUnits="userSpaceOnUse" x1="318.50" x2="378.50" y1="0" y2="0" spreadMethod="reflect"><stop offset="0.000" stop-color="#3a548c"/><stop offset="0.467" stop-color="#3d4d8a"/><stop offset="1.000" stop-color="#453882"/></linearGradient><linearGradient id="g264" gradientUnits="userSpaceOnUse" x1="318.50" x2="378.50" y1="0" y2="0" spreadMethod="reflect"><stop offset="0.000" stop-color="#3a538b"/><stop offset="0.467" stop-color="#3e4c8a"/><stop offset="1.000" stop-color="#453882"/></linearGradient><linearGradient id="g265" gradientUnits="userSpaceOnUse" x1="318.50" x2="378.50" y1="0" y2="0" spreadMethod="reflect"><stop offset="0.000" stop-color="#3b528b"/><stop offset="0.500" stop-color="#3e4989"/><stop offset="1.000" stop-color="#453882"/></linearGradient><linearGradient id="g266" gradientUnits="userSpaceOnUse" x1="318.50" x2="378.50" y1="0" y2="0" spreadMethod="reflect"><stop offset="0.000" stop-color="#3b518b"/><stop offset="0.500" stop-color="#3f4889"/><stop offset="1.000" stop-color="#453781"/></linearGradient><linearGradient id="g267" gradientUnits="userSpaceOnUse" x1="318.50" x2="378.50" y1="0" y2="0" spreadMethod="reflect"><stop offset="0.000" stop-color="#3c508b"/><stop offset="0.517" stop-color="#3f4788"/><stop offset="1.000" stop-color="#453781"/></linearGradient><linearGradient id="g268" gradientUnits="userSpaceOnUse" x1="318.50" x2="378.50" y1="0" y2="0" spreadMethod="reflect"><stop offset="0.000" stop-color="#3c4f8a"/><stop offset="0.517" stop-color="#404688"/><stop offset="1.000" stop-color="#453781"/></linearGradient><linearGradient id="g269" gradientUnits="userSpaceOnUse" x1="318.50" x2="378.50" y1="0" y2="0" spreadMethod="reflect"><stop offset="0.000" stop-color="#3d4e8a"/><stop offset="0.483" stop-color="#404688"/><stop offset="1.000" stop-color="#453581"/></linearGradient><linearGradient id="g270" gradientUnits="userSpaceOnUse" x1="318.50" x2="378.50" y1="0" y2="0" spreadMethod="reflect"><stop offset="0.000" stop-color="#3d4d8a"/><stop offset="0.533" stop-color="#414487"/><stop offset="1.000" stop-color="#453581"/></linearGradient><linearGradient id="g271" gradientUnits="userSpaceOnUse" x1="318.50" x2="378.50" y1="0" y2="0" spreadMethod="reflect"><stop offset="0.000" stop-color="#3e4c8a"/><stop offset="0.500" stop-color="#414487"/><stop offset="1.000" stop-color="#453581"/></linearGradient><linearGradient id="g272" gradientUnits="userSpaceOnUse" x1="318.50" x2="378.50" y1="0" y2="0" spreadMethod="reflect"><stop offset="0.000" stop-color="#3e4a89"/><stop offset="0.517" stop-color="#414287"/><stop offset="1.000" stop-color="#463480"/></linearGradient><linearGradient id="g273" gradientUnits="userSpaceOnUse" x1="318.50" x2="378.50" y1="0" y2="0" spreadMethod="reflect"><stop offset="0.000" stop-color="#3e4989"/><stop offset="0.517" stop-color="#424186"/><stop offset="1.000" stop-color="#463480"/></linearGradient><linearGradient id="g274" gradientUnits="userSpaceOnUse" x1="318.50" x2="378.50" y1="0" y2="0" spreadMethod="reflect"><stop offset="0.000" stop-color="#3f4889"/><stop offset="0.500" stop-color="#424186"/><stop offset="1.000" stop-color="#463480"/></linearGradient><linearGradient id="g275" gradientUnits="userSpaceOnUse" x1="318.50" x2="378.50" y1="0" y2="0" spreadMethod="reflect"><stop offset="0.000" stop-color="#3f4889"/><stop offset="0.633" stop-color="#433d84"/><stop offset="1.000" stop-color="#463480"/></linearGradient><linearGradient id="g276" gradientUnits="userSpaceOnUse" x1="318.50" x2="378.50" y1="0" y2="0" spreadMethod="reflect"><stop offset="0.000" stop-color="#3f4788"/><stop offset="0.650" stop-color="#443b84"/><stop offset="1.000" stop-color="#46337f"/></linearGradient><linearGradient id="g277" gradientUnits="userSpaceOnUse" x1="318.50" x2="378.50" y1="0" y2="0" spreadMethod="reflect"><stop offset="0.000" stop-color="#404688"/><stop offset="0.633" stop-color="#443b84"/><stop offset="1.000" stop-color="#46337f"/></linearGradient><linearGradient id="g278" gradientUnits="userSpaceOnUse" x1="318.50" x2="378.50" y1="0" y2="0" spreadMethod="reflect"><stop offset="0.000" stop-color="#404588"/><stop offset="0.600" stop-color="#443b84"/><stop offset="1.000" stop-color="#46337f"/></linearGradient><linearGradient id="g279" gradientUnits="userSpaceOnUse" x1="318.50" x2="378.50" y1="0" y2="0" spreadMethod="reflect"><stop offset="0.000" stop-color="#414487"/><stop offset="0.633" stop-color="#443a83"/><stop offset="1.000" stop-color="#46337f"/></linearGradient><linearGradient id="g280" gradientUnits="userSpaceOnUse" x1="318.50" x2="378.50" y1="0" y2="0" spreadMethod="reflect"><stop offset="0.000" stop-color="#414487"/><stop offset="1.000" stop-color="#46337f"/></linearGradient><linearGradient id="g281" gradientUnits="userSpaceOnUse" x1="318.50" x2="378.50" y1="0" y2="0" spreadMethod="reflect"><stop offset="0.000" stop-color="#414287"/><stop offset="1.000" stop-color="#46327e"/></linearGradient><linearGradient id="g282" gradientUnits="userSpaceOnUse" x1="318.50" x2="378.50" y1="0" y2="0" spreadMethod="reflect"><stop offset="0.000" stop-color="#424186"/><stop offset="1.000" stop-color="#46327e"/></linearGradient><linearGradient id="g283" gradientUnits="userSpaceOnUse" x1="318.50" x2="378.50" y1="0" y2="0" spreadMethod="reflect"><stop offset="0.000" stop-color="#424086"/><stop offset="1.000" stop-color="#46327e"/></linearGradient><linearGradient id="g284" gradientUnits="userSpaceOnUse" x1="318.50" x2="378.50" y1="0" y2="0" spreadMethod="reflect"><stop offset="0.000" stop-color="#424086"/><stop offset="1.000" stop-color="#46327e"/></linearGradient><linearGradient id="g285" gradientUnits="userSpaceOnUse" x1="318.50" x2="378.50" y1="0" y2="0" spreadMethod="reflect"><stop offset="0.000" stop-color="#423f85"/><stop offset="1.000" stop-color="#46327e"/></linearGradient><linearGradient id="g286" gradientUnits="userSpaceOnUse" x1="318.50" x2="378.50" y1="0" y2="0" spreadMethod="reflect"><stop offset="0.000" stop-color="#433e85"/><stop offset="1.000" stop-color="#46327e"/></linearGradient><linearGradient id="g287" gradientUnits="userSpaceOnUse" x1="318.50" x2="378.50" y1="0" y2="0" spreadMethod="reflect"><stop offset="0.000" stop-color="#433d84"/><stop offset="1.000" stop-color="#46307e"/></linearGradient><linearGradient id="g288" gradientUnits="userSpaceOnUse" x1="318.50" x2="378.50" y1="0" y2="0" spreadMethod="reflect"><stop offset="0.000" stop-color="#443b84"/><stop offset="1.000" stop-color="#46307e"/></linearGradient><linearGradient id="g289" gradientUnits="userSpaceOnUse" x1="318.50" x2="378.50" y1="0" y2="0" spreadMethod="reflect"><stop offset="0.000" stop-color="#443b84"/><stop offset="1.000" stop-color="#46307e"/></linearGradient><linearGradient id="g290" gradientUnits="userSpaceOnUse" x1="318.50" x2="378.50" y1="0" y2="0" spreadMethod="reflect"><stop offset="0.000" stop-color="#443a83"/><stop offset="1.000" stop-color="#46307e"/></linearGradient><linearGradient id="g291" gradientUnits="userSpaceOnUse" x1="318.50" x2="378.50" y1="0" y2="0" spreadMethod="reflect"><stop offset="0.000" stop-color="#443983"/><stop offset="1.000" stop-color="#46307e"/></linearGradient><linearGradient id="g292" gradientUnits="userSpaceOnUse" x1="318.50" x2="378.50" y1="0" y2="0" spreadMethod="reflect"><stop offset="0.000" stop-color="#453882"/><stop offset="1.000" stop-color="#472f7d"/></linearGradient><linearGradient id="g293" gradientUnits="userSpaceOnUse" x1="318.50" x2="378.50" y1="0" y2="0" spreadMethod="reflect"><stop offset="0.000" stop-color="#453781"/><stop offset="1.000" stop-color="#472f7d"/></linearGradient><linearGradient id="g294" gradientUnits="userSpaceOnUse" x1="318.50" x2="378.50" y1="0" y2="0" spreadMethod="reflect"><stop offset="0.000" stop-color="#453581"/><stop offset="1.000" stop-color="#472f7d"/></linearGradient><clipPath id="cp3"><rect x="383.00" y="18.40" width="116.20" height="96.90"/></clipPath><linearGradient id="g295" gradientUnits="userSpaceOnUse" x1="441.10" x2="501.10" y1="0" y2="0" spreadMethod="reflect"><stop offset="0.000" stop-color="#5cc863"/><stop offset="0.050" stop-color="#56c667"/><stop offset="0.100" stop-color="#44bf70"/><stop offset="0.150" stop-color="#23a983"/><stop offset="0.200" stop-color="#1f978b"/><stop offset="0.300" stop-color="#26818e"/><stop offset="0.767" stop-color="#38598c"/><stop offset="1.000" stop-color="#3c4f8a"/></linearGradient><linearGradient id="g296" gradientUnits="userSpaceOnUse" x1="441.10" x2="501.10" y1="0" y2="0" spreadMethod="reflect"><stop offset="0.000" stop-color="#5ac864"/><stop offset="0.067" stop-color="#52c569"/><stop offset="0.100" stop-color="#46c06f"/><stop offset="0.150" stop-color="#26ad81"/><stop offset="0.183" stop-color="#1fa088"/><stop offset="0.283" stop-color="#25848e"/><stop offset="0.567" stop-color="#31688e"/><stop offset="0.917" stop-color="#3b518b"/><stop offset="1.000" stop-color="#3c508b"/></linearGradient><linearGradient id="g297" gradientUnits="userSpaceOnUse" x1="441.10" x2="501.10" y1="0" y2="0" spreadMethod="reflect"><stop offset="0.000" stop-color="#56c667"/><stop offset="0.083" stop-color="#4cc26c"/><stop offset="0.133" stop-color="#34b679"/><stop offset="0.167" stop-color="#23a983"/><stop offset="0.217" stop-color="#1f988b"/><stop offset="0.300" stop-color="#25838e"/><stop offset="0.533" stop-color="#2f6b8e"/><stop offset="0.850" stop-color="#3a548c"/><stop offset="1.000" stop-color="#3c508b"/></linearGradient><linearGradient id="g298" gradientUnits="userSpaceOnUse" x1="441.10" x2="501.10" y1="0" y2="0" spreadMethod="reflect"><stop offset="0.000" stop-color="#52c569"/><stop offset="0.083" stop-color="#4cc26c"/><stop offset="0.133" stop-color="#38b977"/><stop offset="0.167" stop-color="#27ad81"/><stop offset="0.200" stop-color="#1fa188"/><stop offset="0.300" stop-color="#25848e"/><stop offset="0.550" stop-color="#306a8e"/><stop offset="0.850" stop-color="#3a548c"/><stop offset="1.000" stop-color="#3c508b"/></linearGradient><linearGradient id="g299" gradientUnits="userSpaceOnUse" x1="441.10" x2="501.10" y1="0" y2="0" spreadMethod="reflect"><stop offset="0.000" stop-color="#50c46a"/><stop offset="0.083" stop-color="#4cc26c"/><stop offset="0.133" stop-color="#3bbb75"/><stop offset="0.183" stop-color="#24aa83"/><stop offset="0.233" stop-color="#1f978b"/><stop offset="0.317" stop-color="#25838e"/><stop offset="0.550" stop-color="#306a8e"/><stop offset="0.950" stop-color="#3c508b"/><stop offset="1.000" stop-color="#3c508b"/></linearGradient><linearGradient id="g300" gradientUnits="userSpaceOnUse" x1="441.10" x2="501.10" y1="0" y2="0" spreadMethod="reflect"><stop offset="0.000" stop-color="#4cc26c"/><stop offset="0.083" stop-color="#4ac16d"/><stop offset="0.117" stop-color="#44bf70"/><stop offset="0.183" stop-color="#26ad81"/><stop offset="0.217" stop-color="#1f9f88"/><stop offset="0.300" stop-color="#24878e"/><stop offset="0.500" stop-color="#2e6f8e"/><stop offset="0.833" stop-color="#39558c"/><stop offset="1.000" stop-color="#3c508b"/></linearGradient><linearGradient id="g301" gradientUnits="userSpaceOnUse" x1="441.10" x2="501.10" y1="0" y2="0" spreadMethod="reflect"><stop offset="0.000" stop-color="#4ac16d"/><stop offset="0.083" stop-color="#48c16e"/><stop offset="0.150" stop-color="#38b977"/><stop offset="0.183" stop-color="#26ad81"/><stop offset="0.217" stop-color="#1fa088"/><stop offset="0.300" stop-color="#23888e"/><stop offset="0.450" stop-color="#2b748e"/><stop offset="0.800" stop-color="#38588c"/><stop offset="1.000" stop-color="#3c508b"/></linearGradient><linearGradient id="g302" gradientUnits="userSpaceOnUse" x1="441.10" x2="501.10" y1="0" y2="0" spreadMethod="reflect"><stop offset="0.000" stop-color="#46c06f"/><stop offset="0.083" stop-color="#46c06f"/><stop offset="0.133" stop-color="#3bbb75"/><stop offset="0.200" stop-color="#21a585"/><stop offset="0.267" stop-color="#21918c"/><stop offset="0.383" stop-color="#287c8e"/><stop offset="0.733" stop-color="#365c8d"/><stop offset="1.000" stop-color="#3c508b"/></linearGradient><linearGradient id="g303" gradientUnits="userSpaceOnUse" x1="441.10" x2="501.10" y1="0" y2="0" spreadMethod="reflect"><stop offset="0.000" stop-color="#44bf70"/><stop offset="0.100" stop-color="#3fbc73"/><stop offset="0.167" stop-color="#2ab07f"/><stop offset="0.200" stop-color="#20a386"/><stop offset="0.317" stop-color="#24868e"/><stop offset="0.567" stop-color="#30698e"/><stop offset="0.933" stop-color="#3b518b"/><stop offset="1.000" stop-color="#3c508b"/></linearGradient><linearGradient id="g304" gradientUnits="userSpaceOnUse" x1="441.10" x2="501.10" y1="0" y2="0" spreadMethod="reflect"><stop offset="0.000" stop-color="#3fbc73"/><stop offset="0.100" stop-color="#3bbb75"/><stop offset="0.167" stop-color="#27ad81"/><stop offset="0.217" stop-color="#1f9e89"/><stop offset="0.333" stop-color="#25838e"/><stop offset="0.617" stop-color="#32658e"/><stop offset="0.967" stop-color="#3c508b"/><stop offset="1.000" stop-color="#3c508b"/></linearGradient><linearGradient id="g305" gradientUnits="userSpaceOnUse" x1="441.10" x2="501.10" y1="0" y2="0" spreadMethod="reflect"><stop offset="0.000" stop-color="#3bbb75"/><stop offset="0.100" stop-color="#37b878"/><stop offset="0.200" stop-color="#1fa187"/><stop offset="0.333" stop-color="#25848e"/><stop offset="0.617" stop-color="#32658e"/><stop offset="0.967" stop-color="#3c508b"/><stop offset="1.000" stop-color="#3c508b"/></linearGradient><linearGradient id="g306" gradientUnits="userSpaceOnUse" x1="441.10" x2="501.10" y1="0" y2="0" spreadMethod="reflect"><stop offset="0.000" stop-color="#37b878"/><stop offset="0.083" stop-color="#34b679"/><stop offset="0.167" stop-color="#23a983"/><stop offset="0.233" stop-color="#1f988b"/><stop offset="0.383" stop-color="#287d8e"/><stop offset="0.700" stop-color="#355f8d"/><stop offset="1.000" stop-color="#3c508b"/></linearGradient><linearGradient id="g307" gradientUnits="userSpaceOnUse" x1="441.10" x2="501.10" y1="0" y2="0" spreadMethod="reflect"><stop offset="0.000" stop-color="#32b67a"/><stop offset="0.083" stop-color="#2fb47c"/><stop offset="0.200" stop-color="#1fa088"/><stop offset="0.350" stop-color="#26828e"/><stop offset="0.633" stop-color="#32648e"/><stop offset="0.967" stop-color="#3c508b"/><stop offset="1.000" stop-color="#3c508b"/></linearGradient><linearGradient id="g308" gradientUnits="userSpaceOnUse" x1="441.10" x2="501.10" y1="0" y2="0" spreadMethod="reflect"><stop offset="0.000" stop-color="#2eb37c"/><stop offset="0.100" stop-color="#29af7f"/><stop offset="0.200" stop-color="#1f9e89"/><stop offset="0.383" stop-color="#287d8e"/><stop offset="0.700" stop-color="#355f8d"/><stop offset="1.000" stop-color="#3c508b"/></linearGradient><linearGradient id="g309" gradientUnits="userSpaceOnUse" x1="441.10" x2="501.10" y1="0" y2="0" spreadMethod="reflect"><stop offset="0.000" stop-color="#2ab07f"/><stop offset="0.100" stop-color="#26ad81"/><stop offset="0.217" stop-color="#1f998a"/><stop offset="0.400" stop-color="#297b8e"/><stop offset="0.717" stop-color="#355e8d"/><stop offset="1.000" stop-color="#3c508b"/></linearGradient><linearGradient id="g310" gradientUnits="userSpaceOnUse" x1="441.10" x2="501.10" y1="0" y2="0" spreadMethod="reflect"><stop offset="0.000" stop-color="#27ad81"/><stop offset="0.117" stop-color="#23a983"/><stop offset="0.233" stop-color="#1f958b"/><stop offset="0.433" stop-color="#2a778e"/><stop offset="0.750" stop-color="#365c8d"/><stop offset="1.000" stop-color="#3c508b"/></linearGradient><linearGradient id="g311" gradientUnits="userSpaceOnUse" x1="441.10" x2="501.10" y1="0" y2="0" spreadMethod="reflect"><stop offset="0.000" stop-color="#25ab82"/><stop offset="0.133" stop-color="#20a486"/><stop offset="0.267" stop-color="#218e8d"/><stop offset="0.500" stop-color="#2d708e"/><stop offset="0.833" stop-color="#39568c"/><stop offset="1.000" stop-color="#3c508b"/></linearGradient><linearGradient id="g312" gradientUnits="userSpaceOnUse" x1="441.10" x2="501.10" y1="0" y2="0" spreadMethod="reflect"><stop offset="0.000" stop-color="#22a884"/><stop offset="0.133" stop-color="#1fa187"/><stop offset="0.333" stop-color="#25838e"/><stop offset="0.650" stop-color="#33628d"/><stop offset="1.000" stop-color="#3c508b"/></linearGradient><linearGradient id="g313" gradientUnits="userSpaceOnUse" x1="441.10" x2="501.10" y1="0" y2="0" spreadMethod="reflect"><stop offset="0.000" stop-color="#21a585"/><stop offset="0.150" stop-color="#1f9e89"/><stop offset="0.433" stop-color="#2a778e"/><stop offset="0.767" stop-color="#375a8c"/><stop offset="1.000" stop-color="#3c508b"/></linearGradient><linearGradient id="g314" gradientUnits="userSpaceOnUse" x1="441.10" x2="501.10" y1="0" y2="0" spreadMethod="reflect"><stop offset="0.000" stop-color="#1fa287"/><stop offset="0.150" stop-color="#1e9c89"/><stop offset="0.450" stop-color="#2b748e"/><stop offset="0.783" stop-color="#38598c"/><stop offset="1.000" stop-color="#3c508b"/></linearGradient><linearGradient id="g315" gradientUnits="userSpaceOnUse" x1="441.10" x2="501.10" y1="0" y2="0" spreadMethod="reflect"><stop offset="0.000" stop-color="#1fa188"/><stop offset="0.150" stop-color="#1f998a"/><stop offset="0.567" stop-color="#30698e"/><stop offset="0.917" stop-color="#3b528b"/><stop offset="1.000" stop-color="#3c508b"/></linearGradient><linearGradient id="g316" gradientUnits="userSpaceOnUse" x1="441.10" x2="501.10" y1="0" y2="0" spreadMethod="reflect"><stop offset="0.000" stop-color="#1f9e89"/><stop offset="0.150" stop-color="#1f978b"/><stop offset="0.583" stop-color="#31678e"/><stop offset="0.917" stop-color="#3b528b"/><stop offset="1.000" stop-color="#3c508b"/></linearGradient><linearGradient id="g317" gradientUnits="userSpaceOnUse" x1="441.10" x2="501.10" y1="0" y2="0" spreadMethod="reflect"><stop offset="0.000" stop-color="#1e9c89"/><stop offset="0.167" stop-color="#20938c"/><stop offset="0.583" stop-color="#31678e"/><stop offset="0.917" stop-color="#3b528b"/><stop offset="1.000" stop-color="#3c508b"/></linearGradient><linearGradient id="g318" gradientUnits="userSpaceOnUse" x1="441.10" x2="501.10" y1="0" y2="0" spreadMethod="reflect"><stop offset="0.000" stop-color="#1f9a8a"/><stop offset="0.183" stop-color="#21918c"/><stop offset="0.600" stop-color="#32658e"/><stop offset="0.967" stop-color="#3c508b"/><stop offset="1.000" stop-color="#3c508b"/></linearGradient><linearGradient id="g319" gradientUnits="userSpaceOnUse" x1="441.10" x2="501.10" y1="0" y2="0" spreadMethod="reflect"><stop offset="0.000" stop-color="#1f978b"/><stop offset="0.150" stop-color="#20928c"/><stop offset="0.650" stop-color="#34618d"/><stop offset="0.983" stop-color="#3c508b"/><stop offset="1.000" stop-color="#3c508b"/></linearGradient><linearGradient id="g320" gradientUnits="userSpaceOnUse" x1="441.10" x2="501.10" y1="0" y2="0" spreadMethod="reflect"><stop offset="0.000" stop-color="#1f958b"/><stop offset="0.183" stop-color="#228d8d"/><stop offset="0.683" stop-color="#355e8d"/><stop offset="1.000" stop-color="#3c508b"/></linearGradient><linearGradient id="g321" gradientUnits="userSpaceOnUse" x1="441.10" x2="501.10" y1="0" y2="0" spreadMethod="reflect"><stop offset="0.000" stop-color="#20938c"/><stop offset="0.200" stop-color="#238a8d"/><stop offset="0.683" stop-color="#355e8d"/><stop offset="1.000" stop-color="#3c508b"/></linearGradient><linearGradient id="g322" gradientUnits="userSpaceOnUse" x1="441.10" x2="501.10" y1="0" y2="0" spreadMethod="reflect"><stop offset="0.000" stop-color="#20928c"/><stop offset="0.200" stop-color="#23888e"/><stop offset="0.717" stop-color="#375b8d"/><stop offset="1.000" stop-color="#3c508b"/></linearGradient><linearGradient id="g323" gradientUnits="userSpaceOnUse" x1="441.10" x2="501.10" y1="0" y2="0" spreadMethod="reflect"><stop offset="0.000" stop-color="#21908d"/><stop offset="0.200" stop-color="#24868e"/><stop offset="0.733" stop-color="#375a8c"/><stop offset="1.000" stop-color="#3c508b"/></linearGradient><linearGradient id="g324" gradientUnits="userSpaceOnUse" x1="441.10" x2="501.10" y1="0" y2="0" spreadMethod="reflect"><stop offset="0.000" stop-color="#218e8d"/><stop offset="0.217" stop-color="#25838e"/><stop offset="0.733" stop-color="#375a8c"/><stop offset="1.000" stop-color="#3c4f8a"/></linearGradient><linearGradient id="g325" gradientUnits="userSpaceOnUse" x1="441.10" x2="501.10" y1="0" y2="0" spreadMethod="reflect"><stop offset="0.000" stop-color="#228c8d"/><stop offset="0.217" stop-color="#26828e"/><stop offset="0.733" stop-color="#375a8c"/><stop offset="1.000" stop-color="#3c4f8a"/></linearGradient><linearGradient id="g326" gradientUnits="userSpaceOnUse" x1="441.10" x2="501.10" y1="0" y2="0" spreadMethod="reflect"><stop offset="0.000" stop-color="#238a8d"/><stop offset="0.233" stop-color="#277f8e"/><stop offset="0.750" stop-color="#38588c"/><stop offset="1.000" stop-color="#3c4f8a"/></linearGradient><linearGradient id="g327" gradientUnits="userSpaceOnUse" x1="441.10" x2="501.10" y1="0" y2="0" spreadMethod="reflect"><stop offset="0.000" stop-color="#23888e"/><stop offset="0.250" stop-color="#287c8e"/><stop offset="0.767" stop-color="#39568c"/><stop offset="1.000" stop-color="#3d4e8a"/></linearGradient><linearGradient id="g328" gradientUnits="userSpaceOnUse" x1="441.10" x2="501.10" y1="0" y2="0" spreadMethod="reflect"><stop offset="0.000" stop-color="#24868e"/><stop offset="0.267" stop-color="#29798e"/><stop offset="0.800" stop-color="#3a548c"/><stop offset="1.000" stop-color="#3d4e8a"/></linearGradient><linearGradient id="g329" gradientUnits="userSpaceOnUse" x1="441.10" x2="501.10" y1="0" y2="0" spreadMethod="reflect"><stop offset="0.000" stop-color="#25848e"/><stop offset="0.283" stop-color="#2a768e"/><stop offset="0.867" stop-color="#3b518b"/><stop offset="1.000" stop-color="#3d4e8a"/></linearGradient><linearGradient id="g330" gradientUnits="userSpaceOnUse" x1="441.10" x2="501.10" y1="0" y2="0" spreadMethod="reflect"><stop offset="0.000" stop-color="#26828e"/><stop offset="0.250" stop-color="#2a778e"/><stop offset="0.833" stop-color="#3b528b"/><stop offset="1.000" stop-color="#3d4d8a"/></linearGradient><linearGradient id="g331" gradientUnits="userSpaceOnUse" x1="441.10" x2="501.10" y1="0" y2="0" spreadMethod="reflect"><stop offset="0.000" stop-color="#27808e"/><stop offset="0.217" stop-color="#2a778e"/><stop offset="0.900" stop-color="#3c4f8a"/><stop offset="1.000" stop-color="#3d4d8a"/></linearGradient><linearGradient id="g332" gradientUnits="userSpaceOnUse" x1="441.10" x2="501.10" y1="0" y2="0" spreadMethod="reflect"><stop offset="0.000" stop-color="#277e8e"/><stop offset="0.233" stop-color="#2b758e"/><stop offset="0.883" stop-color="#3c4f8a"/><stop offset="1.000" stop-color="#3e4c8a"/></linearGradient><linearGradient id="g333" gradientUnits="userSpaceOnUse" x1="441.10" x2="501.10" y1="0" y2="0" spreadMethod="reflect"><stop offset="0.000" stop-color="#287d8e"/><stop offset="0.333" stop-color="#2e6e8e"/><stop offset="0.950" stop-color="#3e4c8a"/><stop offset="1.000" stop-color="#3e4c8a"/></linearGradient><linearGradient id="g334" gradientUnits="userSpaceOnUse" x1="441.10" x2="501.10" y1="0" y2="0" spreadMethod="reflect"><stop offset="0.000" stop-color="#297b8e"/><stop offset="0.333" stop-color="#2e6d8e"/><stop offset="0.967" stop-color="#3e4a89"/><stop offset="1.000" stop-color="#3e4a89"/></linearGradient><linearGradient id="g335" gradientUnits="userSpaceOnUse" x1="441.10" x2="501.10" y1="0" y2="0" spreadMethod="reflect"><stop offset="0.000" stop-color="#29798e"/><stop offset="0.317" stop-color="#2e6d8e"/><stop offset="0.967" stop-color="#3e4a89"/><stop offset="1.000" stop-color="#3e4a89"/></linearGradient><linearGradient id="g336" gradientUnits="userSpaceOnUse" x1="441.10" x2="501.10" y1="0" y2="0" spreadMethod="reflect"><stop offset="0.000" stop-color="#2a778e"/><stop offset="0.333" stop-color="#2f6b8e"/><stop offset="0.983" stop-color="#3e4989"/><stop offset="1.000" stop-color="#3e4989"/></linearGradient><linearGradient id="g337" gradientUnits="userSpaceOnUse" x1="441.10" x2="501.10" y1="0" y2="0" spreadMethod="reflect"><stop offset="0.000" stop-color="#2b758e"/><stop offset="0.283" stop-color="#2f6c8e"/><stop offset="0.983" stop-color="#3e4989"/><stop offset="1.000" stop-color="#3e4989"/></linearGradient><linearGradient id="g338" gradientUnits="userSpaceOnUse" x1="441.10" x2="501.10" y1="0" y2="0" spreadMethod="reflect"><stop offset="0.000" stop-color="#2c738e"/><stop offset="0.333" stop-color="#30698e"/><stop offset="0.983" stop-color="#3f4889"/><stop offset="1.000" stop-color="#3f4889"/></linearGradient><linearGradient id="g339" gradientUnits="userSpaceOnUse" x1="441.10" x2="501.10" y1="0" y2="0" spreadMethod="reflect"><stop offset="0.000" stop-color="#2c728e"/><stop offset="0.467" stop-color="#33628d"/><stop offset="1.000" stop-color="#3f4788"/></linearGradient><linearGradient id="g340" gradientUnits="userSpaceOnUse" x1="441.10" x2="501.10" y1="0" y2="0" spreadMethod="reflect"><stop offset="0.000" stop-color="#2d718e"/><stop offset="0.433" stop-color="#33638d"/><stop offset="0.983" stop-color="#3f4788"/><stop offset="1.000" stop-color="#3f4788"/></linearGradient><linearGradient id="g341" gradientUnits="userSpaceOnUse" x1="441.10" x2="501.10" y1="0" y2="0" spreadMethod="reflect"><stop offset="0.000" stop-color="#2e6f8e"/><stop offset="0.417" stop-color="#33638d"/><stop offset="1.000" stop-color="#404688"/></linearGradient><linearGradient id="g342" gradientUnits="userSpaceOnUse" x1="441.10" x2="501.10" y1="0" y2="0" spreadMethod="reflect"><stop offset="0.000" stop-color="#2e6e8e"/><stop offset="0.517" stop-color="#355e8d"/><stop offset="0.983" stop-color="#404688"/><stop offset="1.000" stop-color="#404688"/></linearGradient><linearGradient id="g343" gradientUnits="userSpaceOnUse" x1="441.10" x2="501.10" y1="0" y2="0" spreadMethod="reflect"><stop offset="0.000" stop-color="#2f6c8e"/><stop offset="0.400" stop-color="#33628d"/><stop offset="1.000" stop-color="#404588"/></linearGradient><linearGradient id="g344" gradientUnits="userSpaceOnUse" x1="441.10" x2="501.10" y1="0" y2="0" spreadMethod="reflect"><stop offset="0.000" stop-color="#2f6b8e"/><stop offset="0.550" stop-color="#375b8d"/><stop offset="1.000" stop-color="#414487"/></linearGradient><linearGradient id="g345" gradientUnits="userSpaceOnUse" x1="441.10" x2="501.10" y1="0" y2="0" spreadMethod="reflect"><stop offset="0.000" stop-color="#30698e"/><stop offset="0.400" stop-color="#34608d"/><stop offset="1.000" stop-color="#414487"/></linearGradient><linearGradient id="g346" gradientUnits="userSpaceOnUse" x1="441.10" x2="501.10" y1="0" y2="0" spreadMethod="reflect"><stop offset="0.000" stop-color="#31688e"/><stop offset="0.500" stop-color="#365c8d"/><stop offset="1.000" stop-color="#414287"/></linearGradient><linearGradient id="g347" gradientUnits="userSpaceOnUse" x1="441.10" x2="501.10" y1="0" y2="0" spreadMethod="reflect"><stop offset="0.000" stop-color="#31678e"/><stop offset="0.517" stop-color="#375a8c"/><stop offset="1.000" stop-color="#424186"/></linearGradient><linearGradient id="g348" gradientUnits="userSpaceOnUse" x1="441.10" x2="501.10" y1="0" y2="0" spreadMethod="reflect"><stop offset="0.000" stop-color="#32658e"/><stop offset="0.467" stop-color="#375b8d"/><stop offset="1.000" stop-color="#424186"/></linearGradient><linearGradient id="g349" gradientUnits="userSpaceOnUse" x1="441.10" x2="501.10" y1="0" y2="0" spreadMethod="reflect"><stop offset="0.000" stop-color="#32648e"/><stop offset="0.467" stop-color="#375a8c"/><stop offset="1.000" stop-color="#424086"/></linearGradient><linearGradient id="g350" gradientUnits="userSpaceOnUse" x1="441.10" x2="501.10" y1="0" y2="0" spreadMethod="reflect"><stop offset="0.000" stop-color="#33638d"/><stop offset="0.500" stop-color="#38588c"/><stop offset="1.000" stop-color="#423f85"/></linearGradient><linearGradient id="g351" gradientUnits="userSpaceOnUse" x1="441.10" x2="501.10" y1="0" y2="0" spreadMethod="reflect"><stop offset="0.000" stop-color="#34618d"/><stop offset="0.450" stop-color="#38598c"/><stop offset="1.000" stop-color="#423f85"/></linearGradient><linearGradient id="g352" gradientUnits="userSpaceOnUse" x1="441.10" x2="501.10" y1="0" y2="0" spreadMethod="reflect"><stop offset="0.000" stop-color="#34608d"/><stop offset="0.500" stop-color="#39558c"/><stop offset="1.000" stop-color="#433e85"/></linearGradient><linearGradient id="g353" gradientUnits="userSpaceOnUse" x1="441.10" x2="501.10" y1="0" y2="0" spreadMethod="reflect"><stop offset="0.000" stop-color="#355f8d"/><stop offset="0.500" stop-color="#3a548c"/><stop offset="0.983" stop-color="#433e85"/><stop offset="1.000" stop-color="#433e85"/></linearGradient><linearGradient id="g354" gradientUnits="userSpaceOnUse" x1="441.10" x2="501.10" y1="0" y2="0" spreadMethod="reflect"><stop offset="0.000" stop-color="#355e8d"/><stop offset="0.483" stop-color="#3a548c"/><stop offset="1.000" stop-color="#433d84"/></linearGradient><linearGradient id="g355" gradientUnits="userSpaceOnUse" x1="441.10" x2="501.10" y1="0" y2="0" spreadMethod="reflect"><stop offset="0.000" stop-color="#365c8d"/><stop offset="0.417" stop-color="#39558c"/><stop offset="1.000" stop-color="#443b84"/></linearGradient><linearGradient id="g356" gradientUnits="userSpaceOnUse" x1="441.10" x2="501.10" y1="0" y2="0" spreadMethod="reflect"><stop offset="0.000" stop-color="#375b8d"/><stop offset="0.450" stop-color="#3a538b"/><stop offset="1.000" stop-color="#443b84"/></linearGradient><linearGradient id="g357" gradientUnits="userSpaceOnUse" x1="441.10" x2="501.10" y1="0" y2="0" spreadMethod="reflect"><stop offset="0.000" stop-color="#375a8c"/><stop offset="0.450" stop-color="#3b528b"/><stop offset="1.000" stop-color="#443a83"/></linearGradient><linearGradient id="g358" gradientUnits="userSpaceOnUse" x1="441.10" x2="501.10" y1="0" y2="0" spreadMethod="reflect"><stop offset="0.000" stop-color="#38598c"/><stop offset="0.450" stop-color="#3b518b"/><stop offset="1.000" stop-color="#443a83"/></linearGradient><linearGradient id="g359" gradientUnits="userSpaceOnUse" x1="441.10" x2="501.10" y1="0" y2="0" spreadMethod="reflect"><stop offset="0.000" stop-color="#38588c"/><stop offset="0.450" stop-color="#3c508b"/><stop offset="1.000" stop-color="#443983"/></linearGradient><linearGradient id="g360" gradientUnits="userSpaceOnUse" x1="441.10" x2="501.10" y1="0" y2="0" spreadMethod="reflect"><stop offset="0.000" stop-color="#39568c"/><stop offset="0.450" stop-color="#3c4f8a"/><stop offset="1.000" stop-color="#443983"/></linearGradient><linearGradient id="g361" gradientUnits="userSpaceOnUse" x1="441.10" x2="501.10" y1="0" y2="0" spreadMethod="reflect"><stop offset="0.000" stop-color="#39558c"/><stop offset="0.450" stop-color="#3d4e8a"/><stop offset="1.000" stop-color="#453882"/></linearGradient><linearGradient id="g362" gradientUnits="userSpaceOnUse" x1="441.10" x2="501.10" y1="0" y2="0" spreadMethod="reflect"><stop offset="0.000" stop-color="#3a548c"/><stop offset="0.450" stop-color="#3d4d8a"/><stop offset="1.000" stop-color="#453882"/></linearGradient><linearGradient id="g363" gradientUnits="userSpaceOnUse" x1="441.10" x2="501.10" y1="0" y2="0" spreadMethod="reflect"><stop offset="0.000" stop-color="#3a538b"/><stop offset="0.450" stop-color="#3e4c8a"/><stop offset="1.000" stop-color="#453781"/></linearGradient><linearGradient id="g364" gradientUnits="userSpaceOnUse" x1="441.10" x2="501.10" y1="0" y2="0" spreadMethod="reflect"><stop offset="0.000" stop-color="#3b528b"/><stop offset="0.450" stop-color="#3e4a89"/><stop offset="1.000" stop-color="#453781"/></linearGradient><linearGradient id="g365" gradientUnits="userSpaceOnUse" x1="441.10" x2="501.10" y1="0" y2="0" spreadMethod="reflect"><stop offset="0.000" stop-color="#3b518b"/><stop offset="0.500" stop-color="#3f4889"/><stop offset="1.000" stop-color="#453781"/></linearGradient><linearGradient id="g366" gradientUnits="userSpaceOnUse" x1="441.10" x2="501.10" y1="0" y2="0" spreadMethod="reflect"><stop offset="0.000" stop-color="#3c508b"/><stop offset="0.500" stop-color="#3f4788"/><stop offset="1.000" stop-color="#453581"/></linearGradient><linearGradient id="g367" gradientUnits="userSpaceOnUse" x1="441.10" x2="501.10" y1="0" y2="0" spreadMethod="reflect"><stop offset="0.000" stop-color="#3c4f8a"/><stop offset="0.500" stop-color="#404688"/><stop offset="1.000" stop-color="#453581"/></linearGradient><linearGradient id="g368" gradientUnits="userSpaceOnUse" x1="441.10" x2="501.10" y1="0" y2="0" spreadMethod="reflect"><stop offset="0.000" stop-color="#3d4e8a"/><stop offset="0.517" stop-color="#404588"/><stop offset="1.000" stop-color="#453581"/></linearGradient><linearGradient id="g369" gradientUnits="userSpaceOnUse" x1="441.10" x2="501.10" y1="0" y2="0" spreadMethod="reflect"><stop offset="0.000" stop-color="#3d4d8a"/><stop offset="0.517" stop-color="#414487"/><stop offset="1.000" stop-color="#463480"/></linearGradient><linearGradient id="g370" gradientUnits="userSpaceOnUse" x1="441.10" x2="501.10" y1="0" y2="0" spreadMethod="reflect"><stop offset="0.000" stop-color="#3e4c8a"/><stop offset="0.483" stop-color="#414487"/><stop offset="1.000" stop-color="#463480"/></linearGradient><linearGradient id="g371" gradientUnits="userSpaceOnUse" x1="441.10" x2="501.10" y1="0" y2="0" spreadMethod="reflect"><stop offset="0.000" stop-color="#3e4a89"/><stop offset="0.533" stop-color="#424186"/><stop offset="1.000" stop-color="#463480"/></linearGradient><linearGradient id="g372" gradientUnits="userSpaceOnUse" x1="441.10" x2="501.10" y1="0" y2="0" spreadMethod="reflect"><stop offset="0.000" stop-color="#3e4989"/><stop offset="0.550" stop-color="#424086"/><stop offset="1.000" stop-color="#463480"/></linearGradient><linearGradient id="g373" gradientUnits="userSpaceOnUse" x1="441.10" x2="501.10" y1="0" y2="0" spreadMethod="reflect"><stop offset="0.000" stop-color="#3f4889"/><stop offset="0.517" stop-color="#424086"/><stop offset="1.000" stop-color="#46337f"/></linearGradient><linearGradient id="g374" gradientUnits="userSpaceOnUse" x1="441.10" x2="501.10" y1="0" y2="0" spreadMethod="reflect"><stop offset="0.000" stop-color="#3f4788"/><stop offset="0.533" stop-color="#423f85"/><stop offset="1.000" stop-color="#46337f"/></linearGradient><linearGradient id="g375" gradientUnits="userSpaceOnUse" x1="441.10" x2="501.10" y1="0" y2="0" spreadMethod="reflect"><stop offset="0.000" stop-color="#3f4788"/><stop offset="0.717" stop-color="#443983"/><stop offset="1.000" stop-color="#46337f"/></linearGradient><linearGradient id="g376" gradientUnits="userSpaceOnUse" x1="441.10" x2="501.10" y1="0" y2="0" spreadMethod="reflect"><stop offset="0.000" stop-color="#404688"/><stop offset="0.750" stop-color="#453882"/><stop offset="1.000" stop-color="#46337f"/></linearGradient><linearGradient id="g377" gradientUnits="userSpaceOnUse" x1="441.10" x2="501.10" y1="0" y2="0" spreadMethod="reflect"><stop offset="0.000" stop-color="#404588"/><stop offset="0.733" stop-color="#453882"/><stop offset="1.000" stop-color="#46337f"/></linearGradient><linearGradient id="g378" gradientUnits="userSpaceOnUse" x1="441.10" x2="501.10" y1="0" y2="0" spreadMethod="reflect"><stop offset="0.000" stop-color="#414487"/><stop offset="1.000" stop-color="#46327e"/></linearGradient><linearGradient id="g379" gradientUnits="userSpaceOnUse" x1="441.10" x2="501.10" y1="0" y2="0" spreadMethod="reflect"><stop offset="0.000" stop-color="#414287"/><stop offset="1.000" stop-color="#46327e"/></linearGradient><linearGradient id="g380" gradientUnits="userSpaceOnUse" x1="441.10" x2="501.10" y1="0" y2="0" spreadMethod="reflect"><stop offset="0.000" stop-color="#424186"/><stop offset="1.000" stop-color="#46327e"/></linearGradient><linearGradient id="g381" gradientUnits="userSpaceOnUse" x1="441.10" x2="501.10" y1="0" y2="0" spreadMethod="reflect"><stop offset="0.000" stop-color="#424186"/><stop offset="1.000" stop-color="#46327e"/></linearGradient><linearGradient id="g382" gradientUnits="userSpaceOnUse" x1="441.10" x2="501.10" y1="0" y2="0" spreadMethod="reflect"><stop offset="0.000" stop-color="#424086"/><stop offset="1.000" stop-color="#46327e"/></linearGradient><linearGradient id="g383" gradientUnits="userSpaceOnUse" x1="441.10" x2="501.10" y1="0" y2="0" spreadMethod="reflect"><stop offset="0.000" stop-color="#423f85"/><stop offset="1.000" stop-color="#46327e"/></linearGradient><linearGradient id="g384" gradientUnits="userSpaceOnUse" x1="441.10" x2="501.10" y1="0" y2="0" spreadMethod="reflect"><stop offset="0.000" stop-color="#433e85"/><stop offset="1.000" stop-color="#46307e"/></linearGradient><linearGradient id="g385" gradientUnits="userSpaceOnUse" x1="441.10" x2="501.10" y1="0" y2="0" spreadMethod="reflect"><stop offset="0.000" stop-color="#433d84"/><stop offset="1.000" stop-color="#46307e"/></linearGradient><linearGradient id="g386" gradientUnits="userSpaceOnUse" x1="441.10" x2="501.10" y1="0" y2="0" spreadMethod="reflect"><stop offset="0.000" stop-color="#443b84"/><stop offset="1.000" stop-color="#46307e"/></linearGradient><linearGradient id="g387" gradientUnits="userSpaceOnUse" x1="441.10" x2="501.10" y1="0" y2="0" spreadMethod="reflect"><stop offset="0.000" stop-color="#443b84"/><stop offset="1.000" stop-color="#46307e"/></linearGradient><linearGradient id="g388" gradientUnits="userSpaceOnUse" x1="441.10" x2="501.10" y1="0" y2="0" spreadMethod="reflect"><stop offset="0.000" stop-color="#443a83"/><stop offset="1.000" stop-color="#46307e"/></linearGradient><linearGradient id="g389" gradientUnits="userSpaceOnUse" x1="441.10" x2="501.10" y1="0" y2="0" spreadMethod="reflect"><stop offset="0.000" stop-color="#443983"/><stop offset="1.000" stop-color="#46307e"/></linearGradient><linearGradient id="g390" gradientUnits="userSpaceOnUse" x1="441.10" x2="501.10" y1="0" y2="0" spreadMethod="reflect"><stop offset="0.000" stop-color="#453882"/><stop offset="1.000" stop-color="#472f7d"/></linearGradient><linearGradient id="g391" gradientUnits="userSpaceOnUse" x1="441.10" x2="501.10" y1="0" y2="0" spreadMethod="reflect"><stop offset="0.000" stop-color="#453781"/><stop offset="1.000" stop-color="#472f7d"/></linearGradient><linearGradient id="g392" gradientUnits="userSpaceOnUse" x1="441.10" x2="501.10" y1="0" y2="0" spreadMethod="reflect"><stop offset="0.000" stop-color="#453581"/><stop offset="1.000" stop-color="#472f7d"/></linearGradient><clipPath id="cp4"><rect x="504.40" y="19.40" width="116.50" height="96.10"/></clipPath><linearGradient id="g393" gradientUnits="userSpaceOnUse" x1="562.65" x2="622.65" y1="0" y2="0" spreadMethod="reflect"><stop offset="0.000" stop-color="#4cc26c"/><stop offset="0.100" stop-color="#4cc26c"/><stop offset="0.133" stop-color="#44bf70"/><stop offset="0.167" stop-color="#2fb47c"/><stop offset="0.183" stop-color="#22a884"/><stop offset="0.217" stop-color="#1f998a"/><stop offset="0.300" stop-color="#26818e"/><stop offset="0.767" stop-color="#38598c"/><stop offset="1.000" stop-color="#3c4f8a"/></linearGradient><linearGradient id="g394" gradientUnits="userSpaceOnUse" x1="562.65" x2="622.65" y1="0" y2="0" spreadMethod="reflect"><stop offset="0.000" stop-color="#4cc26c"/><stop offset="0.083" stop-color="#50c46a"/><stop offset="0.133" stop-color="#48c16e"/><stop offset="0.167" stop-color="#34b679"/><stop offset="0.183" stop-color="#26ad81"/><stop offset="0.217" stop-color="#1e9d89"/><stop offset="0.283" stop-color="#24868e"/><stop offset="0.400" stop-color="#2a768e"/><stop offset="0.783" stop-color="#38588c"/><stop offset="1.000" stop-color="#3c508b"/></linearGradient><linearGradient id="g395" gradientUnits="userSpaceOnUse" x1="562.65" x2="622.65" y1="0" y2="0" spreadMethod="reflect"><stop offset="0.000" stop-color="#4cc26c"/><stop offset="0.117" stop-color="#4cc26c"/><stop offset="0.150" stop-color="#42be71"/><stop offset="0.200" stop-color="#23a983"/><stop offset="0.233" stop-color="#1f998a"/><stop offset="0.300" stop-color="#25848e"/><stop offset="0.517" stop-color="#2e6d8e"/><stop offset="0.850" stop-color="#3a548c"/><stop offset="1.000" stop-color="#3c508b"/></linearGradient><linearGradient id="g396" gradientUnits="userSpaceOnUse" x1="562.65" x2="622.65" y1="0" y2="0" spreadMethod="reflect"><stop offset="0.000" stop-color="#4ac16d"/><stop offset="0.117" stop-color="#4ac16d"/><stop offset="0.167" stop-color="#3aba76"/><stop offset="0.200" stop-color="#25ac82"/><stop offset="0.233" stop-color="#1e9c89"/><stop offset="0.317" stop-color="#25838e"/><stop offset="0.550" stop-color="#306a8e"/><stop offset="0.933" stop-color="#3b518b"/><stop offset="1.000" stop-color="#3c508b"/></linearGradient><linearGradient id="g397" gradientUnits="userSpaceOnUse" x1="562.65" x2="622.65" y1="0" y2="0" spreadMethod="reflect"><stop offset="0.000" stop-color="#46c06f"/><stop offset="0.100" stop-color="#46c06f"/><stop offset="0.150" stop-color="#3dbc74"/><stop offset="0.200" stop-color="#25ac82"/><stop offset="0.233" stop-color="#1f9e89"/><stop offset="0.317" stop-color="#25858e"/><stop offset="0.500" stop-color="#2e6f8e"/><stop offset="0.833" stop-color="#39558c"/><stop offset="1.000" stop-color="#3c508b"/></linearGradient><linearGradient id="g398" gradientUnits="userSpaceOnUse" x1="562.65" x2="622.65" y1="0" y2="0" spreadMethod="reflect"><stop offset="0.000" stop-color="#42be71"/><stop offset="0.100" stop-color="#40bd72"/><stop offset="0.150" stop-color="#38b977"/><stop offset="0.217" stop-color="#21a585"/><stop offset="0.283" stop-color="#218f8d"/><stop offset="0.383" stop-color="#287c8e"/><stop offset="0.733" stop-color="#365c8d"/><stop offset="1.000" stop-color="#3c508b"/></linearGradient><linearGradient id="g399" gradientUnits="userSpaceOnUse" x1="562.65" x2="622.65" y1="0" y2="0" spreadMethod="reflect"><stop offset="0.000" stop-color="#3dbc74"/><stop offset="0.117" stop-color="#3aba76"/><stop offset="0.183" stop-color="#29af7f"/><stop offset="0.233" stop-color="#1f9f88"/><stop offset="0.333" stop-color="#25848e"/><stop offset="0.567" stop-color="#30698e"/><stop offset="0.917" stop-color="#3b528b"/><stop offset="1.000" stop-color="#3c508b"/></linearGradient><linearGradient id="g400" gradientUnits="userSpaceOnUse" x1="562.65" x2="622.65" y1="0" y2="0" spreadMethod="reflect"><stop offset="0.000" stop-color="#3aba76"/><stop offset="0.100" stop-color="#37b878"/><stop offset="0.167" stop-color="#2cb17e"/><stop offset="0.217" stop-color="#20a386"/><stop offset="0.317" stop-color="#23898e"/><stop offset="0.450" stop-color="#2b758e"/><stop offset="0.767" stop-color="#375a8c"/><stop offset="1.000" stop-color="#3c508b"/></linearGradient><linearGradient id="g401" gradientUnits="userSpaceOnUse" x1="562.65" x2="622.65" y1="0" y2="0" spreadMethod="reflect"><stop offset="0.000" stop-color="#35b779"/><stop offset="0.100" stop-color="#32b67a"/><stop offset="0.183" stop-color="#25ab82"/><stop offset="0.250" stop-color="#1f998a"/><stop offset="0.383" stop-color="#277e8e"/><stop offset="0.650" stop-color="#33628d"/><stop offset="1.000" stop-color="#3c508b"/></linearGradient><linearGradient id="g402" gradientUnits="userSpaceOnUse" x1="562.65" x2="622.65" y1="0" y2="0" spreadMethod="reflect"><stop offset="0.000" stop-color="#32b67a"/><stop offset="0.133" stop-color="#2ab07f"/><stop offset="0.233" stop-color="#1e9d89"/><stop offset="0.383" stop-color="#277e8e"/><stop offset="0.667" stop-color="#34618d"/><stop offset="1.000" stop-color="#3c508b"/></linearGradient><linearGradient id="g403" gradientUnits="userSpaceOnUse" x1="562.65" x2="622.65" y1="0" y2="0" spreadMethod="reflect"><stop offset="0.000" stop-color="#2eb37c"/><stop offset="0.133" stop-color="#28ae80"/><stop offset="0.233" stop-color="#1e9d89"/><stop offset="0.400" stop-color="#287c8e"/><stop offset="0.683" stop-color="#34608d"/><stop offset="1.000" stop-color="#3c508b"/></linearGradient><linearGradient id="g404" gradientUnits="userSpaceOnUse" x1="562.65" x2="622.65" y1="0" y2="0" spreadMethod="reflect"><stop offset="0.000" stop-color="#2cb17e"/><stop offset="0.150" stop-color="#25ab82"/><stop offset="0.250" stop-color="#1f988b"/><stop offset="0.450" stop-color="#2b758e"/><stop offset="0.750" stop-color="#365c8d"/><stop offset="1.000" stop-color="#3c508b"/></linearGradient><linearGradient id="g405" gradientUnits="userSpaceOnUse" x1="562.65" x2="622.65" y1="0" y2="0" spreadMethod="reflect"><stop offset="0.000" stop-color="#28ae80"/><stop offset="0.150" stop-color="#23a983"/><stop offset="0.267" stop-color="#1f948c"/><stop offset="0.467" stop-color="#2c738e"/><stop offset="0.767" stop-color="#375b8d"/><stop offset="1.000" stop-color="#3c508b"/></linearGradient><linearGradient id="g406" gradientUnits="userSpaceOnUse" x1="562.65" x2="622.65" y1="0" y2="0" spreadMethod="reflect"><stop offset="0.000" stop-color="#26ad81"/><stop offset="0.150" stop-color="#21a685"/><stop offset="0.283" stop-color="#21918c"/><stop offset="0.483" stop-color="#2c718e"/><stop offset="0.783" stop-color="#375a8c"/><stop offset="1.000" stop-color="#3b518b"/></linearGradient><linearGradient id="g407" gradientUnits="userSpaceOnUse" x1="562.65" x2="622.65" y1="0" y2="0" spreadMethod="reflect"><stop offset="0.000" stop-color="#25ab82"/><stop offset="0.167" stop-color="#1fa287"/><stop offset="0.317" stop-color="#238a8d"/><stop offset="0.533" stop-color="#2e6d8e"/><stop offset="0.833" stop-color="#39568c"/><stop offset="1.000" stop-color="#3b518b"/></linearGradient><linearGradient id="g408" gradientUnits="userSpaceOnUse" x1="562.65" x2="622.65" y1="0" y2="0" spreadMethod="reflect"><stop offset="0.000" stop-color="#22a884"/><stop offset="0.150" stop-color="#1fa287"/><stop offset="0.317" stop-color="#23898e"/><stop offset="0.550" stop-color="#2f6b8e"/><stop offset="0.900" stop-color="#3a538b"/><stop offset="1.000" stop-color="#3b518b"/></linearGradient><linearGradient id="g409" gradientUnits="userSpaceOnUse" x1="562.65" x2="622.65" y1="0" y2="0" spreadMethod="reflect"><stop offset="0.000" stop-color="#21a685"/><stop offset="0.183" stop-color="#1e9d89"/><stop offset="0.500" stop-color="#2d708e"/><stop offset="0.833" stop-color="#39568c"/><stop offset="1.000" stop-color="#3b518b"/></linearGradient><linearGradient id="g410" gradientUnits="userSpaceOnUse" x1="562.65" x2="622.65" y1="0" y2="0" spreadMethod="reflect"><stop offset="0.000" stop-color="#20a386"/><stop offset="0.167" stop-color="#1e9d89"/><stop offset="0.533" stop-color="#2e6d8e"/><stop offset="0.850" stop-color="#39558c"/><stop offset="1.000" stop-color="#3b518b"/></linearGradient><linearGradient id="g411" gradientUnits="userSpaceOnUse" x1="562.65" x2="622.65" y1="0" y2="0" spreadMethod="reflect"><stop offset="0.000" stop-color="#1fa187"/><stop offset="0.167" stop-color="#1e9b8a"/><stop offset="0.567" stop-color="#30698e"/><stop offset="0.900" stop-color="#3a538b"/><stop offset="1.000" stop-color="#3b518b"/></linearGradient><linearGradient id="g412" gradientUnits="userSpaceOnUse" x1="562.65" x2="622.65" y1="0" y2="0" spreadMethod="reflect"><stop offset="0.000" stop-color="#1f9f88"/><stop offset="0.183" stop-color="#1f978b"/><stop offset="0.583" stop-color="#31678e"/><stop offset="0.950" stop-color="#3b518b"/><stop offset="1.000" stop-color="#3b518b"/></linearGradient><linearGradient id="g413" gradientUnits="userSpaceOnUse" x1="562.65" x2="622.65" y1="0" y2="0" spreadMethod="reflect"><stop offset="0.000" stop-color="#1e9d89"/><stop offset="0.183" stop-color="#1f958b"/><stop offset="0.583" stop-color="#31678e"/><stop offset="0.900" stop-color="#3a538b"/><stop offset="1.000" stop-color="#3b518b"/></linearGradient><linearGradient id="g414" gradientUnits="userSpaceOnUse" x1="562.65" x2="622.65" y1="0" y2="0" spreadMethod="reflect"><stop offset="0.000" stop-color="#1f9a8a"/><stop offset="0.183" stop-color="#20928c"/><stop offset="0.617" stop-color="#32648e"/><stop offset="0.983" stop-color="#3c508b"/><stop offset="1.000" stop-color="#3c508b"/></linearGradient><linearGradient id="g415" gradientUnits="userSpaceOnUse" x1="562.65" x2="622.65" y1="0" y2="0" spreadMethod="reflect"><stop offset="0.000" stop-color="#1f988b"/><stop offset="0.200" stop-color="#21908d"/><stop offset="0.633" stop-color="#33628d"/><stop offset="1.000" stop-color="#3c508b"/></linearGradient><linearGradient id="g416" gradientUnits="userSpaceOnUse" x1="562.65" x2="622.65" y1="0" y2="0" spreadMethod="reflect"><stop offset="0.000" stop-color="#1f958b"/><stop offset="0.183" stop-color="#218f8d"/><stop offset="0.650" stop-color="#34618d"/><stop offset="1.000" stop-color="#3c508b"/></linearGradient><linearGradient id="g417" gradientUnits="userSpaceOnUse" x1="562.65" x2="622.65" y1="0" y2="0" spreadMethod="reflect"><stop offset="0.000" stop-color="#20938c"/><stop offset="0.217" stop-color="#238a8d"/><stop offset="0.683" stop-color="#355e8d"/><stop offset="1.000" stop-color="#3c508b"/></linearGradient><linearGradient id="g418" gradientUnits="userSpaceOnUse" x1="562.65" x2="622.65" y1="0" y2="0" spreadMethod="reflect"><stop offset="0.000" stop-color="#21918c"/><stop offset="0.217" stop-color="#23888e"/><stop offset="0.700" stop-color="#365d8d"/><stop offset="1.000" stop-color="#3c508b"/></linearGradient><linearGradient id="g419" gradientUnits="userSpaceOnUse" x1="562.65" x2="622.65" y1="0" y2="0" spreadMethod="reflect"><stop offset="0.000" stop-color="#218f8d"/><stop offset="0.217" stop-color="#24868e"/><stop offset="0.700" stop-color="#365d8d"/><stop offset="1.000" stop-color="#3c508b"/></linearGradient><linearGradient id="g420" gradientUnits="userSpaceOnUse" x1="562.65" x2="622.65" y1="0" y2="0" spreadMethod="reflect"><stop offset="0.000" stop-color="#228c8d"/><stop offset="0.200" stop-color="#25858e"/><stop offset="0.733" stop-color="#375a8c"/><stop offset="1.000" stop-color="#3c508b"/></linearGradient><linearGradient id="g421" gradientUnits="userSpaceOnUse" x1="562.65" x2="622.65" y1="0" y2="0" spreadMethod="reflect"><stop offset="0.000" stop-color="#238a8d"/><stop offset="0.233" stop-color="#26828e"/><stop offset="0.750" stop-color="#38598c"/><stop offset="1.000" stop-color="#3c508b"/></linearGradient><linearGradient id="g422" gradientUnits="userSpaceOnUse" x1="562.65" x2="622.65" y1="0" y2="0" spreadMethod="reflect"><stop offset="0.000" stop-color="#23888e"/><stop offset="0.233" stop-color="#27808e"/><stop offset="0.767" stop-color="#38588c"/><stop offset="1.000" stop-color="#3c4f8a"/></linearGradient><linearGradient id="g423" gradientUnits="userSpaceOnUse" x1="562.65" x2="622.65" y1="0" y2="0" spreadMethod="reflect"><stop offset="0.000" stop-color="#24868e"/><stop offset="0.233" stop-color="#277e8e"/><stop offset="0.767" stop-color="#38588c"/><stop offset="1.000" stop-color="#3c4f8a"/></linearGradient><linearGradient id="g424" gradientUnits="userSpaceOnUse" x1="562.65" x2="622.65" y1="0" y2="0" spreadMethod="reflect"><stop offset="0.000" stop-color="#25848e"/><stop offset="0.233" stop-color="#287c8e"/><stop offset="0.817" stop-color="#3a548c"/><stop offset="1.000" stop-color="#3c4f8a"/></linearGradient><linearGradient id="g425" gradientUnits="userSpaceOnUse" x1="562.65" x2="622.65" y1="0" y2="0" spreadMethod="reflect"><stop offset="0.000" stop-color="#26828e"/><stop offset="0.233" stop-color="#297b8e"/><stop offset="0.783" stop-color="#39558c"/><stop offset="1.000" stop-color="#3d4e8a"/></linearGradient><linearGradient id="g426" gradientUnits="userSpaceOnUse" x1="562.65" x2="622.65" y1="0" y2="0" spreadMethod="reflect"><stop offset="0.000" stop-color="#26818e"/><stop offset="0.250" stop-color="#2a788e"/><stop offset="0.850" stop-color="#3b528b"/><stop offset="1.000" stop-color="#3d4e8a"/></linearGradient><linearGradient id="g427" gradientUnits="userSpaceOnUse" x1="562.65" x2="622.65" y1="0" y2="0" spreadMethod="reflect"><stop offset="0.000" stop-color="#277f8e"/><stop offset="0.233" stop-color="#2a778e"/><stop offset="0.817" stop-color="#3a538b"/><stop offset="1.000" stop-color="#3d4d8a"/></linearGradient><linearGradient id="g428" gradientUnits="userSpaceOnUse" x1="562.65" x2="622.65" y1="0" y2="0" spreadMethod="reflect"><stop offset="0.000" stop-color="#277e8e"/><stop offset="0.283" stop-color="#2c738e"/><stop offset="0.883" stop-color="#3c508b"/><stop offset="1.000" stop-color="#3d4d8a"/></linearGradient><linearGradient id="g429" gradientUnits="userSpaceOnUse" x1="562.65" x2="622.65" y1="0" y2="0" spreadMethod="reflect"><stop offset="0.000" stop-color="#287c8e"/><stop offset="0.250" stop-color="#2c738e"/><stop offset="0.867" stop-color="#3c508b"/><stop offset="1.000" stop-color="#3e4c8a"/></linearGradient><linearGradient id="g430" gradientUnits="userSpaceOnUse" x1="562.65" x2="622.65" y1="0" y2="0" spreadMethod="reflect"><stop offset="0.000" stop-color="#297a8e"/><stop offset="0.267" stop-color="#2c718e"/><stop offset="0.933" stop-color="#3d4d8a"/><stop offset="1.000" stop-color="#3e4c8a"/></linearGradient><linearGradient id="g431" gradientUnits="userSpaceOnUse" x1="562.65" x2="622.65" y1="0" y2="0" spreadMethod="reflect"><stop offset="0.000" stop-color="#29798e"/><stop offset="0.300" stop-color="#2e6f8e"/><stop offset="0.950" stop-color="#3e4c8a"/><stop offset="1.000" stop-color="#3e4a89"/></linearGradient><linearGradient id="g432" gradientUnits="userSpaceOnUse" x1="562.65" x2="622.65" y1="0" y2="0" spreadMethod="reflect"><stop offset="0.000" stop-color="#2a778e"/><stop offset="0.300" stop-color="#2e6e8e"/><stop offset="0.967" stop-color="#3e4a89"/><stop offset="1.000" stop-color="#3e4a89"/></linearGradient><linearGradient id="g433" gradientUnits="userSpaceOnUse" x1="562.65" x2="622.65" y1="0" y2="0" spreadMethod="reflect"><stop offset="0.000" stop-color="#2a768e"/><stop offset="0.333" stop-color="#2f6b8e"/><stop offset="0.983" stop-color="#3e4989"/><stop offset="1.000" stop-color="#3e4989"/></linearGradient><linearGradient id="g434" gradientUnits="userSpaceOnUse" x1="562.65" x2="622.65" y1="0" y2="0" spreadMethod="reflect"><stop offset="0.000" stop-color="#2b748e"/><stop offset="0.333" stop-color="#306a8e"/><stop offset="0.983" stop-color="#3e4989"/><stop offset="1.000" stop-color="#3e4989"/></linearGradient><linearGradient id="g435" gradientUnits="userSpaceOnUse" x1="562.65" x2="622.65" y1="0" y2="0" spreadMethod="reflect"><stop offset="0.000" stop-color="#2c738e"/><stop offset="0.367" stop-color="#31678e"/><stop offset="1.000" stop-color="#3f4889"/></linearGradient><linearGradient id="g436" gradientUnits="userSpaceOnUse" x1="562.65" x2="622.65" y1="0" y2="0" spreadMethod="reflect"><stop offset="0.000" stop-color="#2c718e"/><stop offset="0.300" stop-color="#30698e"/><stop offset="0.983" stop-color="#3f4889"/><stop offset="1.000" stop-color="#3f4889"/></linearGradient><linearGradient id="g437" gradientUnits="userSpaceOnUse" x1="562.65" x2="622.65" y1="0" y2="0" spreadMethod="reflect"><stop offset="0.000" stop-color="#2d718e"/><stop offset="0.417" stop-color="#33638d"/><stop offset="1.000" stop-color="#3f4788"/></linearGradient><linearGradient id="g438" gradientUnits="userSpaceOnUse" x1="562.65" x2="622.65" y1="0" y2="0" spreadMethod="reflect"><stop offset="0.000" stop-color="#2e6f8e"/><stop offset="0.400" stop-color="#33638d"/><stop offset="1.000" stop-color="#404688"/></linearGradient><linearGradient id="g439" gradientUnits="userSpaceOnUse" x1="562.65" x2="622.65" y1="0" y2="0" spreadMethod="reflect"><stop offset="0.000" stop-color="#2e6d8e"/><stop offset="0.350" stop-color="#32648e"/><stop offset="1.000" stop-color="#404688"/></linearGradient><linearGradient id="g440" gradientUnits="userSpaceOnUse" x1="562.65" x2="622.65" y1="0" y2="0" spreadMethod="reflect"><stop offset="0.000" stop-color="#2f6c8e"/><stop offset="0.483" stop-color="#355e8d"/><stop offset="1.000" stop-color="#404588"/></linearGradient><linearGradient id="g441" gradientUnits="userSpaceOnUse" x1="562.65" x2="622.65" y1="0" y2="0" spreadMethod="reflect"><stop offset="0.000" stop-color="#306a8e"/><stop offset="0.400" stop-color="#34608d"/><stop offset="1.000" stop-color="#404588"/></linearGradient><linearGradient id="g442" gradientUnits="userSpaceOnUse" x1="562.65" x2="622.65" y1="0" y2="0" spreadMethod="reflect"><stop offset="0.000" stop-color="#30698e"/><stop offset="0.583" stop-color="#38588c"/><stop offset="1.000" stop-color="#414487"/></linearGradient><linearGradient id="g443" gradientUnits="userSpaceOnUse" x1="562.65" x2="622.65" y1="0" y2="0" spreadMethod="reflect"><stop offset="0.000" stop-color="#31678e"/><stop offset="0.433" stop-color="#365d8d"/><stop offset="1.000" stop-color="#414287"/></linearGradient><linearGradient id="g444" gradientUnits="userSpaceOnUse" x1="562.65" x2="622.65" y1="0" y2="0" spreadMethod="reflect"><stop offset="0.000" stop-color="#31668e"/><stop offset="0.517" stop-color="#38598c"/><stop offset="1.000" stop-color="#414287"/></linearGradient><linearGradient id="g445" gradientUnits="userSpaceOnUse" x1="562.65" x2="622.65" y1="0" y2="0" spreadMethod="reflect"><stop offset="0.000" stop-color="#32648e"/><stop offset="0.433" stop-color="#375b8d"/><stop offset="1.000" stop-color="#424186"/></linearGradient><linearGradient id="g446" gradientUnits="userSpaceOnUse" x1="562.65" x2="622.65" y1="0" y2="0" spreadMethod="reflect"><stop offset="0.000" stop-color="#33638d"/><stop offset="0.517" stop-color="#39568c"/><stop offset="1.000" stop-color="#424086"/></linearGradient><linearGradient id="g447" gradientUnits="userSpaceOnUse" x1="562.65" x2="622.65" y1="0" y2="0" spreadMethod="reflect"><stop offset="0.000" stop-color="#34618d"/><stop offset="0.467" stop-color="#38588c"/><stop offset="1.000" stop-color="#424086"/></linearGradient><linearGradient id="g448" gradientUnits="userSpaceOnUse" x1="562.65" x2="622.65" y1="0" y2="0" spreadMethod="reflect"><stop offset="0.000" stop-color="#34608d"/><stop offset="0.533" stop-color="#3a548c"/><stop offset="1.000" stop-color="#423f85"/></linearGradient><linearGradient id="g449" gradientUnits="userSpaceOnUse" x1="562.65" x2="622.65" y1="0" y2="0" spreadMethod="reflect"><stop offset="0.000" stop-color="#355e8d"/><stop offset="0.433" stop-color="#39568c"/><stop offset="1.000" stop-color="#433e85"/></linearGradient><linearGradient id="g450" gradientUnits="userSpaceOnUse" x1="562.65" x2="622.65" y1="0" y2="0" spreadMethod="reflect"><stop offset="0.000" stop-color="#365d8d"/><stop offset="0.467" stop-color="#3a548c"/><stop offset="1.000" stop-color="#433e85"/></linearGradient><linearGradient id="g451" gradientUnits="userSpaceOnUse" x1="562.65" x2="622.65" y1="0" y2="0" spreadMethod="reflect"><stop offset="0.000" stop-color="#365c8d"/><stop offset="0.467" stop-color="#3a538b"/><stop offset="1.000" stop-color="#433d84"/></linearGradient><linearGradient id="g452" gradientUnits="userSpaceOnUse" x1="562.65" x2="622.65" y1="0" y2="0" spreadMethod="reflect"><stop offset="0.000" stop-color="#375a8c"/><stop offset="0.400" stop-color="#3a548c"/><stop offset="1.000" stop-color="#433d84"/></linearGradient><linearGradient id="g453" gradientUnits="userSpaceOnUse" x1="562.65" x2="622.65" y1="0" y2="0" spreadMethod="reflect"><stop offset="0.000" stop-color="#38598c"/><stop offset="0.433" stop-color="#3b528b"/><stop offset="1.000" stop-color="#443b84"/></linearGradient><linearGradient id="g454" gradientUnits="userSpaceOnUse" x1="562.65" x2="622.65" y1="0" y2="0" spreadMethod="reflect"><stop offset="0.000" stop-color="#38588c"/><stop offset="0.433" stop-color="#3b518b"/><stop offset="1.000" stop-color="#443a83"/></linearGradient><linearGradient id="g455" gradientUnits="userSpaceOnUse" x1="562.65" x2="622.65" y1="0" y2="0" spreadMethod="reflect"><stop offset="0.000" stop-color="#39568c"/><stop offset="0.483" stop-color="#3c4f8a"/><stop offset="1.000" stop-color="#443a83"/></linearGradient><linearGradient id="g456" gradientUnits="userSpaceOnUse" x1="562.65" x2="622.65" y1="0" y2="0" spreadMethod="reflect"><stop offset="0.000" stop-color="#39558c"/><stop offset="0.483" stop-color="#3d4e8a"/><stop offset="1.000" stop-color="#443983"/></linearGradient><linearGradient id="g457" gradientUnits="userSpaceOnUse" x1="562.65" x2="622.65" y1="0" y2="0" spreadMethod="reflect"><stop offset="0.000" stop-color="#3a548c"/><stop offset="0.483" stop-color="#3d4d8a"/><stop offset="1.000" stop-color="#443983"/></linearGradient><linearGradient id="g458" gradientUnits="userSpaceOnUse" x1="562.65" x2="622.65" y1="0" y2="0" spreadMethod="reflect"><stop offset="0.000" stop-color="#3a538b"/><stop offset="0.483" stop-color="#3e4c8a"/><stop offset="1.000" stop-color="#443983"/></linearGradient><linearGradient id="g459" gradientUnits="userSpaceOnUse" x1="562.65" x2="622.65" y1="0" y2="0" spreadMethod="reflect"><stop offset="0.000" stop-color="#3b528b"/><stop offset="0.483" stop-color="#3e4a89"/><stop offset="1.000" stop-color="#453882"/></linearGradient><linearGradient id="g460" gradientUnits="userSpaceOnUse" x1="562.65" x2="622.65" y1="0" y2="0" spreadMethod="reflect"><stop offset="0.000" stop-color="#3b518b"/><stop offset="0.500" stop-color="#3e4989"/><stop offset="1.000" stop-color="#453882"/></linearGradient><linearGradient id="g461" gradientUnits="userSpaceOnUse" x1="562.65" x2="622.65" y1="0" y2="0" spreadMethod="reflect"><stop offset="0.000" stop-color="#3c508b"/><stop offset="0.500" stop-color="#3f4889"/><stop offset="1.000" stop-color="#453781"/></linearGradient><linearGradient id="g462" gradientUnits="userSpaceOnUse" x1="562.65" x2="622.65" y1="0" y2="0" spreadMethod="reflect"><stop offset="0.000" stop-color="#3c4f8a"/><stop offset="0.500" stop-color="#3f4788"/><stop offset="1.000" stop-color="#453781"/></linearGradient><linearGradient id="g463" gradientUnits="userSpaceOnUse" x1="562.65" x2="622.65" y1="0" y2="0" spreadMethod="reflect"><stop offset="0.000" stop-color="#3d4e8a"/><stop offset="0.483" stop-color="#3f4788"/><stop offset="1.000" stop-color="#453781"/></linearGradient><linearGradient id="g464" gradientUnits="userSpaceOnUse" x1="562.65" x2="622.65" y1="0" y2="0" spreadMethod="reflect"><stop offset="0.000" stop-color="#3d4d8a"/><stop offset="0.483" stop-color="#404688"/><stop offset="1.000" stop-color="#453581"/></linearGradient><linearGradient id="g465" gradientUnits="userSpaceOnUse" x1="562.65" x2="622.65" y1="0" y2="0" spreadMethod="reflect"><stop offset="0.000" stop-color="#3e4c8a"/><stop offset="0.450" stop-color="#404688"/><stop offset="1.000" stop-color="#453581"/></linearGradient><linearGradient id="g466" gradientUnits="userSpaceOnUse" x1="562.65" x2="622.65" y1="0" y2="0" spreadMethod="reflect"><stop offset="0.000" stop-color="#3e4c8a"/><stop offset="0.583" stop-color="#424186"/><stop offset="1.000" stop-color="#453581"/></linearGradient><linearGradient id="g467" gradientUnits="userSpaceOnUse" x1="562.65" x2="622.65" y1="0" y2="0" spreadMethod="reflect"><stop offset="0.000" stop-color="#3e4a89"/><stop offset="0.550" stop-color="#424186"/><stop offset="1.000" stop-color="#463480"/></linearGradient><linearGradient id="g468" gradientUnits="userSpaceOnUse" x1="562.65" x2="622.65" y1="0" y2="0" spreadMethod="reflect"><stop offset="0.000" stop-color="#3e4989"/><stop offset="0.567" stop-color="#424086"/><stop offset="1.000" stop-color="#463480"/></linearGradient><linearGradient id="g469" gradientUnits="userSpaceOnUse" x1="562.65" x2="622.65" y1="0" y2="0" spreadMethod="reflect"><stop offset="0.000" stop-color="#3f4889"/><stop offset="0.533" stop-color="#424086"/><stop offset="1.000" stop-color="#463480"/></linearGradient><linearGradient id="g470" gradientUnits="userSpaceOnUse" x1="562.65" x2="622.65" y1="0" y2="0" spreadMethod="reflect"><stop offset="0.000" stop-color="#3f4788"/><stop offset="0.550" stop-color="#423f85"/><stop offset="1.000" stop-color="#463480"/></linearGradient><linearGradient id="g471" gradientUnits="userSpaceOnUse" x1="562.65" x2="622.65" y1="0" y2="0" spreadMethod="reflect"><stop offset="0.000" stop-color="#3f4788"/><stop offset="0.667" stop-color="#443b84"/><stop offset="1.000" stop-color="#463480"/></linearGradient><linearGradient id="g472" gradientUnits="userSpaceOnUse" x1="562.65" x2="622.65" y1="0" y2="0" spreadMethod="reflect"><stop offset="0.000" stop-color="#404688"/><stop offset="0.633" stop-color="#443b84"/><stop offset="1.000" stop-color="#46337f"/></linearGradient><linearGradient id="g473" gradientUnits="userSpaceOnUse" x1="562.65" x2="622.65" y1="0" y2="0" spreadMethod="reflect"><stop offset="0.000" stop-color="#404588"/><stop offset="0.667" stop-color="#443a83"/><stop offset="1.000" stop-color="#46337f"/></linearGradient><linearGradient id="g474" gradientUnits="userSpaceOnUse" x1="562.65" x2="622.65" y1="0" y2="0" spreadMethod="reflect"><stop offset="0.000" stop-color="#414487"/><stop offset="0.583" stop-color="#443b84"/><stop offset="1.000" stop-color="#46337f"/></linearGradient><linearGradient id="g475" gradientUnits="userSpaceOnUse" x1="562.65" x2="622.65" y1="0" y2="0" spreadMethod="reflect"><stop offset="0.000" stop-color="#414487"/><stop offset="1.000" stop-color="#46337f"/></linearGradient><linearGradient id="g476" gradientUnits="userSpaceOnUse" x1="562.65" x2="622.65" y1="0" y2="0" spreadMethod="reflect"><stop offset="0.000" stop-color="#414287"/><stop offset="1.000" stop-color="#46327e"/></linearGradient><linearGradient id="g477" gradientUnits="userSpaceOnUse" x1="562.65" x2="622.65" y1="0" y2="0" spreadMethod="reflect"><stop offset="0.000" stop-color="#424186"/><stop offset="1.000" stop-color="#46327e"/></linearGradient><linearGradient id="g478" gradientUnits="userSpaceOnUse" x1="562.65" x2="622.65" y1="0" y2="0" spreadMethod="reflect"><stop offset="0.000" stop-color="#424086"/><stop offset="1.000" stop-color="#46327e"/></linearGradient><linearGradient id="g479" gradientUnits="userSpaceOnUse" x1="562.65" x2="622.65" y1="0" y2="0" spreadMethod="reflect"><stop offset="0.000" stop-color="#424086"/><stop offset="1.000" stop-color="#46327e"/></linearGradient><linearGradient id="g480" gradientUnits="userSpaceOnUse" x1="562.65" x2="622.65" y1="0" y2="0" spreadMethod="reflect"><stop offset="0.000" stop-color="#423f85"/><stop offset="1.000" stop-color="#46327e"/></linearGradient><linearGradient id="g481" gradientUnits="userSpaceOnUse" x1="562.65" x2="622.65" y1="0" y2="0" spreadMethod="reflect"><stop offset="0.000" stop-color="#433e85"/><stop offset="1.000" stop-color="#46327e"/></linearGradient><linearGradient id="g482" gradientUnits="userSpaceOnUse" x1="562.65" x2="622.65" y1="0" y2="0" spreadMethod="reflect"><stop offset="0.000" stop-color="#433d84"/><stop offset="1.000" stop-color="#46307e"/></linearGradient><linearGradient id="g483" gradientUnits="userSpaceOnUse" x1="562.65" x2="622.65" y1="0" y2="0" spreadMethod="reflect"><stop offset="0.000" stop-color="#433d84"/><stop offset="1.000" stop-color="#46307e"/></linearGradient><linearGradient id="g484" gradientUnits="userSpaceOnUse" x1="562.65" x2="622.65" y1="0" y2="0" spreadMethod="reflect"><stop offset="0.000" stop-color="#443b84"/><stop offset="1.000" stop-color="#46307e"/></linearGradient><linearGradient id="g485" gradientUnits="userSpaceOnUse" x1="562.65" x2="622.65" y1="0" y2="0" spreadMethod="reflect"><stop offset="0.000" stop-color="#443a83"/><stop offset="1.000" stop-color="#46307e"/></linearGradient><linearGradient id="g486" gradientUnits="userSpaceOnUse" x1="562.65" x2="622.65" y1="0" y2="0" spreadMethod="reflect"><stop offset="0.000" stop-color="#443983"/><stop offset="1.000" stop-color="#46307e"/></linearGradient><linearGradient id="g487" gradientUnits="userSpaceOnUse" x1="562.65" x2="622.65" y1="0" y2="0" spreadMethod="reflect"><stop offset="0.000" stop-color="#453882"/><stop offset="1.000" stop-color="#46307e"/></linearGradient><linearGradient id="g488" gradientUnits="userSpaceOnUse" x1="562.65" x2="622.65" y1="0" y2="0" spreadMethod="reflect"><stop offset="0.000" stop-color="#453781"/><stop offset="1.000" stop-color="#472f7d"/></linearGradient><linearGradient id="g489" gradientUnits="userSpaceOnUse" x1="562.65" x2="622.65" y1="0" y2="0" spreadMethod="reflect"><stop offset="0.000" stop-color="#453581"/><stop offset="1.000" stop-color="#472f7d"/></linearGradient><linearGradient id="cbg" x1="0" x2="0" y1="0" y2="1"><stop offset="0.000" stop-color="#fde725"/><stop offset="0.043" stop-color="#e2e418"/><stop offset="0.087" stop-color="#c5e021"/><stop offset="0.130" stop-color="#a8db34"/><stop offset="0.174" stop-color="#8bd646"/><stop offset="0.217" stop-color="#70cf57"/><stop offset="0.261" stop-color="#58c765"/><stop offset="0.304" stop-color="#42be71"/><stop offset="0.348" stop-color="#2fb47c"/><stop offset="0.391" stop-color="#24aa83"/><stop offset="0.435" stop-color="#1fa088"/><stop offset="0.478" stop-color="#1f958b"/><stop offset="0.522" stop-color="#228b8d"/><stop offset="0.565" stop-color="#26818e"/><stop offset="0.609" stop-color="#2a768e"/><stop offset="0.652" stop-color="#2f6c8e"/><stop offset="0.696" stop-color="#34608d"/><stop offset="0.739" stop-color="#3a548c"/><stop offset="0.783" stop-color="#3f4889"/><stop offset="0.826" stop-color="#443b84"/><stop offset="0.870" stop-color="#472e7c"/><stop offset="0.913" stop-color="#482071"/><stop offset="0.957" stop-color="#471164"/><stop offset="1.000" stop-color="#440154"/></linearGradient></defs><g clip-path="url(#cp0)"><rect x="15" y="18" width="117" height="1" fill="url(#g1)"/><rect x="15" y="19" width="117" height="1" fill="url(#g2)"/><rect x="15" y="20" width="117" height="1" fill="url(#g3)"/><rect x="15" y="21" width="117" height="1" fill="url(#g4)"/><rect x="15" y="22" width="117" height="1" fill="url(#g5)"/><rect x="15" y="23" width="117" height="1" fill="url(#g6)"/><rect x="15" y="24" width="117" height="1" fill="url(#g7)"/><rect x="15" y="25" width="117" height="1" fill="url(#g8)"/><rect x="15" y="26" width="117" height="1" fill="url(#g9)"/><rect x="15" y="27" width="117" height="1" fill="url(#g10)"/><rect x="15" y="28" width="117" height="1" fill="url(#g11)"/><rect x="15" y="29" width="117" height="1" fill="url(#g12)"/><rect x="15" y="30" width="117" height="1" fill="url(#g13)"/><rect x="15" y="31" width="117" height="1" fill="url(#g14)"/><rect x="15" y="32" width="117" height="1" fill="url(#g15)"/><rect x="15" y="33" width="117" height="1" fill="url(#g16)"/><rect x="15" y="34" width="117" height="1" fill="url(#g17)"/><rect x="15" y="35" width="117" height="1" fill="url(#g18)"/><rect x="15" y="36" width="117" height="1" fill="url(#g19)"/><rect x="15" y="37" width="117" height="1" fill="url(#g20)"/><rect x="15" y="38" width="117" height="1" fill="url(#g21)"/><rect x="15" y="39" width="117" height="1" fill="url(#g22)"/><rect x="15" y="40" width="117" height="1" fill="url(#g23)"/><rect x="15" y="41" width="117" height="1" fill="url(#g24)"/><rect x="15" y="42" width="117" height="1" fill="url(#g25)"/><rect x="15" y="43" width="117" height="1" fill="url(#g26)"/><rect x="15" y="44" width="117" height="1" fill="url(#g27)"/><rect x="15" y="45" width="117" height="1" fill="url(#g28)"/><rect x="15" y="46" width="117" height="1" fill="url(#g29)"/><rect x="15" y="47" width="117" height="1" fill="url(#g30)"/><rect x="15" y="48" width="117" height="1" fill="url(#g31)"/><rect x="15" y="49" width="117" height="1" fill="url(#g32)"/><rect x="15" y="50" width="117" height="1" fill="url(#g33)"/><rect x="15" y="51" width="117" height="1" fill="url(#g34)"/><rect x="15" y="52" width="117" height="1" fill="url(#g35)"/><rect x="15" y="53" width="117" height="1" fill="url(#g36)"/><rect x="15" y="54" width="117" height="1" fill="url(#g37)"/><rect x="15" y="55" width="117" height="1" fill="url(#g38)"/><rect x="15" y="56" width="117" height="1" fill="url(#g39)"/><rect x="15" y="57" width="117" height="1" fill="url(#g40)"/><rect x="15" y="58" width="117" height="1" fill="url(#g41)"/><rect x="15" y="59" width="117" height="1" fill="url(#g42)"/><rect x="15" y="60" width="117" height="1" fill="url(#g43)"/><rect x="15" y="61" width="117" height="1" fill="url(#g44)"/><rect x="15" y="62" width="117" height="1" fill="url(#g45)"/><rect x="15" y="63" width="117" height="1" fill="url(#g46)"/><rect x="15" y="64" width="117" height="1" fill="url(#g47)"/><rect x="15" y="65" width="117" height="1" fill="url(#g48)"/><rect x="15" y="66" width="117" height="1" fill="url(#g49)"/><rect x="15" y="67" width="117" height="1" fill="url(#g50)"/><rect x="15" y="68" width="117" height="1" fill="url(#g51)"/><rect x="15" y="69" width="117" height="1" fill="url(#g52)"/><rect x="15" y="70" width="117" height="1" fill="url(#g53)"/><rect x="15" y="71" width="117" height="1" fill="url(#g54)"/><rect x="15" y="72" width="117" height="1" fill="url(#g55)"/><rect x="15" y="73" width="117" height="1" fill="url(#g56)"/><rect x="15" y="74" width="117" height="1" fill="url(#g57)"/><rect x="15" y="75" width="117" height="1" fill="url(#g58)"/><rect x="15" y="76" width="117" height="1" fill="url(#g59)"/><rect x="15" y="77" width="117" height="1" fill="url(#g60)"/><rect x="15" y="78" width="117" height="1" fill="url(#g61)"/><rect x="15" y="79" width="117" height="1" fill="url(#g62)"/><rect x="15" y="80" width="117" height="1" fill="url(#g63)"/><rect x="15" y="81" width="117" height="1" fill="url(#g64)"/><rect x="15" y="82" width="117" height="1" fill="url(#g65)"/><rect x="15" y="83" width="117" height="1" fill="url(#g66)"/><rect x="15" y="84" width="117" height="1" fill="url(#g67)"/><rect x="15" y="85" width="117" height="1" fill="url(#g68)"/><rect x="15" y="86" width="117" height="1" fill="url(#g69)"/><rect x="15" y="87" width="117" height="1" fill="url(#g70)"/><rect x="15" y="88" width="117" height="1" fill="url(#g71)"/><rect x="15" y="89" width="117" height="1" fill="url(#g72)"/><rect x="15" y="90" width="117" height="1" fill="url(#g73)"/><rect x="15" y="91" width="117" height="1" fill="url(#g74)"/><rect x="15" y="92" width="117" height="1" fill="url(#g75)"/><rect x="15" y="93" width="117" height="1" fill="url(#g76)"/><rect x="15" y="94" width="117" height="1" fill="url(#g77)"/><rect x="15" y="95" width="117" height="1" fill="url(#g78)"/><rect x="15" y="96" width="117" height="1" fill="url(#g79)"/><rect x="15" y="97" width="117" height="1" fill="url(#g80)"/><rect x="15" y="98" width="117" height="1" fill="url(#g81)"/><rect x="15" y="99" width="117" height="1" fill="url(#g82)"/><rect x="15" y="100" width="117" height="1" fill="url(#g83)"/><rect x="15" y="101" width="117" height="1" fill="url(#g84)"/><rect x="15" y="102" width="117" height="1" fill="url(#g85)"/><rect x="15" y="103" width="117" height="1" fill="url(#g86)"/><rect x="15" y="104" width="117" height="1" fill="url(#g87)"/><rect x="15" y="105" width="117" height="1" fill="url(#g88)"/><rect x="15" y="106" width="117" height="1" fill="url(#g89)"/><rect x="15" y="107" width="117" height="1" fill="url(#g90)"/><rect x="15" y="108" width="117" height="1" fill="url(#g91)"/><rect x="15" y="109" width="117" height="1" fill="url(#g92)"/><rect x="15" y="110" width="117" height="1" fill="url(#g93)"/><rect x="15" y="111" width="117" height="1" fill="url(#g94)"/><rect x="15" y="112" width="117" height="1" fill="url(#g95)"/><rect x="15" y="113" width="117" height="1" fill="url(#g96)"/><rect x="15" y="114" width="117" height="1" fill="url(#g97)"/><rect x="15" y="115" width="117" height="1" fill="url(#g98)"/><path d="M131.5 80l-.5 0-.5-1-1 0 1 4-2 .5-.5 3-1.5 0-.5-1 0 1.5-1 .5-.5-1-.5 1 .5 1-.5 1-1.5 0-.5 2-.5-.5 .5 .5-2.5 0 0 1.5-1 .5-1 0-.5 .5 .5 .5-1 1-1 .5-.5-1-2 0 0 2 1 .5-.5 .5-2 .5-1.5 0-1 1.5-1 2-1.5 .5-1.5 1-1.5-.5-4 3-2.5-1 1-1-1-.5-1.5 2.5 .5 1.5-1.5 .5-1-1-1 .5-.5 0 .5-1.5 1.5 .5 1-.5 0-.5-1.5-.5-2.5 .5-1.5 3-1-.5 0-1.5-.5 2-1.5 1.5-1-1-1 0-3-1.5-2 1.5-.5 .5 1 1.5-1.5 1-3 .5-1-1-.5 .5-2 0-.5 1-.5-.5 .5-1.5 1-1.5 .5 .5 1-.5 0-2.5-2.5 1 1 .5-.5 .5-1 0-1.5 2-.5-1.5-.5 0 0 1.5-1.5 .5 0 1-1-2-.5-.5-1 .5-1-.5-.5-2-.5-1-1 1.5 .5 1-1 1.5-.5 .5-.5-.5 0-2.5-2.5 2-.5-1.5 .5-1-.5-1.5-2 0-3 1.5-.5 0-1-1-1.5 .5-1 0 0-1.5 2-1.5 1 .5-1-1.5-1.5 1-1 1.5-.5-1-2.5 .5-.5-1.5-.5-.5-1 .5 0-1.5-.5 0-1.5 1-1-2-1-.5-1 1-.5-1 .5-1-1-1-.5-1-1 1-1.5 0-1 0-.5-1 .5-1-.5-1.5-1.5 .5 0-.5 1-1.5-1-.5-1 0-.5 1-.5-1-4-3-1.5 0-1 1-.5-1 2-2-1.5 0 0-1.5-.5-.5-3-1-.5-4-1.5 0-1-1-.5 1M15 80.5l.5 0 0-.5-.5-.5M128 82.5l0-.5 0-1.5-1 1.5 .5 1 .5-.5M20 89h.5M126 91h.5M28 95.5l0-.5 0 .5M32 100l0-.5 0 .5M40.5 100h.5M74.5 100l-.5 0 .5 0M110.5 101l-.5-.5 .5-.5 .5 1-.5 0M72.5 102l.5-.5-.5-.5-1 .5 0 .5 1 0M109.5 104l-.5 0 .5-1 0 1M74 106l0-1.5 .5-.5-.5-.5-1 .5 0 1 0 1 1 0M99.5 104h.5M103.5 106l-.5-1.5 2 0 0 .5-1.5 1M66 105l-.5-.5 0 .5 .5 0M47 107.5l-1-.5 1-.5 0 1M70.5 107l-1-.5 0 .5 1 0M83 107l-.5-.5-.5 .5 .5 0 .5 0M100.5 107l0-.5 .5 .5-.5 0M57 109l-1.5-1 0-.5 2 1-.5 .5M70.5 108.5l1-.5-.5-1-.5 .5 0 1M78.5 108.5l.5-.5-.5-1-.5 1 .5 .5M66 108l-.5-.5-.5 .5 .5 .5 .5-.5M96.5 108l-1 0 .5-.5 .5 .5M55 109l-1 0-.5-.5 1.5-.5 .5 .5-.5 .5M83.5 111.5l-2 .5-.5-.5 0-3 .5-.5 .5 0 .5 2 1.5-.5-.5 2M92 110.5l-1 0-1-1 1-1 1 1 0 1M89 109.5l-1 0 .5-.5 .5 .5M57 111h.5M73.5 115l-.5-1.5 1.5-.5 0 .5-.5 1.5M79.5 114l-.5-.5 .5 .5M77 115l.5-1 .5 0 0 1" stroke="#f8b4d4" stroke-width="1.05" fill="none" stroke-linejoin="round" stroke-linecap="round"/><path d="M116 18.5l0 1.5 1 1.5-1.5 2 .5 .5 .5 2.5 1 2 0 2.5 1 2-1.5 2.5 0 2 1 .5-1 2-.5 3-1 1.5 1 .5-1.5 .5-.5 2-.5 1.5-1 0 1 1.5-1.5 1.5 1 1.5-1.5 0-.5 2.5-1.5 1-.5 3.5-1 .5 0 1-1 3-3.5 3 .5 1-2 0-1 1-1.5 .5-2 1.5 .5 1-4.5 1-1.5 1.5-1.5-.5-1 1-.5 1-1.5 .5-1.5 1-1-1 .5-.5-.5 0 0 .5-2 1.5-.5 0-.5-1.5-.5 .5-2-.5-.5 1-1 0-.5 0 0-1 1-.5-.5-.5-1 .5-.5 0 0 3-1.5 .5-1.5-.5 1.5-1.5 0-1-1 0 0 2-.5 0-1 0-.5-2-1 1-3.5 1-1-.5 1-2-.5-.5-1 .5-.5 2-.5 .5-1-.5-.5 0-2-.5-1-1.5-1 .5-1.5-1-.5 2-1 0-1.5-3.5-1.5-.5-1 1-.5-1.5-2 0-.5-1-1-.5-1.5 .5-.5-1.5-2 0 0-1 0-.5-1.5 0-.5-2-1-1-1.5 0-1-1.5-.5 0-1-4.5-1.5-.5 0-2-2-1-.5-1 1-1-1-3.5-1-.5-.5-1.5-1-1 .5-1-1.5-.5 0-1 1 0-1-1.5 0-1-1-.5 .5-1.5 0-1.5-.5-1-1 0 1-1.5-1.5-1 1-1 .5-2.5-1.5-1.5 1-.5 1-2-1-3 .5-1.5 0-2 1-3-.5-1.5M28 34l-.5-.5 .5-.5 0 1M112 56.5l0-.5 0 .5M106.5 63l0-.5 0 .5M39.5 63h.5M100.5 69.5l.5-.5-.5 0-.5 0 .5 .5M96.5 72.5l0-1 0 1M95.5 75h.5M61.5 79l0-.5 0 .5M81.5 79.5h.5M72.5 80l-.5 0 .5-.5 0 .5M79 80l-.5 0 .5 0M71.5 81l0-.5 0 .5M74.5 82.5l0-1 .5 0-.5 1M76.5 82h.5M73 89h.5" stroke="#ffa50a" stroke-width="1.10" fill="none" stroke-linejoin="round" stroke-linecap="round"/><path d="M100 18.5l0 1.5 1 2.5 0 1 .5 2 0 1 1 3-1 .5 .5 1-.5 3 .5 2.5-1 5-3.5 6.5-1.5 1.5-.5 1-4.5 4.5 0 1-1 .5-.5-.5-1 1.5-.5-.5-1.5 1.5-2.5 .5 0 1.5-1 .5-1.5-.5-3 1.5-1-.5-1 1-1-.5 0 1.5-1 1-.5-1.5-1.5 2-.5-1-1.5-1-.5-1-1.5 .5-1.5-1-1.5 .5-.5-.5-1.5-.5 0-2-2.5 0-.5-.5-1.5-.5-.5-1.5-.5-.5-1.5 0 0-1-1.5-.5-.5-1-1-.5-3-2.5-1-2.5-1.5-1.5-2-4.5 0-1.5-1.5-1 .5-3-1-3 1-4-1-1 .5-3 1-.5 0-3.5 1-1.5 0-1.5M92.5 55.5l-.5-.5 .5 0 0 .5M61.5 60.5l0-1 .5 0-.5 1M73 61.5l-.5-1-.5 .5-.5 .5 1 .5 .5-.5M73 66l-.5 0 0-.5 .5 .5M73 68.5l0-1 .5 .5-.5 .5" stroke="#ffffff" stroke-width="1.00" fill="none" stroke-linejoin="round" stroke-linecap="round"/><path d="M88.5 18.5l0 1.5 1 2.5 0 1.5 1 2.5 .5 3 1 4-1 3.5-2.5 5.5-3 2.5-1 2-1.5 1-2 .5-2 1.5-.5 .5-.5-1-1.5 0-1 1.5-1-.5-2 1-7.5-3-1.5 0-1.5-2-2-1.5-2.5-3-1.5-2.5-1-4-.5-3 .5-2 0-1 3-11" stroke="#ff1010" stroke-width="1.15" fill="none" stroke-linejoin="round" stroke-linecap="round"/><path d="M79.5 18.5l2.5 4.5 1 4 0 3-.5 3.5-1.5 3-2.5 1.5-2 1-4 .5-1-.5-1 .5-2.5-1.5-3-2.5-1-2.5-1-3.5 .5-2.5 1-3.5 2-5" stroke="#0010ff" stroke-width="1.15" fill="none" stroke-linejoin="round" stroke-linecap="round"/><path d="M77 18.5l.5 6.5 0 2.5-1.5 2.5-3.5 1.5-3-2-.5-2-.5-2 1-7" stroke="#c09aa8" stroke-width="0.60" fill="none" stroke-linejoin="round" stroke-linecap="round"/><path d="M78 18.5l2 8.5 0 2.5-1 2.5-1 1-5 2-4.5-2-2-3-.5-3 2.5-8.5" stroke="#8c1496" stroke-width="1.10" fill="none" stroke-linejoin="round" stroke-linecap="round"/><path d="M76.5 18.5l0 3-1 3.5-1 1-2 0-1.5-1.5-.5-1-.5-2 0-3" stroke="#000000" stroke-width="1.10" fill="none" stroke-linejoin="round" stroke-linecap="round"/></g><rect x="15.00" y="26.9" width="116.40" height="5.2" fill="#fff" fill-opacity="0.5"/><rect x="70" y="32.10" width="5.6" height="83.20" fill="#fff" fill-opacity="0.5"/><rect x="70" y="18.40" width="5.6" height="8.50" fill="#fff" fill-opacity="0.5"/><rect x="15.00" y="18.40" width="116.40" height="96.90" fill="none" stroke="#222" stroke-opacity="0.55" stroke-width="0.5"/><path d="M15.00 115.30v2M34.40 115.30v2M53.80 115.30v2M73.20 115.30v2M92.60 115.30v2M112.00 115.30v2M131.40 115.30v2M15.00 18.40h-2M15.00 37.78h-2M15.00 57.16h-2M15.00 76.54h-2M15.00 95.92h-2M15.00 115.30h-2" stroke="#333" stroke-width="0.5" fill="none"/><text x="15.00" y="123.40" font-size="6.20" text-anchor="middle" fill="#000">−3</text><text x="34.40" y="123.40" font-size="6.20" text-anchor="middle" fill="#000">−2</text><text x="53.80" y="123.40" font-size="6.20" text-anchor="middle" fill="#000">−1</text><text x="73.20" y="123.40" font-size="6.20" text-anchor="middle" fill="#000">0</text><text x="92.60" y="123.40" font-size="6.20" text-anchor="middle" fill="#000">1</text><text x="112.00" y="123.40" font-size="6.20" text-anchor="middle" fill="#000">2</text><text x="131.40" y="123.40" font-size="6.20" text-anchor="middle" fill="#000">3</text><text x="73.20" y="129.40" font-size="6.30" text-anchor="middle" fill="#000">y (mm)</text><text x="73.20" y="16.80" font-size="6.40" text-anchor="middle" fill="#000">D=0.1mm</text><text x="12.40" y="20.60" font-size="6.40" text-anchor="end" fill="#000">0</text><text x="12.40" y="39.98" font-size="6.40" text-anchor="end" fill="#000">1</text><text x="12.40" y="59.36" font-size="6.40" text-anchor="end" fill="#000">2</text><text x="12.40" y="78.74" font-size="6.40" text-anchor="end" fill="#000">3</text><text x="12.40" y="98.12" font-size="6.40" text-anchor="end" fill="#000">4</text><text x="12.40" y="117.50" font-size="6.40" text-anchor="end" fill="#000">5</text><text x="0.00" y="0.00" font-size="6.20" text-anchor="middle" fill="#000" transform="translate(6.2 66.7) rotate(-90)">z (mm)</text><g clip-path="url(#cp1)"><rect x="136" y="18" width="118" height="1" fill="url(#g99)"/><rect x="136" y="19" width="118" height="1" fill="url(#g100)"/><rect x="136" y="20" width="118" height="1" fill="url(#g101)"/><rect x="136" y="21" width="118" height="1" fill="url(#g102)"/><rect x="136" y="22" width="118" height="1" fill="url(#g103)"/><rect x="136" y="23" width="118" height="1" fill="url(#g104)"/><rect x="136" y="24" width="118" height="1" fill="url(#g105)"/><rect x="136" y="25" width="118" height="1" fill="url(#g106)"/><rect x="136" y="26" width="118" height="1" fill="url(#g107)"/><rect x="136" y="27" width="118" height="1" fill="url(#g108)"/><rect x="136" y="28" width="118" height="1" fill="url(#g109)"/><rect x="136" y="29" width="118" height="1" fill="url(#g110)"/><rect x="136" y="30" width="118" height="1" fill="url(#g111)"/><rect x="136" y="31" width="118" height="1" fill="url(#g112)"/><rect x="136" y="32" width="118" height="1" fill="url(#g113)"/><rect x="136" y="33" width="118" height="1" fill="url(#g114)"/><rect x="136" y="34" width="118" height="1" fill="url(#g115)"/><rect x="136" y="35" width="118" height="1" fill="url(#g116)"/><rect x="136" y="36" width="118" height="1" fill="url(#g117)"/><rect x="136" y="37" width="118" height="1" fill="url(#g118)"/><rect x="136" y="38" width="118" height="1" fill="url(#g119)"/><rect x="136" y="39" width="118" height="1" fill="url(#g120)"/><rect x="136" y="40" width="118" height="1" fill="url(#g121)"/><rect x="136" y="41" width="118" height="1" fill="url(#g122)"/><rect x="136" y="42" width="118" height="1" fill="url(#g123)"/><rect x="136" y="43" width="118" height="1" fill="url(#g124)"/><rect x="136" y="44" width="118" height="1" fill="url(#g125)"/><rect x="136" y="45" width="118" height="1" fill="url(#g126)"/><rect x="136" y="46" width="118" height="1" fill="url(#g127)"/><rect x="136" y="47" width="118" height="1" fill="url(#g128)"/><rect x="136" y="48" width="118" height="1" fill="url(#g129)"/><rect x="136" y="49" width="118" height="1" fill="url(#g130)"/><rect x="136" y="50" width="118" height="1" fill="url(#g131)"/><rect x="136" y="51" width="118" height="1" fill="url(#g132)"/><rect x="136" y="52" width="118" height="1" fill="url(#g133)"/><rect x="136" y="53" width="118" height="1" fill="url(#g134)"/><rect x="136" y="54" width="118" height="1" fill="url(#g135)"/><rect x="136" y="55" width="118" height="1" fill="url(#g136)"/><rect x="136" y="56" width="118" height="1" fill="url(#g137)"/><rect x="136" y="57" width="118" height="1" fill="url(#g138)"/><rect x="136" y="58" width="118" height="1" fill="url(#g139)"/><rect x="136" y="59" width="118" height="1" fill="url(#g140)"/><rect x="136" y="60" width="118" height="1" fill="url(#g141)"/><rect x="136" y="61" width="118" height="1" fill="url(#g142)"/><rect x="136" y="62" width="118" height="1" fill="url(#g143)"/><rect x="136" y="63" width="118" height="1" fill="url(#g144)"/><rect x="136" y="64" width="118" height="1" fill="url(#g145)"/><rect x="136" y="65" width="118" height="1" fill="url(#g146)"/><rect x="136" y="66" width="118" height="1" fill="url(#g147)"/><rect x="136" y="67" width="118" height="1" fill="url(#g148)"/><rect x="136" y="68" width="118" height="1" fill="url(#g149)"/><rect x="136" y="69" width="118" height="1" fill="url(#g150)"/><rect x="136" y="70" width="118" height="1" fill="url(#g151)"/><rect x="136" y="71" width="118" height="1" fill="url(#g152)"/><rect x="136" y="72" width="118" height="1" fill="url(#g153)"/><rect x="136" y="73" width="118" height="1" fill="url(#g154)"/><rect x="136" y="74" width="118" height="1" fill="url(#g155)"/><rect x="136" y="75" width="118" height="1" fill="url(#g156)"/><rect x="136" y="76" width="118" height="1" fill="url(#g157)"/><rect x="136" y="77" width="118" height="1" fill="url(#g158)"/><rect x="136" y="78" width="118" height="1" fill="url(#g159)"/><rect x="136" y="79" width="118" height="1" fill="url(#g160)"/><rect x="136" y="80" width="118" height="1" fill="url(#g161)"/><rect x="136" y="81" width="118" height="1" fill="url(#g162)"/><rect x="136" y="82" width="118" height="1" fill="url(#g163)"/><rect x="136" y="83" width="118" height="1" fill="url(#g164)"/><rect x="136" y="84" width="118" height="1" fill="url(#g165)"/><rect x="136" y="85" width="118" height="1" fill="url(#g166)"/><rect x="136" y="86" width="118" height="1" fill="url(#g167)"/><rect x="136" y="87" width="118" height="1" fill="url(#g168)"/><rect x="136" y="88" width="118" height="1" fill="url(#g169)"/><rect x="136" y="89" width="118" height="1" fill="url(#g170)"/><rect x="136" y="90" width="118" height="1" fill="url(#g171)"/><rect x="136" y="91" width="118" height="1" fill="url(#g172)"/><rect x="136" y="92" width="118" height="1" fill="url(#g173)"/><rect x="136" y="93" width="118" height="1" fill="url(#g174)"/><rect x="136" y="94" width="118" height="1" fill="url(#g175)"/><rect x="136" y="95" width="118" height="1" fill="url(#g176)"/><rect x="136" y="96" width="118" height="1" fill="url(#g177)"/><rect x="136" y="97" width="118" height="1" fill="url(#g178)"/><rect x="136" y="98" width="118" height="1" fill="url(#g179)"/><rect x="136" y="99" width="118" height="1" fill="url(#g180)"/><rect x="136" y="100" width="118" height="1" fill="url(#g181)"/><rect x="136" y="101" width="118" height="1" fill="url(#g182)"/><rect x="136" y="102" width="118" height="1" fill="url(#g183)"/><rect x="136" y="103" width="118" height="1" fill="url(#g184)"/><rect x="136" y="104" width="118" height="1" fill="url(#g185)"/><rect x="136" y="105" width="118" height="1" fill="url(#g186)"/><rect x="136" y="106" width="118" height="1" fill="url(#g187)"/><rect x="136" y="107" width="118" height="1" fill="url(#g188)"/><rect x="136" y="108" width="118" height="1" fill="url(#g189)"/><rect x="136" y="109" width="118" height="1" fill="url(#g190)"/><rect x="136" y="110" width="118" height="1" fill="url(#g191)"/><rect x="136" y="111" width="118" height="1" fill="url(#g192)"/><rect x="136" y="112" width="118" height="1" fill="url(#g193)"/><rect x="136" y="113" width="118" height="1" fill="url(#g194)"/><rect x="136" y="114" width="118" height="1" fill="url(#g195)"/><rect x="136" y="115" width="118" height="1" fill="url(#g196)"/><path d="M254 79l-.5 0 .5 0M254 81l-1 0-1 1.5-.5-.5 1-1-1 0 .5 2-1-.5-.5 0-.5 3.5-1.5-1-2 2 .5 0 1.5-.5 0 .5-1 .5 .5 1 0 1-3.5 2.5-.5 1-1.5 0-.5-1.5-1.5 0 .5 2.5 0 1-1 0-.5-1.5-1 .5-1.5 1.5 .5 2-.5 1.5-1 0 0-1.5-1.5-1-1 .5 1 .5 1 1.5-.5 1.5-1 .5-1 0 .5-1-1 0-1-1.5-.5 1.5 0 1-.5 1-1.5 0-1.5 2-.5-1-.5 0-2 1-.5 1-3 1-.5 0-.5-1-2 .5-.5 1.5-1-1-1 2-2.5 1.5 0 1-1.5 1.5 0-1 .5-1.5 0-1-2-2-.5 0-.5 .5 .5 .5 0 1-1.5 3-3-.5-.5 2.5-.5-1 .5-1-.5-.5-2.5 .5-1 0-1-2-2 1-.5-2.5-3-1 1.5-1.5-2-.5 .5-1-.5-.5-.5 1 .5 1 0 .5-1 1 1 0 .5 1.5 2-.5 0 .5-1.5 .5-1-.5-3.5 3-1-.5 1.5-1.5-.5-.5-.5 0-.5 1-1.5 .5-1.5-1.5-1-1-.5-.5-.5 1-.5 0-1 0-.5-.5-.5-1.5-1 1.5 .5 .5-1 .5-1.5 0-1-1-1 1-1-2-1.5-1.5 0-.5-.5-.5-2.5 1-1.5 2.5-.5-.5-.5 0 .5-.5 0-.5-1.5 .5-.5-1-1 0 .5-2-.5-1.5-.5 0 .5 1.5-1.5 1-1 0-.5-.5 1-.5-.5-1.5-3-2.5-1 .5-.5-.5 0-1.5-2 .5-.5 1-.5 0 .5-2-1-1.5-2.5 .5 0-1.5-2.5-1-1 .5-.5-1.5-1.5-2-3.5-1.5-1.5-1.5 1-.5 .5-1-.5-1-1.5 2-1-1 .5-2.5-1.5 .5-.5 1-.5-2.5-1-.5 .5-2 0-.5-.5 .5-1.5-.5M249 83l-.5-.5 0 .5 .5 0M146.5 88h.5M244 91l.5-1 1.5-1-.5-1-1 .5-.5-.5-.5 .5 .5 1.5-1 .5 0 .5 1 .5 0-.5M248.5 90.5h.5M145.5 93h.5M152.5 94h.5M230 97h.5M155 98l-1-.5 1-.5 0 .5 0 .5M155 100l-1.5 0 1.5 0M229 101l-.5-.5 0 1 .5-.5M158.5 102.5l-1.5-.5 0-.5 .5-.5 1.5 .5 0 .5-.5 .5M165 101.5l-.5-.5-.5 .5 .5 .5 .5-.5M226 101.5l-.5 0 0 .5 .5-.5M197 104l-2-1.5-.5 0 .5 1.5 1.5 .5 .5-.5M223.5 102.5l-.5 0 .5 0M231.5 102.5h.5M162.5 104l0-1 .5 1-.5 0M170 105l.5-.5 2-.5-2-1-1.5 1-1 1 1 .5 1-.5M160 104l-.5 .5 0-1 .5 0 .5 .5-.5 0M230.5 104l0-.5 0 .5M186 105.5l-1 0 1 0M192 105.5l-.5 0 0 .5 .5-.5M203 105.5h.5M210.5 105.5h.5M224.5 107l-.5-1.5 .5 0 .5 0-.5 1.5M208 108l.5-1-1-1 0 2 .5 0M220 107.5l-1 0 0-.5 1-1 .5 0-.5 1.5M178.5 107h.5M183.5 107l0-.5 0 .5M173 107.5l-.5 .5 0-1 .5 0 0 .5M170.5 109l0-.5 0 .5M199.5 109l0-1 0 1.5 0-.5M206 110.5l1-1-.5-1-2 1-1-.5-.5-1-1.5 .5 0 1 2-.5 1.5 1.5 1 0M210.5 108.5h.5M217.5 109l-1.5-.5 .5-.5 1 0 0 1M182.5 110.5l-1.5-.5 0-1.5 2 1-.5 1M174.5 111l-.5 0-.5-.5 1 0 0 .5M177 111l-1 0 .5-1 .5 1M184.5 111.5l0-.5 0-.5 .5 .5-.5 .5M186.5 112l0-.5 0 .5M209.5 112.5l-1 0-.5-1 2 0-.5 1M189 112.5l0-.5 0 .5M190.5 113l0-.5 .5 0-.5 .5M194 114l-1 0-.5-.5 1-1 .5 0 .5 1-.5 .5M214.5 113l0-.5 0 .5M201.5 114l-.5-.5 1 0-.5 .5M188.5 115l1-.5 .5 .5" stroke="#f8b4d4" stroke-width="1.05" fill="none" stroke-linejoin="round" stroke-linecap="round"/><path d="M239 18.5l-1 1.5 1 1.5 0 2.5-.5 1.5 0 1.5 1.5 2.5-.5 1 1 2-.5 .5 0 3-1 1 .5 3.5-1 .5 1 1-1 1.5 .5 1-1.5 .5 .5 3-2 2.5 0 1.5-1.5 2-1 0 .5 2-3 4.5 .5 1-1 .5-.5 3-1 1 0 .5-1.5 1-.5 1-2 .5 0 1-1 .5-1.5 1.5-1-.5-1 1.5-2 0-1 1-2.5 1 0 1-.5 .5-1.5-.5-2.5 1.5-.5-.5-.5 1-2-.5-2 .5-.5 .5 .5 .5-1 1-1-1 1-.5-.5-1-.5 0-2 3-1-1-1 1-1-1.5-.5 1.5-3 1-1-1 .5-1 1.5 0 .5 .5 .5-1-1-.5-1-1-2 2-.5 1-.5-.5 0-1-.5-.5-2 2.5-.5-1 0-1-1.5-1.5-.5 1.5-1.5-1.5-1 .5-1-1-1 .5-2-1-1 .5-1.5-1-1.5 1.5-1-1-.5-1.5-1.5 0-1.5-1.5-.5 .5-1 0 0-.5 1.5 0 0-.5-2.5-.5-2-2-3-.5 .5-1-.5-.5-2.5-1.5 0-.5 1-.5-1-1-1.5 0-.5-.5 .5-1.5-2-2.5 .5-2-.5 0-1 1-.5-.5 .5-1-1-1 0-2-.5-.5-1-2-1.5-.5 .5-3-.5-.5 0-1.5-2-2 1-.5 .5-1-2-1 .5-2-1.5-1 1-1.5-1-2 0-1 1-1-1-1.5 .5-2.5 .5-.5-.5-3 1.5-2.5-.5-1 .5-.5-.5-1 .5-3M238.5 29.5h.5M240.5 39l0-1 0 1M239 45h.5M235.5 55h.5M198 77l-.5-.5 0 .5 .5 0M184.5 79.5l-1-1 1 0 .5 .5-.5 .5M187.5 80.5l-1.5-.5 .5-1 1.5 0 0 1-.5 .5M207.5 79.5l-.5-.5 .5-.5 .5 .5-.5 .5M193 82l0-1.5 1 .5-1 1M189 82l-1 0 1-.5 0 .5M190.5 83h.5M194.5 83.5l-.5-.5 .5-.5 1 .5-1 .5M195 85l-.5-.5 .5 .5" stroke="#ffa50a" stroke-width="1.10" fill="none" stroke-linejoin="round" stroke-linecap="round"/><path d="M222 18.5l1 1.5 0 2 1 1.5-.5 2 .5 3 0 1.5 .5 1-1 9.5-1 .5-.5 3-.5 1 0 1.5-5 5.5-1.5 2.5-2 1.5-.5 1.5 .5 .5-2.5 0-2.5 2.5-3.5 1-1 1.5-1.5 0-1.5 1-1-.5-2.5 1-1 1-1.5-.5 1-.5-1-1-1 1-1 0-1 0-1-1-1 .5-2-1-1 0-.5-1-2 0-1-2-4.5-2-1-2-1-1-1-.5-3.5-5-1.5-.5 0-1-.5 0-2-2.5-1.5-6 0-4-.5-1 .5-2-.5-1.5 .5-1.5 0-2 1-4.5-.5-1.5 1-3M197 62l-1 0 1 0M200 65l-1 0 1 0" stroke="#ffffff" stroke-width="1.00" fill="none" stroke-linejoin="round" stroke-linecap="round"/><path d="M210 18.5l2 4.5 1 5.5 .5 3.5-1 5.5-2.5 4.5-1.5 2-.5 1.5-4 2 .5 0 0 1-3.5 1-2.5 0-1.5 1-1 0 0-1-1.5 1-1-.5-.5 1-1-1-1.5-.5-.5 1-.5 0-2.5-2.5-3-1.5-4-5.5-1.5-3-1.5-5.5 .5-5 .5-1 0-2.5 2.5-5.5M196.5 52h.5" stroke="#ff1010" stroke-width="1.15" fill="none" stroke-linejoin="round" stroke-linecap="round"/><path d="M201.5 18.5l3.5 7 .5 3-.5 1.5-3.5 5.5-3 2-1 0-1 1.5-.5 0-2-.5-4.5-2.5-3-4-1-2-.5-3.5 .5-1.5 3.5-6.5" stroke="#0010ff" stroke-width="1.15" fill="none" stroke-linejoin="round" stroke-linecap="round"/><path d="M199 18.5l.5 4.5-.5 4-1 2-1.5 1-1.5-.5-1.5 0-1.5-2-1-5 0-4" stroke="#c09aa8" stroke-width="0.60" fill="none" stroke-linejoin="round" stroke-linecap="round"/><path d="M200 18.5l2 7.5 0 1.5-2 4-2.5 2-1.5 .5-4.5-1.5-1.5-1.5-1.5-2.5 0-2.5 2-7.5" stroke="#8c1496" stroke-width="1.10" fill="none" stroke-linejoin="round" stroke-linecap="round"/><path d="M198.5 18.5l.5 2-1 2.5-1 1-1 1-2.5-.5-1-1.5-1-2.5 0-2" stroke="#000000" stroke-width="1.10" fill="none" stroke-linejoin="round" stroke-linecap="round"/></g><rect x="136.60" y="18.40" width="117.20" height="96.90" fill="none" stroke="#222" stroke-opacity="0.55" stroke-width="0.5"/><path d="M136.60 115.30v2M156.13 115.30v2M175.67 115.30v2M195.20 115.30v2M214.73 115.30v2M234.27 115.30v2M253.80 115.30v2M136.60 18.40h-2M136.60 37.78h-2M136.60 57.16h-2M136.60 76.54h-2M136.60 95.92h-2M136.60 115.30h-2" stroke="#333" stroke-width="0.5" fill="none"/><text x="136.60" y="123.40" font-size="6.20" text-anchor="middle" fill="#000">−3</text><text x="156.13" y="123.40" font-size="6.20" text-anchor="middle" fill="#000">−2</text><text x="175.67" y="123.40" font-size="6.20" text-anchor="middle" fill="#000">−1</text><text x="195.20" y="123.40" font-size="6.20" text-anchor="middle" fill="#000">0</text><text x="214.73" y="123.40" font-size="6.20" text-anchor="middle" fill="#000">1</text><text x="234.27" y="123.40" font-size="6.20" text-anchor="middle" fill="#000">2</text><text x="253.80" y="123.40" font-size="6.20" text-anchor="middle" fill="#000">3</text><text x="195.20" y="129.40" font-size="6.30" text-anchor="middle" fill="#000">y (mm)</text><text x="195.20" y="16.80" font-size="6.40" text-anchor="middle" fill="#000">D=0.2mm</text><g clip-path="url(#cp2)"><rect x="260" y="18" width="117" height="1" fill="url(#g197)"/><rect x="260" y="19" width="117" height="1" fill="url(#g198)"/><rect x="260" y="20" width="117" height="1" fill="url(#g199)"/><rect x="260" y="21" width="117" height="1" fill="url(#g200)"/><rect x="260" y="22" width="117" height="1" fill="url(#g201)"/><rect x="260" y="23" width="117" height="1" fill="url(#g202)"/><rect x="260" y="24" width="117" height="1" fill="url(#g203)"/><rect x="260" y="25" width="117" height="1" fill="url(#g204)"/><rect x="260" y="26" width="117" height="1" fill="url(#g205)"/><rect x="260" y="27" width="117" height="1" fill="url(#g206)"/><rect x="260" y="28" width="117" height="1" fill="url(#g207)"/><rect x="260" y="29" width="117" height="1" fill="url(#g208)"/><rect x="260" y="30" width="117" height="1" fill="url(#g209)"/><rect x="260" y="31" width="117" height="1" fill="url(#g210)"/><rect x="260" y="32" width="117" height="1" fill="url(#g211)"/><rect x="260" y="33" width="117" height="1" fill="url(#g212)"/><rect x="260" y="34" width="117" height="1" fill="url(#g213)"/><rect x="260" y="35" width="117" height="1" fill="url(#g214)"/><rect x="260" y="36" width="117" height="1" fill="url(#g215)"/><rect x="260" y="37" width="117" height="1" fill="url(#g216)"/><rect x="260" y="38" width="117" height="1" fill="url(#g217)"/><rect x="260" y="39" width="117" height="1" fill="url(#g218)"/><rect x="260" y="40" width="117" height="1" fill="url(#g219)"/><rect x="260" y="41" width="117" height="1" fill="url(#g220)"/><rect x="260" y="42" width="117" height="1" fill="url(#g221)"/><rect x="260" y="43" width="117" height="1" fill="url(#g222)"/><rect x="260" y="44" width="117" height="1" fill="url(#g223)"/><rect x="260" y="45" width="117" height="1" fill="url(#g224)"/><rect x="260" y="46" width="117" height="1" fill="url(#g225)"/><rect x="260" y="47" width="117" height="1" fill="url(#g226)"/><rect x="260" y="48" width="117" height="1" fill="url(#g227)"/><rect x="260" y="49" width="117" height="1" fill="url(#g228)"/><rect x="260" y="50" width="117" height="1" fill="url(#g229)"/><rect x="260" y="51" width="117" height="1" fill="url(#g230)"/><rect x="260" y="52" width="117" height="1" fill="url(#g231)"/><rect x="260" y="53" width="117" height="1" fill="url(#g232)"/><rect x="260" y="54" width="117" height="1" fill="url(#g233)"/><rect x="260" y="55" width="117" height="1" fill="url(#g234)"/><rect x="260" y="56" width="117" height="1" fill="url(#g235)"/><rect x="260" y="57" width="117" height="1" fill="url(#g236)"/><rect x="260" y="58" width="117" height="1" fill="url(#g237)"/><rect x="260" y="59" width="117" height="1" fill="url(#g238)"/><rect x="260" y="60" width="117" height="1" fill="url(#g239)"/><rect x="260" y="61" width="117" height="1" fill="url(#g240)"/><rect x="260" y="62" width="117" height="1" fill="url(#g241)"/><rect x="260" y="63" width="117" height="1" fill="url(#g242)"/><rect x="260" y="64" width="117" height="1" fill="url(#g243)"/><rect x="260" y="65" width="117" height="1" fill="url(#g244)"/><rect x="260" y="66" width="117" height="1" fill="url(#g245)"/><rect x="260" y="67" width="117" height="1" fill="url(#g246)"/><rect x="260" y="68" width="117" height="1" fill="url(#g247)"/><rect x="260" y="69" width="117" height="1" fill="url(#g248)"/><rect x="260" y="70" width="117" height="1" fill="url(#g249)"/><rect x="260" y="71" width="117" height="1" fill="url(#g250)"/><rect x="260" y="72" width="117" height="1" fill="url(#g251)"/><rect x="260" y="73" width="117" height="1" fill="url(#g252)"/><rect x="260" y="74" width="117" height="1" fill="url(#g253)"/><rect x="260" y="75" width="117" height="1" fill="url(#g254)"/><rect x="260" y="76" width="117" height="1" fill="url(#g255)"/><rect x="260" y="77" width="117" height="1" fill="url(#g256)"/><rect x="260" y="78" width="117" height="1" fill="url(#g257)"/><rect x="260" y="79" width="117" height="1" fill="url(#g258)"/><rect x="260" y="80" width="117" height="1" fill="url(#g259)"/><rect x="260" y="81" width="117" height="1" fill="url(#g260)"/><rect x="260" y="82" width="117" height="1" fill="url(#g261)"/><rect x="260" y="83" width="117" height="1" fill="url(#g262)"/><rect x="260" y="84" width="117" height="1" fill="url(#g263)"/><rect x="260" y="85" width="117" height="1" fill="url(#g264)"/><rect x="260" y="86" width="117" height="1" fill="url(#g265)"/><rect x="260" y="87" width="117" height="1" fill="url(#g266)"/><rect x="260" y="88" width="117" height="1" fill="url(#g267)"/><rect x="260" y="89" width="117" height="1" fill="url(#g268)"/><rect x="260" y="90" width="117" height="1" fill="url(#g269)"/><rect x="260" y="91" width="117" height="1" fill="url(#g270)"/><rect x="260" y="92" width="117" height="1" fill="url(#g271)"/><rect x="260" y="93" width="117" height="1" fill="url(#g272)"/><rect x="260" y="94" width="117" height="1" fill="url(#g273)"/><rect x="260" y="95" width="117" height="1" fill="url(#g274)"/><rect x="260" y="96" width="117" height="1" fill="url(#g275)"/><rect x="260" y="97" width="117" height="1" fill="url(#g276)"/><rect x="260" y="98" width="117" height="1" fill="url(#g277)"/><rect x="260" y="99" width="117" height="1" fill="url(#g278)"/><rect x="260" y="100" width="117" height="1" fill="url(#g279)"/><rect x="260" y="101" width="117" height="1" fill="url(#g280)"/><rect x="260" y="102" width="117" height="1" fill="url(#g281)"/><rect x="260" y="103" width="117" height="1" fill="url(#g282)"/><rect x="260" y="104" width="117" height="1" fill="url(#g283)"/><rect x="260" y="105" width="117" height="1" fill="url(#g284)"/><rect x="260" y="106" width="117" height="1" fill="url(#g285)"/><rect x="260" y="107" width="117" height="1" fill="url(#g286)"/><rect x="260" y="108" width="117" height="1" fill="url(#g287)"/><rect x="260" y="109" width="117" height="1" fill="url(#g288)"/><rect x="260" y="110" width="117" height="1" fill="url(#g289)"/><rect x="260" y="111" width="117" height="1" fill="url(#g290)"/><rect x="260" y="112" width="117" height="1" fill="url(#g291)"/><rect x="260" y="113" width="117" height="1" fill="url(#g292)"/><rect x="260" y="114" width="117" height="1" fill="url(#g293)"/><rect x="260" y="115" width="117" height="1" fill="url(#g294)"/><path d="M260 79.5l.5-.5-.5-1M376.5 80l-1-.5 0 .5 0 .5 1-.5M260 81.5l1-.5-1 0M377 81.5l-1.5-.5-1 1 0 .5 1 .5-1 0 0 1.5-1 1-1 0-.5 .5-1 0-1-1-1 .5 0 .5 1.5 1 .5 1-.5 1-2-1 0 .5 .5 1.5-.5 0-2-.5-1 .5 .5 1 0 .5 .5 .5 1-.5 0 1.5-.5 1-1.5-1-1 0-1 1-2 0-.5 2-1 .5-1.5-.5-.5 1 1.5 .5 .5 1-.5 1.5-2.5 .5-1-.5-1.5 1-.5-.5-1 0 1 1-.5 .5-3 1.5-.5 0 0-1.5-1 .5-1.5-.5-4.5 2.5-1 0-1.5 1.5-1.5-1-.5 2-1 0-1-1-1 1 .5 0 1 0 .5 .5-1 1.5-.5 1.5-1-1 0-1-1.5 1 0 1.5-3 1-1-1 0-.5 1 0 1-1 0-1.5-1 0-1 .5-.5 1.5-2.5 1 .5-1.5-.5-1-.5 0-.5 .5-.5 2-2.5-2-.5 .5 1.5 1 0 .5-2.5 1-.5-1-2-1-1.5 1-1.5 0-3.5 0-1-1-.5 1 .5 1-.5 .5-2-1.5 0-1.5-.5 0-1-.5-.5 1.5-1.5 .5-1-1-.5-.5 1.5-1 0-2.5-1.5 1-1.5 1.5-1-1-1 1-1-1-2-.5-1-1.5-2.5-.5 0-.5 .5-.5-.5-1-.5 0-2 1-1-1.5-1 0 1 1-.5 1-3-1-.5-1.5-1.5 1-1.5-.5 1.5-.5 0-1-1.5-1.5-.5 2.5-1.5-2-1-1 .5-1-.5-1-.5 1 .5 .5-.5 .5-3.5-1-.5-1.5-1.5-1 0-1-1-.5 .5-1-1.5-1 0-1-2-.5-1.5 0-2-5-.5 0-1 .5-2-1.5 0-.5 1.5-1-1.5-1-3 .5M371.5 84h.5M266 90h.5M370.5 91.5l0-1 .5 .5-.5 .5M364 92l0-.5 0 .5M272 93l-1 0 1 0M360 94l0-.5-1 .5 1 0M272.5 94.5h.5M277.5 95l-.5-.5 0 1 .5-.5M272 95l.5 0-.5 0M364.5 96l0-.5 .5 0-.5 .5M278.5 97l0-1-.5 1 .5 0M274 98.5h.5M359 99l-.5-.5-.5 0 0 1 1-.5M318.5 101l1-1-1-.5-1 1 .5 1 .5-.5M364 100l-.5 0 .5-.5 0 .5M280 100.5h.5M280 104l0-1 0 1M303.5 104l-.5-.5-.5 .5 1 0M320.5 105l-1.5-1.5-1-.5 0 1 1 1 1.5 0M347.5 105.5l-.5-.5-1 .5-.5-.5 1-1.5 1 .5 0 1.5M350 104l0-.5 .5 .5-.5 0M284 104.5l.5 0-.5 0M312.5 105l-.5 0 .5 0M295 108.5l-1.5-1.5 .5-1.5 1 1 0 2M302.5 107l-.5-1.5 0 1.5 .5 0M320.5 108l1-1-.5-1-2 1.5 0 .5 1.5 0M311 107.5l0-1-1 .5 0 .5 .5 0 .5 0M314.5 107l-1 0 1 0M333.5 107.5l.5-.5-.5-.5 0 1M340 108l-.5 0-.5-1 1-1 .5 1.5-.5 .5M346 107l-.5 0 .5 0M308 108h.5M325 108h.5M312.5 109.5l-.5-1-.5 1 1 0M314 109.5l0-1-.5 .5 .5 .5M343 108.5l-.5 .5 0-.5 .5 0M299.5 110l-1.5 0-.5-.5 .5-.5 1.5 1M317 109.5l0-1-1 1 1 0M310 109.5l0-.5-.5 .5 .5 .5 0-.5M338.5 109.5l-1 0 1 0M346.5 109.5h.5M300 111.5l0-1.5 0 1.5M328 112l0-.5 0 .5M336 111.5l-.5 0 .5-.5 0 .5M318 115l-.5-1-2 0-2-1.5 1.5-.5 2.5 1.5 1.5 0 1.5 1.5M320 112.5l-.5 .5 0-.5 .5 0M327 112.5l-.5 .5-2-.5 2-.5 .5 .5M321 114l0-.5 0 .5M322.5 115l0-.5 .5 .5M319 115l-1 0" stroke="#f8b4d4" stroke-width="1.05" fill="none" stroke-linejoin="round" stroke-linecap="round"/><path d="M361.5 18.5l-.5 1.5 .5 1 1-.5 1 3.5-.5 .5-.5 2 0 1 1 1-1 1.5 1 1 0 1-1.5 .5 1 .5 .5 0 0 2.5-2 1 0 1 .5 .5 0 2 .5 2-1 .5-.5 1-1 3.5 0 2-1.5 2 0 1-1.5 2.5-1 4.5-1.5 .5 0 1 .5 .5-.5 0-1 0-.5 .5-.5 3.5-1.5 0 .5 1-.5 2-2 .5 0 .5-2.5 0-1 1 .5 .5 0 1-.5 0-3.5 0-1 1.5-2 0 0 1.5-2 .5-1.5 1-2 .5-1-.5-.5 2-1.5-1.5-2.5 1.5-1.5-.5-.5 .5-.5 0-.5-.5-.5 0 .5 1.5-1.5 .5-2.5-.5 1-1-1 .5-.5-1-1.5 0-1 1.5 1 1-1 .5-.5-1.5-2 .5-.5-1.5-.5 0-2-.5 1 1.5-1 .5-2.5-2.5-.5 0 1 .5-1.5 .5-1-.5 0-.5-.5 .5-.5 .5-3-2.5-1 1-4.5-3-2-.5-2 0-1.5-1.5-5.5-2.5 1-.5 0-.5-1.5-1.5-1 .5-1.5-2.5-2-2.5 0-3-1-1-.5-1.5-1.5-2.5-.5-2-1-1 0-.5-1-1 .5-1.5-.5-1-.5 .5-1-1 .5-1.5-1-2 .5-1-.5 0-.5-1.5-1.5-2.5 1.5 0 0-.5-1-1 0-2 .5-.5-1-1.5 1.5-1.5-.5-2 1-5-1-.5 0-.5 1-2.5-.5-1 1-1M363 38l-1 0 0-.5 0-.5 1.5 0-.5 1M361.5 46.5l0-.5 0 .5M276 48h.5M343.5 73l-2 0 1.5-.5 .5 .5M298 75l-1.5 0 1.5 0M318.5 76.5l-.5-1-.5 .5 0 .5 .5 .5 .5-.5M327 76.5l0-.5-.5-.5 .5 1M324 77l-1 0 1 0M317 78.5l0-1 0 1.5 0-.5M320 79l-.5 .5 0-.5 .5-.5 1 .5-1 0M318.5 84h.5M318.5 87l0-1.5 .5 .5-.5 1" stroke="#ffa50a" stroke-width="1.10" fill="none" stroke-linejoin="round" stroke-linecap="round"/><path d="M345 18.5l2 5.5-.5 2.5 .5 4 0 3 .5 3.5-.5 1-1.5 5.5-1.5 2 0 1.5-1 1 0 1-1 1.5-1.5 .5-3 4.5-1 0-1 1.5-2 .5-3 3.5-.5-.5-1 1.5-1-.5-1 .5 0 1-2 1-1.5-.5-1 .5-1.5 .5-.5-1.5-2-.5 0 .5 .5 .5-1 1.5-2.5-1 1-1-.5 0-1.5 0 0 .5-.5 1-.5-1 .5-.5-.5 0-2 0-5.5-2.5-1-2-3.5-2-1-1.5-1.5-.5-1-1.5-1-.5-1.5-2 0-1.5-1.5-.5-1.5-1.5 .5-.5-1.5-1.5 0-1-1-4.5-1-5.5 .5-1.5 0-3 0-4 .5-1.5 0-2.5 1-3M294 47h.5M335 58l0-.5 0 .5M324 62l-.5 0 .5 0M319.5 66l.5 0-.5 0" stroke="#ffffff" stroke-width="1.00" fill="none" stroke-linejoin="round" stroke-linecap="round"/><path d="M333.5 18.5l3 4.5 0 1 1 1.5 0 2 .5 2-.5 4-2 4.5-1.5 3-1.5 1-.5 2-1.5 .5-2.5 4-1.5-1-1 1-.5-.5 0 1.5-4 1-2 0 0-1.5-.5 0-1.5 1-2-.5-1.5 1-1.5-1.5-2-.5-1.5-2-1 0-.5-1-1-.5-3-3.5-.5-1.5-1.5-2-1.5-5 0-4.5 1.5-6 2.5-4" stroke="#ff1010" stroke-width="1.15" fill="none" stroke-linejoin="round" stroke-linecap="round"/><path d="M326 18.5l3 3.5 1 2-.5 5.5-.5 2.5-2 3-2 2-3 1-2.5 0-1-.5-1.5 .5-2-.5-1 0-3.5-2-2.5-3.5-1-3.5 0-4.5 1-2 3-3.5" stroke="#0010ff" stroke-width="1.15" fill="none" stroke-linejoin="round" stroke-linecap="round"/><path d="M323 18.5l-.5 5-1 2-2 .5-1.5-.5-1 .5-2-1-.5-2-.5-4.5" stroke="#c09aa8" stroke-width="0.60" fill="none" stroke-linejoin="round" stroke-linecap="round"/><path d="M324 18.5l.5 2 2 3.5-.5 3-1.5 2.5-1.5 1-4 1-1 1-1-1-2-.5-2-1-2-3.5-.5-2.5 1.5-2.5 1-3" stroke="#8c1496" stroke-width="1.10" fill="none" stroke-linejoin="round" stroke-linecap="round"/><path d="M321.5 18.5l-.5 1.5-2 .5-1-.5-1 0-1.5-1.5" stroke="#000000" stroke-width="1.10" fill="none" stroke-linejoin="round" stroke-linecap="round"/></g><rect x="260.20" y="18.40" width="116.60" height="96.90" fill="none" stroke="#222" stroke-opacity="0.55" stroke-width="0.5"/><path d="M260.20 115.30v2M279.63 115.30v2M299.07 115.30v2M318.50 115.30v2M337.93 115.30v2M357.37 115.30v2M376.80 115.30v2M260.20 18.40h-2M260.20 37.78h-2M260.20 57.16h-2M260.20 76.54h-2M260.20 95.92h-2M260.20 115.30h-2" stroke="#333" stroke-width="0.5" fill="none"/><text x="260.20" y="123.40" font-size="6.20" text-anchor="middle" fill="#000">−3</text><text x="279.63" y="123.40" font-size="6.20" text-anchor="middle" fill="#000">−2</text><text x="299.07" y="123.40" font-size="6.20" text-anchor="middle" fill="#000">−1</text><text x="318.50" y="123.40" font-size="6.20" text-anchor="middle" fill="#000">0</text><text x="337.93" y="123.40" font-size="6.20" text-anchor="middle" fill="#000">1</text><text x="357.37" y="123.40" font-size="6.20" text-anchor="middle" fill="#000">2</text><text x="376.80" y="123.40" font-size="6.20" text-anchor="middle" fill="#000">3</text><text x="318.50" y="129.40" font-size="6.30" text-anchor="middle" fill="#000">y (mm)</text><text x="318.50" y="16.80" font-size="6.40" text-anchor="middle" fill="#000">D=0.5mm</text><g clip-path="url(#cp3)"><rect x="383" y="18" width="117" height="1" fill="url(#g295)"/><rect x="383" y="19" width="117" height="1" fill="url(#g296)"/><rect x="383" y="20" width="117" height="1" fill="url(#g297)"/><rect x="383" y="21" width="117" height="1" fill="url(#g298)"/><rect x="383" y="22" width="117" height="1" fill="url(#g299)"/><rect x="383" y="23" width="117" height="1" fill="url(#g300)"/><rect x="383" y="24" width="117" height="1" fill="url(#g301)"/><rect x="383" y="25" width="117" height="1" fill="url(#g302)"/><rect x="383" y="26" width="117" height="1" fill="url(#g303)"/><rect x="383" y="27" width="117" height="1" fill="url(#g304)"/><rect x="383" y="28" width="117" height="1" fill="url(#g305)"/><rect x="383" y="29" width="117" height="1" fill="url(#g306)"/><rect x="383" y="30" width="117" height="1" fill="url(#g307)"/><rect x="383" y="31" width="117" height="1" fill="url(#g308)"/><rect x="383" y="32" width="117" height="1" fill="url(#g309)"/><rect x="383" y="33" width="117" height="1" fill="url(#g310)"/><rect x="383" y="34" width="117" height="1" fill="url(#g311)"/><rect x="383" y="35" width="117" height="1" fill="url(#g312)"/><rect x="383" y="36" width="117" height="1" fill="url(#g313)"/><rect x="383" y="37" width="117" height="1" fill="url(#g314)"/><rect x="383" y="38" width="117" height="1" fill="url(#g315)"/><rect x="383" y="39" width="117" height="1" fill="url(#g316)"/><rect x="383" y="40" width="117" height="1" fill="url(#g317)"/><rect x="383" y="41" width="117" height="1" fill="url(#g318)"/><rect x="383" y="42" width="117" height="1" fill="url(#g319)"/><rect x="383" y="43" width="117" height="1" fill="url(#g320)"/><rect x="383" y="44" width="117" height="1" fill="url(#g321)"/><rect x="383" y="45" width="117" height="1" fill="url(#g322)"/><rect x="383" y="46" width="117" height="1" fill="url(#g323)"/><rect x="383" y="47" width="117" height="1" fill="url(#g324)"/><rect x="383" y="48" width="117" height="1" fill="url(#g325)"/><rect x="383" y="49" width="117" height="1" fill="url(#g326)"/><rect x="383" y="50" width="117" height="1" fill="url(#g327)"/><rect x="383" y="51" width="117" height="1" fill="url(#g328)"/><rect x="383" y="52" width="117" height="1" fill="url(#g329)"/><rect x="383" y="53" width="117" height="1" fill="url(#g330)"/><rect x="383" y="54" width="117" height="1" fill="url(#g331)"/><rect x="383" y="55" width="117" height="1" fill="url(#g332)"/><rect x="383" y="56" width="117" height="1" fill="url(#g333)"/><rect x="383" y="57" width="117" height="1" fill="url(#g334)"/><rect x="383" y="58" width="117" height="1" fill="url(#g335)"/><rect x="383" y="59" width="117" height="1" fill="url(#g336)"/><rect x="383" y="60" width="117" height="1" fill="url(#g337)"/><rect x="383" y="61" width="117" height="1" fill="url(#g338)"/><rect x="383" y="62" width="117" height="1" fill="url(#g339)"/><rect x="383" y="63" width="117" height="1" fill="url(#g340)"/><rect x="383" y="64" width="117" height="1" fill="url(#g341)"/><rect x="383" y="65" width="117" height="1" fill="url(#g342)"/><rect x="383" y="66" width="117" height="1" fill="url(#g343)"/><rect x="383" y="67" width="117" height="1" fill="url(#g344)"/><rect x="383" y="68" width="117" height="1" fill="url(#g345)"/><rect x="383" y="69" width="117" height="1" fill="url(#g346)"/><rect x="383" y="70" width="117" height="1" fill="url(#g347)"/><rect x="383" y="71" width="117" height="1" fill="url(#g348)"/><rect x="383" y="72" width="117" height="1" fill="url(#g349)"/><rect x="383" y="73" width="117" height="1" fill="url(#g350)"/><rect x="383" y="74" width="117" height="1" fill="url(#g351)"/><rect x="383" y="75" width="117" height="1" fill="url(#g352)"/><rect x="383" y="76" width="117" height="1" fill="url(#g353)"/><rect x="383" y="77" width="117" height="1" fill="url(#g354)"/><rect x="383" y="78" width="117" height="1" fill="url(#g355)"/><rect x="383" y="79" width="117" height="1" fill="url(#g356)"/><rect x="383" y="80" width="117" height="1" fill="url(#g357)"/><rect x="383" y="81" width="117" height="1" fill="url(#g358)"/><rect x="383" y="82" width="117" height="1" fill="url(#g359)"/><rect x="383" y="83" width="117" height="1" fill="url(#g360)"/><rect x="383" y="84" width="117" height="1" fill="url(#g361)"/><rect x="383" y="85" width="117" height="1" fill="url(#g362)"/><rect x="383" y="86" width="117" height="1" fill="url(#g363)"/><rect x="383" y="87" width="117" height="1" fill="url(#g364)"/><rect x="383" y="88" width="117" height="1" fill="url(#g365)"/><rect x="383" y="89" width="117" height="1" fill="url(#g366)"/><rect x="383" y="90" width="117" height="1" fill="url(#g367)"/><rect x="383" y="91" width="117" height="1" fill="url(#g368)"/><rect x="383" y="92" width="117" height="1" fill="url(#g369)"/><rect x="383" y="93" width="117" height="1" fill="url(#g370)"/><rect x="383" y="94" width="117" height="1" fill="url(#g371)"/><rect x="383" y="95" width="117" height="1" fill="url(#g372)"/><rect x="383" y="96" width="117" height="1" fill="url(#g373)"/><rect x="383" y="97" width="117" height="1" fill="url(#g374)"/><rect x="383" y="98" width="117" height="1" fill="url(#g375)"/><rect x="383" y="99" width="117" height="1" fill="url(#g376)"/><rect x="383" y="100" width="117" height="1" fill="url(#g377)"/><rect x="383" y="101" width="117" height="1" fill="url(#g378)"/><rect x="383" y="102" width="117" height="1" fill="url(#g379)"/><rect x="383" y="103" width="117" height="1" fill="url(#g380)"/><rect x="383" y="104" width="117" height="1" fill="url(#g381)"/><rect x="383" y="105" width="117" height="1" fill="url(#g382)"/><rect x="383" y="106" width="117" height="1" fill="url(#g383)"/><rect x="383" y="107" width="117" height="1" fill="url(#g384)"/><rect x="383" y="108" width="117" height="1" fill="url(#g385)"/><rect x="383" y="109" width="117" height="1" fill="url(#g386)"/><rect x="383" y="110" width="117" height="1" fill="url(#g387)"/><rect x="383" y="111" width="117" height="1" fill="url(#g388)"/><rect x="383" y="112" width="117" height="1" fill="url(#g389)"/><rect x="383" y="113" width="117" height="1" fill="url(#g390)"/><rect x="383" y="114" width="117" height="1" fill="url(#g391)"/><rect x="383" y="115" width="117" height="1" fill="url(#g392)"/><path d="M499 80l0 1M499 82l-1 0-.5 .5-.5 1-1 1 0 1.5-.5 0-1-.5-1 .5 .5 1-1 1-1 0 .5 .5-1 1.5-.5 .5-1-1-.5 .5 1 1-.5 .5-2-1.5 .5 2 .5 1-1 1-.5 0 0-.5 0-.5-1 0 0 1-1 .5-2.5 2.5-.5 1-1.5-1-1 .5 0 1.5-.5-.5 .5-.5-1 0-1.5 2 .5 1-.5 .5-1 .5-2.5-2.5-1 1-3 1 2.5 1-2 2-.5 0-1.5-.5-2.5 .5 1.5 1 .5 2-1 .5-1-1-3.5 0-1-.5-1 1-1.5-.5-.5 .5-1-1-2.5 3.5-.5-.5 0-1-3-.5-1-1-.5 1 1 .5-3.5 2.5-1 .5-3-1 0 1-.5 .5-3 1.5 0-1.5 1.5-1-1-1.5-1.5 0-1.5 2-1-.5-1-1.5 1-1 1 0-1 0-1-.5-1 .5 1 1-3 2-.5-.5 .5-2.5 .5-.5-.5-.5-2 1-1.5-1-.5-1.5 0 1.5 1 1-2 1.5-2.5-1.5-.5-1-2-1-1.5 2-.5 0-1-1.5 .5-1.5-.5-.5-1 0-.5-.5-1 0 .5 1-1 .5 0-1-1.5-.5-1 1.5-1.5 0-1-1-2-.5 0-.5 1.5 0 1-2-.5-.5-.5-.5-2.5 2.5-1.5 .5-2-1-1 .5-1.5-1 1.5-1.5 1 1.5 .5-1-.5-1 1.5-.5-1-.5-1.5 1.5-1-1 1-1.5-1-1-.5 .5 .5 .5-1 1.5-1 0-.5-2 1-1 0-.5-1.5-1.5-1.5-2.5-2 2 .5 .5 .5-.5 1 0-.5 1 1 1.5-1.5 0-1.5-1.5-1 0-.5-1.5-1-1 .5-1 1 0 0-.5-2.5-1.5-1-1.5-1 0-.5 .5-.5 0 .5-1.5-.5-1-2-1-.5 1-.5-2-3.5-3M495.5 83l-.5 0 .5 0M388 88.5l-.5-1 1 0-.5 1M494.5 89l-.5 0-.5-.5 1.5 0-.5 .5M483 94.5l0 .5 0-.5M476 98l-.5-.5-.5 .5 1 0M482 100.5l-1 0-.5-.5 .5-1 1 0 0 1 0 .5M479.5 101l-1-.5 .5-1 .5 1 0 .5M476 103.5l-.5-.5-2.5 .5-.5-1 0-1 1 0 2 1 .5-.5 0 1.5M407 102.5l0-.5-.5 0 .5 1.5 0-1M414 104l0-1-.5 1 .5 0M463.5 105l0-1-.5-.5-.5 0 0 2 1-.5M440.5 107.5l1-2-1-1-.5 2.5 0 .5 .5 0M445.5 105l-.5-.5 .5 .5M448 105.5l-.5 0 .5 0M464.5 106l.5-.5-1 0 .5 1 0-.5M438 107.5l-.5-1-1.5 .5 1.5 .5 .5 0M446.5 108l0-1 0 1.5 0-.5M442.5 109.5l0-2-.5 2 .5 .5 0-.5M434 109l.5-.5-1.5 0 .5 .5 .5 0M445 110.5l.5-1.5-.5 0-.5 0-.5 .5 .5 1 .5 0M457 111.5l-1 0 1-1 .5-2 1 .5 0 .5-1.5 2M423.5 109.5h.5M460.5 109.5h.5M454.5 111.5l0-1.5 0 1.5M450.5 112.5l-.5-.5 .5-1 1.5-.5 0 .5-1 0-.5 1.5M435.5 112l-.5-.5 1-.5 0 .5-.5 .5M443.5 113l-.5-1 .5-.5 .5 1-.5 .5M433.5 112.5l-.5 0 .5 0 .5 0-.5 0M448 114l-1-.5 0-1 3-.5 0 .5-2 1.5M453.5 113l-.5-.5 .5 .5M450.5 114l0-1 0 1M439.5 114l-1-.5 1 0 0 .5M445.5 114l-.5-.5 .5 .5M435 115l.5 0M440.5 115l2 0" stroke="#f8b4d4" stroke-width="1.05" fill="none" stroke-linejoin="round" stroke-linecap="round"/><path d="M398.5 18.5l-.5 .5-.5-.5M484.5 18.5l-1 4.5 2 1-.5 2.5 .5 3-.5 1.5 1 3 0 1.5-1.5 1.5 1.5 2.5-1 1.5 0 1-1 1.5 0 1-1 .5 0 1.5-.5 1 0 .5-1 2 .5 1.5-1.5 .5 .5 1.5-3 3.5 0 .5 1 .5-.5 1-1.5-.5 0 .5-1.5 3 1 1-.5 2-1 .5-.5 1.5-1.5 0-2.5 2.5-3.5 2-2 2-2.5 0-1 1-1 0-1 1-.5 0-.5-1-1 1.5-1.5-.5-3.5 2 0 1.5-.5 0-2.5 0-1-1-.5 .5-.5 1-.5 0-.5-1-1-.5-1 2-1-1.5-2 1-.5-.5-.5-1-1 1.5-.5-.5-1.5-.5-1 0-.5-1 .5-.5-.5-.5-.5 0-.5 2-.5 .5-1 0-1-1-2 1.5 0-.5 1.5-2-2.5 0 .5 .5 0 1-.5 0-1 0-2.5-2-2.5-.5-1 .5-1-.5 .5-1 0-1-3-.5-2.5-2.5-1 0-.5 1-.5 0-.5-1.5-1.5 0-3-1.5-.5-1 .5-1-.5-.5-2.5-2-.5-1 1-.5-1-1.5-.5-1-.5 1-.5-.5 0-2-1-1 0-.5-1-1.5 0-2-2-2 .5-.5-.5-1 0-2.5-1.5-.5 0-.5 .5-.5-1-1.5 0-1.5 0-1.5-1.5-1 .5-.5-1-1 0-3 1-1-.5-2 .5-2.5-.5-1 1-3-1-2 1.5-3.5 0-1.5 .5-1.5M396.5 32.5l-1 0 .5-1 .5 1M484.5 41l-.5 0 .5 0M405.5 59h.5M465.5 71.5h.5M460.5 73l-.5 0 .5 0M441 75.5l.5-.5-.5-1-.5 0 0 1 .5 .5M421 75.5l-1-.5 1-.5 0 .5 0 .5M438 76l-1 0 1 0M443.5 76h.5M440.5 82l-1.5-1 1-1.5 .5 0 1 1.5-1 1M439 82l-1 0 0-.5 1 0 0 .5M444.5 82h.5" stroke="#ffa50a" stroke-width="1.10" fill="none" stroke-linejoin="round" stroke-linecap="round"/><path d="M468 18.5l0 1 .5 .5-.5 1.5 1 1 0 3.5 .5 2.5 0 4 0 5.5 .5 1.5-.5 .5-.5 1.5-2 2-.5 3-1.5 1-2.5 4-1.5 .5 0 1.5-2.5 1.5-1 0-.5 1.5-3.5 1.5-1.5 0-1 1 0 1.5 0 .5-2-.5-.5 .5-1.5 .5-2 0-2 .5-1.5 1-.5 2-.5-1.5 .5-.5-1.5-1-3-1-.5 .5 .5 .5-.5 .5-.5 0-1-1-1 .5 0-1-1.5-1.5-1.5 1-1-2-3.5-1-2.5-3-2-1.5-1 .5 .5-1.5-4-3 0-2-1.5-.5-.5-1.5 0-1-1-2 0-1-.5-.5 0-1-1-3 0-2.5-.5-.5 1-3.5-.5-3 1-3 .5-4.5 .5-1M441 61l0-.5 0 .5" stroke="#ffffff" stroke-width="1.00" fill="none" stroke-linejoin="round" stroke-linecap="round"/><path d="M456.5 18.5l2.5 5.5 1 6-1 7.5-4 6.5-1.5 .5-1 1.5-1 1-1.5 .5-3 2-2-.5-.5 1-3 1-.5-1-1.5-.5-1.5 1-1.5-1.5-1 .5-2-1-5.5-4-2.5-3.5-2.5-5-.5-7 1-6 2-4.5" stroke="#ff1010" stroke-width="1.15" fill="none" stroke-linejoin="round" stroke-linecap="round"/><path d="M450.5 18.5l2 3 1 2.5-1 5.5-1 2.5-2 2-3 2.5-2.5 0-1 .5-2.5 0-3 0-3-1-3.5-3.5-.5-2-1.5-6.5 0-1.5 2.5-4" stroke="#0010ff" stroke-width="1.15" fill="none" stroke-linejoin="round" stroke-linecap="round"/><path d="M446 18.5l-1 2.5-2 1-2 .5-.5 1-1-1.5-2 0-1-2 0-1.5" stroke="#c09aa8" stroke-width="0.60" fill="none" stroke-linejoin="round" stroke-linecap="round"/><path d="M448 18.5l2 5.5-1 2.5-2.5 2-3 1-2-.5-1 .5-6-1-1.5-2-1-3 2-5" stroke="#8c1496" stroke-width="1.10" fill="none" stroke-linejoin="round" stroke-linecap="round"/></g><rect x="383.00" y="18.40" width="116.20" height="96.90" fill="none" stroke="#222" stroke-opacity="0.55" stroke-width="0.5"/><path d="M383.00 115.30v2M402.37 115.30v2M421.73 115.30v2M441.10 115.30v2M460.47 115.30v2M479.83 115.30v2M499.20 115.30v2M383.00 18.40h-2M383.00 37.78h-2M383.00 57.16h-2M383.00 76.54h-2M383.00 95.92h-2M383.00 115.30h-2" stroke="#333" stroke-width="0.5" fill="none"/><text x="383.00" y="123.40" font-size="6.20" text-anchor="middle" fill="#000">−3</text><text x="402.37" y="123.40" font-size="6.20" text-anchor="middle" fill="#000">−2</text><text x="421.73" y="123.40" font-size="6.20" text-anchor="middle" fill="#000">−1</text><text x="441.10" y="123.40" font-size="6.20" text-anchor="middle" fill="#000">0</text><text x="460.47" y="123.40" font-size="6.20" text-anchor="middle" fill="#000">1</text><text x="479.83" y="123.40" font-size="6.20" text-anchor="middle" fill="#000">2</text><text x="499.20" y="123.40" font-size="6.20" text-anchor="middle" fill="#000">3</text><text x="441.10" y="129.40" font-size="6.30" text-anchor="middle" fill="#000">y (mm)</text><text x="441.10" y="16.80" font-size="6.40" text-anchor="middle" fill="#000">D=0.75mm</text><g clip-path="url(#cp4)"><rect x="504" y="19" width="117" height="1" fill="url(#g393)"/><rect x="504" y="20" width="117" height="1" fill="url(#g394)"/><rect x="504" y="21" width="117" height="1" fill="url(#g395)"/><rect x="504" y="22" width="117" height="1" fill="url(#g396)"/><rect x="504" y="23" width="117" height="1" fill="url(#g397)"/><rect x="504" y="24" width="117" height="1" fill="url(#g398)"/><rect x="504" y="25" width="117" height="1" fill="url(#g399)"/><rect x="504" y="26" width="117" height="1" fill="url(#g400)"/><rect x="504" y="27" width="117" height="1" fill="url(#g401)"/><rect x="504" y="28" width="117" height="1" fill="url(#g402)"/><rect x="504" y="29" width="117" height="1" fill="url(#g403)"/><rect x="504" y="30" width="117" height="1" fill="url(#g404)"/><rect x="504" y="31" width="117" height="1" fill="url(#g405)"/><rect x="504" y="32" width="117" height="1" fill="url(#g406)"/><rect x="504" y="33" width="117" height="1" fill="url(#g407)"/><rect x="504" y="34" width="117" height="1" fill="url(#g408)"/><rect x="504" y="35" width="117" height="1" fill="url(#g409)"/><rect x="504" y="36" width="117" height="1" fill="url(#g410)"/><rect x="504" y="37" width="117" height="1" fill="url(#g411)"/><rect x="504" y="38" width="117" height="1" fill="url(#g412)"/><rect x="504" y="39" width="117" height="1" fill="url(#g413)"/><rect x="504" y="40" width="117" height="1" fill="url(#g414)"/><rect x="504" y="41" width="117" height="1" fill="url(#g415)"/><rect x="504" y="42" width="117" height="1" fill="url(#g416)"/><rect x="504" y="43" width="117" height="1" fill="url(#g417)"/><rect x="504" y="44" width="117" height="1" fill="url(#g418)"/><rect x="504" y="45" width="117" height="1" fill="url(#g419)"/><rect x="504" y="46" width="117" height="1" fill="url(#g420)"/><rect x="504" y="47" width="117" height="1" fill="url(#g421)"/><rect x="504" y="48" width="117" height="1" fill="url(#g422)"/><rect x="504" y="49" width="117" height="1" fill="url(#g423)"/><rect x="504" y="50" width="117" height="1" fill="url(#g424)"/><rect x="504" y="51" width="117" height="1" fill="url(#g425)"/><rect x="504" y="52" width="117" height="1" fill="url(#g426)"/><rect x="504" y="53" width="117" height="1" fill="url(#g427)"/><rect x="504" y="54" width="117" height="1" fill="url(#g428)"/><rect x="504" y="55" width="117" height="1" fill="url(#g429)"/><rect x="504" y="56" width="117" height="1" fill="url(#g430)"/><rect x="504" y="57" width="117" height="1" fill="url(#g431)"/><rect x="504" y="58" width="117" height="1" fill="url(#g432)"/><rect x="504" y="59" width="117" height="1" fill="url(#g433)"/><rect x="504" y="60" width="117" height="1" fill="url(#g434)"/><rect x="504" y="61" width="117" height="1" fill="url(#g435)"/><rect x="504" y="62" width="117" height="1" fill="url(#g436)"/><rect x="504" y="63" width="117" height="1" fill="url(#g437)"/><rect x="504" y="64" width="117" height="1" fill="url(#g438)"/><rect x="504" y="65" width="117" height="1" fill="url(#g439)"/><rect x="504" y="66" width="117" height="1" fill="url(#g440)"/><rect x="504" y="67" width="117" height="1" fill="url(#g441)"/><rect x="504" y="68" width="117" height="1" fill="url(#g442)"/><rect x="504" y="69" width="117" height="1" fill="url(#g443)"/><rect x="504" y="70" width="117" height="1" fill="url(#g444)"/><rect x="504" y="71" width="117" height="1" fill="url(#g445)"/><rect x="504" y="72" width="117" height="1" fill="url(#g446)"/><rect x="504" y="73" width="117" height="1" fill="url(#g447)"/><rect x="504" y="74" width="117" height="1" fill="url(#g448)"/><rect x="504" y="75" width="117" height="1" fill="url(#g449)"/><rect x="504" y="76" width="117" height="1" fill="url(#g450)"/><rect x="504" y="77" width="117" height="1" fill="url(#g451)"/><rect x="504" y="78" width="117" height="1" fill="url(#g452)"/><rect x="504" y="79" width="117" height="1" fill="url(#g453)"/><rect x="504" y="80" width="117" height="1" fill="url(#g454)"/><rect x="504" y="81" width="117" height="1" fill="url(#g455)"/><rect x="504" y="82" width="117" height="1" fill="url(#g456)"/><rect x="504" y="83" width="117" height="1" fill="url(#g457)"/><rect x="504" y="84" width="117" height="1" fill="url(#g458)"/><rect x="504" y="85" width="117" height="1" fill="url(#g459)"/><rect x="504" y="86" width="117" height="1" fill="url(#g460)"/><rect x="504" y="87" width="117" height="1" fill="url(#g461)"/><rect x="504" y="88" width="117" height="1" fill="url(#g462)"/><rect x="504" y="89" width="117" height="1" fill="url(#g463)"/><rect x="504" y="90" width="117" height="1" fill="url(#g464)"/><rect x="504" y="91" width="117" height="1" fill="url(#g465)"/><rect x="504" y="92" width="117" height="1" fill="url(#g466)"/><rect x="504" y="93" width="117" height="1" fill="url(#g467)"/><rect x="504" y="94" width="117" height="1" fill="url(#g468)"/><rect x="504" y="95" width="117" height="1" fill="url(#g469)"/><rect x="504" y="96" width="117" height="1" fill="url(#g470)"/><rect x="504" y="97" width="117" height="1" fill="url(#g471)"/><rect x="504" y="98" width="117" height="1" fill="url(#g472)"/><rect x="504" y="99" width="117" height="1" fill="url(#g473)"/><rect x="504" y="100" width="117" height="1" fill="url(#g474)"/><rect x="504" y="101" width="117" height="1" fill="url(#g475)"/><rect x="504" y="102" width="117" height="1" fill="url(#g476)"/><rect x="504" y="103" width="117" height="1" fill="url(#g477)"/><rect x="504" y="104" width="117" height="1" fill="url(#g478)"/><rect x="504" y="105" width="117" height="1" fill="url(#g479)"/><rect x="504" y="106" width="117" height="1" fill="url(#g480)"/><rect x="504" y="107" width="117" height="1" fill="url(#g481)"/><rect x="504" y="108" width="117" height="1" fill="url(#g482)"/><rect x="504" y="109" width="117" height="1" fill="url(#g483)"/><rect x="504" y="110" width="117" height="1" fill="url(#g484)"/><rect x="504" y="111" width="117" height="1" fill="url(#g485)"/><rect x="504" y="112" width="117" height="1" fill="url(#g486)"/><rect x="504" y="113" width="117" height="1" fill="url(#g487)"/><rect x="504" y="114" width="117" height="1" fill="url(#g488)"/><rect x="504" y="115" width="117" height="1" fill="url(#g489)"/><path d="M621 81l-1.5-.5-1 1.5-.5 2-1 0-.5 2.5-1 1 .5 1-3 2-.5 1-2 .5-.5 2.5-1 0 .5-1.5-1-.5-1.5 .5 0 .5 1.5 1-1.5 1.5-1 .5-1 1-.5 .5-1 1.5-.5 3-.5-.5 0-3 .5-.5 0-.5-.5-1-1.5 0 .5 1.5 0 .5-1.5 1.5-2 1-1-.5-1 .5-.5 3-1.5 0-1-1.5-1 1-1.5-.5-1.5 4.5 0-1-1-1 0-.5-1-1-.5 .5-.5 1.5-1-1-3 .5-1.5 0-.5 1 1 2.5-.5 .5-1 .5-1-2-.5 0-1 .5-1 0-1 1 1 1-1.5 1-1 .5-.5-.5-1-1 1-.5 .5 1 1-.5 0-3-1 .5 0 1-1 0-6.5-2.5-4.5 2 0 2-.5 0-.5 1.5-1.5 0-.5-2 .5-.5 .5 0 1-.5-1.5-1.5-1 .5-.5-.5-2 1 2 1-3 .5-.5 .5 1.5 .5 0 .5-.5 2-.5 .5-2.5 0 0-.5 0-.5 .5 0 1-.5 0-1.5-1.5-1-1 1.5-.5-1.5-2-.5 0-1 1-.5 .5 1 .5-.5 1-1-.5-.5-1 1-.5-1-1.5 0-1 .5 .5 1-1-.5-2 .5 0-1-1-.5-.5-.5 .5-3-1 .5 0 2-1.5-.5-1-1-2 2.5-.5-.5 .5-1 0-.5-2-1.5 .5-1.5-.5 .5-1.5 1.5-2 .5-.5-.5 .5-.5-.5-1-2-.5-.5 1-.5 0 0-1-.5 0-1-1 1.5-1.5-.5-.5-1.5 0 0 1-1 .5-.5-2-1.5-.5-1 .5-.5-.5-2.5 .5 0-.5 1-1.5-1.5-1.5-.5 0-.5 .5-.5-.5 0-1 1-1.5-2 0-.5 .5-.5 0 0-2-.5-1-.5 0-.5 2-1.5-.5 0-3-2-1-1-1.5-2.5 .5-1-1.5 0-1.5 1 0 1 1.5 1-.5-.5-1.5-1-.5-.5-.5-1.5 .5 0-1 0-.5-.5-.5-1 .5M621 83l-1.5 1-.5-.5 2-1.5M618.5 84.5h.5M617.5 87l-.5-.5 1-.5 .5 .5-1 .5M614.5 88l1-.5-1-1-.5 1.5 .5 0M610 91h.5M515 94.5l-1.5 0 1.5 0M523 96l-1.5-.5 .5 1 1-.5M608.5 97l-1 .5 0-1 0-.5 1-1 .5 1-.5 1M562 96h.5M611 96.5l-.5-.5 0-.5 1 .5-.5 .5M515.5 97.5h.5M606 98.5l0-1 0 1M599 99l0-.5-.5 .5 .5 0M517 100.5l-.5-.5 .5 0 0 .5M525 102l-1.5 0 .5-2.5 .5 .5 .5 2M531.5 100l-.5 0 0 .5 .5-.5M595 100l-.5 0 .5 0M605 100.5l-.5 0-.5-.5 .5-.5 .5 1M534 101.5h.5M593.5 102.5l.5-.5-.5-.5 0 1M599 102.5l-1-.5 1-.5 .5 .5-.5 .5M525.5 103h.5M527 103.5l.5-.5-.5 .5M562.5 104.5l0-1 1-.5-1-.5-1 .5-.5 1 1 1 .5-.5M539 104l-1 0 1 0M592 106l-.5-.5 .5-1 0 1 0 .5M548.5 106.5l0-.5-.5-.5-.5 .5 .5 1 .5-.5M573.5 107l-1.5-.5 0 .5 1 .5 .5-.5M546 107h.5M562 107l-1-.5-.5 .5 1.5 0M592 107h.5M536.5 108.5l-1.5-.5 .5-.5 1 0 0 1M565.5 110l-1 .5 0-.5 1-1.5 .5-.5 1 1 0 .5-1.5 .5M563 112.5l-1-1 1-2 1.5 1 0 1-1.5 1M569 110l-1 0 1 0M585 110l0-.5 0 .5M569.5 112l-1.5 .5-.5-1 1.5 0 .5-1 .5 1-.5 .5M579 111l0-.5 0 .5M566 115l-1.5-3 1-.5 1 0 0 .5 0 2 0 1M577 112.5l-.5 0-.5-1 1 0 0 1M544 113l-.5 0 .5-1 0 1M558 113l-.5 .5-.5-.5 1.5 0-.5 0M575 113l0-.5 0 .5M561.5 115l.5-1.5 2 .5 0 1M563.5 115l-1-.5 .5 .5M551 115h.5" stroke="#f8b4d4" stroke-width="1.05" fill="none" stroke-linejoin="round" stroke-linecap="round"/><path d="M605.5 19.5l1 1-.5 1 1 1-1 0 0 1 .5 .5-.5 1 2 1.5-.5 1-.5 0 .5 .5-1 1 .5 1.5 .5-.5 .5 1-.5 1.5 .5 .5-1 2-.5 3 1 2.5-1 1 0 1.5-1.5 1 .5 3-1.5 1 .5 2-1.5 1 0 2-2.5 2 1 .5-2 1.5-.5 3.5-1.5 1.5-1.5 3.5-1.5-.5-.5 2.5-.5 .5-1.5 0 0 .5 0 .5-2.5 0-.5 1-3.5 1-2.5 1.5-1-.5-.5 .5 .5 1.5-2 1-.5 0-.5-1-.5 1-2 .5-.5 1-1 0-.5 0 1.5-1.5-1-1-1 1.5-3.5 2-.5 0-.5-1.5-1 0-.5 .5 .5 1-2 1-.5-.5 .5-.5-.5-.5-1 0-.5 .5-2 0-1 .5-.5-.5-.5-2-2.5 1.5-2 0-1-1-1 1-2-1-2.5 0-1.5 1 0-.5 .5-.5 0-.5-.5-.5-1 .5-.5-1.5-2.5-.5 0-1-1.5 1-1.5-1.5-1 1.5-1-1 .5-1-1.5-1-4-1-2-2.5-1-.5-2-2 .5-.5-.5-.5-1.5-1 .5-1-2-3 .5-.5 0-.5-2-.5 .5-1.5-1.5 0 .5-1.5-.5-1 0-1-3-4 0-1.5-1-1 .5-1.5-.5-1-.5-3-.5 0-.5-1 .5-.5-.5-1 1-1.5-.5-1 .5-.5 0-1-1-.5 .5-2-.5-.5 .5-.5 0-1-.5-1.5 1-2-.5-2 1-1-.5-2 1-1M606 32h.5M528.5 60h.5M564 72.5h.5M562 75.5h.5M567.5 76.5h.5M561 80l-.5-.5 .5-.5 .5 .5-.5 .5M562.5 80.5h.5M562.5 83.5l.5 0-.5 0M562 89.5l0-1 0 1" stroke="#ffa50a" stroke-width="1.10" fill="none" stroke-linejoin="round" stroke-linecap="round"/><path d="M589.5 19.5l.5 1 1.5 7-.5 1.5 .5 1.5 0 4.5-.5 1 .5 1.5-1 1 1.5 .5-1.5 1 0 2-1 1-1.5 4-1.5 2-.5 0-2.5 2-.5 1.5-1 .5 0 1-1.5 0-1 1-.5 1.5-3 1-1 1.5-2.5 .5-1 1.5-1.5 0-1-1-3 2-1-1-.5 1 .5 .5-1 .5-1.5-1-.5-1-.5 1 .5 .5-1 .5-1.5-.5 1-.5 0-1-2.5 2-.5-2-1.5-.5-2 0-4.5-3.5-1.5 0-2.5-2.5-1.5 0-4.5-5 0-1-1.5-.5 0-1-1-1-1.5-3.5-1-1 0-1.5-.5-1 0-4.5-.5-1.5 1-10.5 1.5-2 0-1M539.5 50l.5 0-.5 0M569.5 61.5l-1.5 0 1.5-.5 0 .5M562 66l0-.5 .5 0 0 .5-.5 0M562 71h.5" stroke="#ffffff" stroke-width="1.00" fill="none" stroke-linejoin="round" stroke-linecap="round"/><path d="M578.5 19.5l2.5 4 1.5 5.5-.5 6.5-1.5 4.5-1.5 2-4 3-4 2.5-3 0-2 2-.5-1-1.5 .5-1-1-.5-1-.5 .5 1 1.5-1 1.5-3-3-1 .5-3.5-1-4-2-4.5-3.5-1.5-2.5-1.5-5 0-6 1-3.5 2.5-5M563 51.5l-.5 0 0-1 .5 1" stroke="#ff1010" stroke-width="1.15" fill="none" stroke-linejoin="round" stroke-linecap="round"/><path d="M574 19.5l1.5 3 .5 2.5-1 3-2.5 5-2.5 2-2 0-2 1.5-1-.5-2.5 0-1.5 .5-.5-.5-5-1-2.5-2-2-2.5-1.5-6 .5-2 1.5-3" stroke="#0010ff" stroke-width="1.15" fill="none" stroke-linejoin="round" stroke-linecap="round"/><path d="M562.5 19.5l-.5 0M557 20.5h.5M566 21l-1-.5 1-.5 .5 .5-.5 .5M569 20.5l-.5 0 .5 0" stroke="#c09aa8" stroke-width="0.60" fill="none" stroke-linejoin="round" stroke-linecap="round"/><path d="M572 19.5l1 3.5-1 1.5-4 2-3 .5-5.5 0-5.5-2-1.5-2 1-3.5" stroke="#8c1496" stroke-width="1.10" fill="none" stroke-linejoin="round" stroke-linecap="round"/></g><rect x="504.40" y="19.40" width="116.50" height="96.10" fill="none" stroke="#222" stroke-opacity="0.55" stroke-width="0.5"/><path d="M504.40 115.50v2M523.82 115.50v2M543.23 115.50v2M562.65 115.50v2M582.07 115.50v2M601.48 115.50v2M620.90 115.50v2M504.40 19.40h-2M504.40 38.62h-2M504.40 57.84h-2M504.40 77.06h-2M504.40 96.28h-2M504.40 115.50h-2" stroke="#333" stroke-width="0.5" fill="none"/><text x="504.40" y="123.60" font-size="6.20" text-anchor="middle" fill="#000">−3</text><text x="523.82" y="123.60" font-size="6.20" text-anchor="middle" fill="#000">−2</text><text x="543.23" y="123.60" font-size="6.20" text-anchor="middle" fill="#000">−1</text><text x="562.65" y="123.60" font-size="6.20" text-anchor="middle" fill="#000">0</text><text x="582.07" y="123.60" font-size="6.20" text-anchor="middle" fill="#000">1</text><text x="601.48" y="123.60" font-size="6.20" text-anchor="middle" fill="#000">2</text><text x="620.90" y="123.60" font-size="6.20" text-anchor="middle" fill="#000">3</text><text x="562.65" y="129.60" font-size="6.30" text-anchor="middle" fill="#000">y (mm)</text><text x="562.65" y="16.80" font-size="6.40" text-anchor="middle" fill="#000">D=1mm</text><text x="2.60" y="9.50" font-size="11.20" text-anchor="start" fill="#000">A</text><rect x="632.20" y="4.00" width="7.00" height="135.00" fill="url(#cbg)" stroke="#333" stroke-opacity="0.6" stroke-width="0.5"/><rect x="632.20" y="115.45" width="7.00" height="1.1" fill="#f8b4d4"/><rect x="632.20" y="99.60" width="7.00" height="1.1" fill="#ffa50a"/><rect x="632.20" y="87.61" width="7.00" height="1.1" fill="#ffffff"/><rect x="632.20" y="75.62" width="7.00" height="1.1" fill="#ff1010"/><rect x="632.20" y="59.77" width="7.00" height="1.1" fill="#0010ff"/><rect x="632.20" y="47.78" width="7.00" height="1.1" fill="#8c1496"/><rect x="632.20" y="35.79" width="7.00" height="1.1" fill="#000000"/><text x="642.80" y="10.80" font-size="6.50" text-anchor="start" fill="#000" font-family="Liberation Serif, serif">1</text><text x="642.80" y="22.79" font-size="6.50" text-anchor="start" fill="#000" font-family="Liberation Serif, serif">0.5</text><text x="642.80" y="38.64" font-size="6.50" text-anchor="start" fill="#000" font-family="Liberation Serif, serif">0.2</text><text x="642.80" y="50.63" font-size="6.50" text-anchor="start" fill="#000" font-family="Liberation Serif, serif">0.1</text><text x="642.80" y="62.62" font-size="6.50" text-anchor="start" fill="#000" font-family="Liberation Serif, serif">0.05</text><text x="642.80" y="78.47" font-size="6.50" text-anchor="start" fill="#000" font-family="Liberation Serif, serif">0.02</text><text x="642.80" y="90.46" font-size="6.50" text-anchor="start" fill="#000" font-family="Liberation Serif, serif">0.01</text><text x="642.80" y="102.45" font-size="6.50" text-anchor="start" fill="#000" font-family="Liberation Serif, serif">0.005</text><text x="642.80" y="118.30" font-size="6.50" text-anchor="start" fill="#000" font-family="Liberation Serif, serif">0.002</text><text x="642.80" y="130.29" font-size="6.50" text-anchor="start" fill="#000" font-family="Liberation Serif, serif">0.001</text><path d="M639.20 8.50h2M639.20 20.49h2M639.20 36.34h2M639.20 48.33h2M639.20 60.32h2M639.20 76.17h2M639.20 88.16h2M639.20 100.15h2M639.20 116.00h2M639.20 127.99h2" stroke="#333" stroke-width="0.5"/><defs><clipPath id="cpb"><rect x="72" y="148.6" width="192.5" height="192"/></clipPath><clipPath id="cpc"><rect x="369.3" y="147.6" width="190.7" height="189"/></clipPath><clipPath id="cpi"><rect x="139.2" y="199.2" width="106.4" height="104.7"/></clipPath></defs><g clip-path="url(#cpb)"><path d="M72.0 166.8 73.0 164.1 73.9 163.6 74.9 164.1 75.8 165.0 76.8 168.6 77.8 171.4 78.7 174.6 79.7 181.1 80.7 186.1 81.6 190.7 82.6 197.2 83.5 204.2 84.5 212.1 85.5 218.3 86.4 224.6 87.4 233.1 88.4 238.8 89.3 246.1 90.3 251.2 91.2 256.8 92.2 260.5 93.2 266.1 94.1 269.7 95.1 274.4 96.1 279.0 97.0 284.6 98.0 287.1 99.0 290.3 99.9 293.4 100.9 297.2 101.8 299.2 102.8 301.8 103.8 303.8 104.7 304.8 105.7 307.5 106.7 308.8 107.6 309.9 108.6 312.1 109.5 313.3 110.5 314.5 111.5 315.7 112.4 317.4 113.4 317.9 114.4 318.3 115.3 320.3 116.3 320.2 117.2 321.2 118.2 322.2 119.2 321.9 120.1 323.0 121.1 324.3 122.0 324.5 123.0 324.9 124.0 325.8 124.9 326.1 125.9 326.9 126.9 327.2 127.8 327.5 128.8 328.7 129.8 329.0 130.7 329.6 131.7 330.0 132.6 330.8 133.6 331.0 134.6 331.3 135.5 331.4 136.5 331.7 137.5 332.7 138.4 332.9 139.4 332.8 140.3 333.7 141.3 333.6 142.3 333.8 143.2 333.8 144.2 334.1 145.2 334.6 146.1 334.8 147.1 335.0 148.0 334.8 149.0 335.4 150.0 335.6 150.9 335.6 151.9 335.9 152.8 336.0 153.8 336.3 154.8 336.3 155.7 336.5 156.7 336.3 157.7 336.5 158.6 336.7 159.6 336.7 160.6 336.9 161.5 336.8 162.5 337.0 163.4 337.0 164.4 337.3 165.4 337.1 166.3 337.5 167.3 337.6 168.2 337.4 169.2 337.5 170.2 337.4 171.1 337.2 172.1 337.7 173.1 337.7 174.0 337.6 175.0 337.7 175.9 337.8 176.9 337.9 177.9 337.8 178.8 337.9 179.8 338.2 180.8 338.1 181.7 338.1 182.7 338.3 183.7 338.2 184.6 338.4 185.6 338.2 186.5 338.3 187.5 338.4 188.5 338.5 189.4 338.5 190.4 338.7 191.3 338.7 192.3 338.5 193.3 338.9 194.2 338.5 195.2 338.9 196.2 338.6 197.1 338.8 198.1 338.6 199.1 338.7 200.0 339.0 201.0 338.7 201.9 338.7 202.9 338.9 203.9 338.9 204.8 338.9 205.8 339.0 206.8 338.8 207.7 339.0 208.7 339.0 209.6 339.1 210.6 339.1 211.6 339.2 212.5 339.0 213.5 339.1 214.4 339.0 215.4 339.2 216.4 339.3 217.3 339.2 218.3 339.3 219.3 339.3 220.2 339.3 221.2 339.3 222.2 339.5 223.1 339.4 224.1 339.2 225.0 339.4 226.0 339.5 227.0 339.4 227.9 339.3 228.9 339.6 229.9 339.5 230.8 339.5 231.8 339.7 232.7 339.4 233.7 339.5 234.7 339.5 235.6 339.6 236.6 339.5 237.6 339.6 238.5 339.6 239.5 339.7 240.4 339.7 241.4 339.5 242.4 339.7 243.3 339.6 244.3 339.7 245.2 339.7 246.2 339.7 247.2 339.6 248.1 339.7 249.1 339.7 250.1 339.7 251.0 339.6 252.0 339.7 252.9 339.7 253.9 339.8 254.9 339.9 255.8 339.7 256.8 339.7 257.8 339.8 258.7 339.8 259.7 339.8 260.7 339.8 261.6 339.8 262.6 339.9 263.5 339.7 264.5 340.0" stroke="#1f77b4" stroke-width="1.00" fill="none" stroke-linejoin="round"/><path d="M72.0 167.8 73.0 165.5 73.9 163.7 74.9 162.2 75.8 164.1 76.8 169.9 77.8 174.5 78.7 176.2 79.7 182.6 80.7 186.4 81.6 191.2 82.6 200.0 83.5 207.2 84.5 211.8 85.5 219.0 86.4 226.2 87.4 232.7 88.4 239.9 89.3 246.4 90.3 250.9 91.2 256.7 92.2 262.1 93.2 265.4 94.1 270.5 95.1 274.8 96.1 280.0 97.0 283.8 98.0 287.8 99.0 291.2 99.9 293.7 100.9 297.2 101.8 299.1 102.8 301.4 103.8 302.6 104.7 306.2 105.7 306.9 106.7 309.0 107.6 310.5 108.6 312.6 109.5 313.6 110.5 314.3 111.5 315.9 112.4 317.0 113.4 318.1 114.4 318.5 115.3 319.8 116.3 321.5 117.2 321.6 118.2 322.8 119.2 323.9 120.1 323.6 121.1 323.5 122.0 324.6 123.0 325.6 124.0 326.1 124.9 326.0 125.9 326.9 126.9 327.5 127.8 328.0 128.8 328.5 129.8 328.8 130.7 329.4 131.7 330.0 132.6 330.7 133.6 330.8 134.6 331.5 135.5 331.4 136.5 332.3 137.5 332.4 138.4 332.7 139.4 333.3 140.3 332.9 141.3 333.2 142.3 333.9 143.2 333.9 144.2 334.2 145.2 335.0 146.1 334.7 147.1 334.9 148.0 335.1 149.0 335.5 150.0 335.6 150.9 335.7 151.9 335.6 152.8 335.9 153.8 336.1 154.8 336.0 155.7 336.5 156.7 336.6 157.7 336.9 158.6 336.4 159.6 336.6 160.6 336.7 161.5 336.8 162.5 337.0 163.4 337.0 164.4 337.1 165.4 337.2 166.3 337.2 167.3 337.0 168.2 337.2 169.2 337.4 170.2 337.5 171.1 337.6 172.1 337.3 173.1 337.5 174.0 337.7 175.0 337.8 175.9 338.0 176.9 337.9 177.9 337.8 178.8 338.0 179.8 338.1 180.8 338.1 181.7 338.1 182.7 338.4 183.7 338.3 184.6 338.4 185.6 338.2 186.5 338.5 187.5 338.3 188.5 338.2 189.4 338.5 190.4 338.6 191.3 338.5 192.3 338.6 193.3 338.7 194.2 338.6 195.2 338.4 196.2 338.7 197.1 338.7 198.1 338.9 199.1 338.7 200.0 338.9 201.0 338.9 201.9 338.7 202.9 339.0 203.9 338.8 204.8 338.7 205.8 338.9 206.8 338.9 207.7 338.8 208.7 339.0 209.6 339.1 210.6 339.2 211.6 339.1 212.5 338.9 213.5 339.0 214.4 339.2 215.4 339.3 216.4 339.2 217.3 339.2 218.3 339.3 219.3 339.2 220.2 339.3 221.2 339.3 222.2 339.3 223.1 339.3 224.1 339.4 225.0 339.3 226.0 339.2 227.0 339.4 227.9 339.4 228.9 339.6 229.9 339.4 230.8 339.7 231.8 339.6 232.7 339.4 233.7 339.5 234.7 339.6 235.6 339.7 236.6 339.6 237.6 339.6 238.5 339.5 239.5 339.4 240.4 339.6 241.4 339.7 242.4 339.7 243.3 339.6 244.3 339.7 245.2 339.8 246.2 339.7 247.2 339.8 248.1 339.6 249.1 339.6 250.1 339.6 251.0 339.8 252.0 339.7 252.9 339.8 253.9 339.8 254.9 339.8 255.8 339.9 256.8 339.9 257.8 339.7 258.7 339.8 259.7 339.8 260.7 339.8 261.6 340.0 262.6 339.9 263.5 339.8 264.5 339.8" stroke="#ff7f0e" stroke-width="1.00" fill="none" stroke-linejoin="round"/><path d="M72.0 174.3 73.0 174.9 73.9 178.9 74.9 184.2 75.8 188.7 76.8 193.3 77.8 201.3 78.7 211.8 79.7 217.2 80.7 226.2 81.6 233.5 82.6 242.3 83.5 248.8 84.5 255.2 85.5 257.4 86.4 264.2 87.4 267.4 88.4 273.2 89.3 276.5 90.3 281.5 91.2 284.1 92.2 286.4 93.2 290.8 94.1 292.2 95.1 295.3 96.1 298.5 97.0 300.4 98.0 302.4 99.0 304.2 99.9 306.2 100.9 308.1 101.8 309.4 102.8 311.2 103.8 312.6 104.7 313.3 105.7 314.0 106.7 316.1 107.6 316.4 108.6 317.6 109.5 318.6 110.5 318.7 111.5 320.1 112.4 320.1 113.4 321.7 114.4 321.9 115.3 322.8 116.3 323.7 117.2 323.8 118.2 324.7 119.2 325.0 120.1 325.7 121.1 326.6 122.0 326.8 123.0 327.2 124.0 327.4 124.9 328.4 125.9 328.5 126.9 329.4 127.8 329.1 128.8 330.0 129.8 330.5 130.7 330.4 131.7 330.4 132.6 331.4 133.6 331.6 134.6 331.8 135.5 332.2 136.5 332.1 137.5 332.7 138.4 332.9 139.4 332.9 140.3 333.4 141.3 333.4 142.3 333.9 143.2 334.2 144.2 334.6 145.2 334.0 146.1 334.7 147.1 334.8 148.0 335.1 149.0 335.2 150.0 335.4 150.9 335.3 151.9 336.0 152.8 336.2 153.8 336.3 154.8 336.5 155.7 336.2 156.7 336.3 157.7 336.8 158.6 336.9 159.6 336.8 160.6 336.6 161.5 337.4 162.5 336.9 163.4 337.2 164.4 336.9 165.4 337.3 166.3 337.2 167.3 337.5 168.2 337.5 169.2 337.2 170.2 337.3 171.1 337.5 172.1 337.7 173.1 337.9 174.0 337.7 175.0 337.7 175.9 337.8 176.9 337.9 177.9 338.1 178.8 338.0 179.8 338.0 180.8 337.9 181.7 337.9 182.7 338.2 183.7 338.3 184.6 338.3 185.6 338.4 186.5 338.5 187.5 338.4 188.5 338.6 189.4 338.4 190.4 338.5 191.3 338.5 192.3 338.6 193.3 338.7 194.2 338.7 195.2 338.7 196.2 338.7 197.1 338.7 198.1 338.7 199.1 338.9 200.0 338.8 201.0 339.0 201.9 338.9 202.9 338.9 203.9 339.1 204.8 338.9 205.8 338.9 206.8 339.0 207.7 339.0 208.7 339.0 209.6 339.1 210.6 339.1 211.6 339.1 212.5 339.1 213.5 339.2 214.4 339.1 215.4 339.2 216.4 339.2 217.3 339.3 218.3 339.2 219.3 339.4 220.2 339.2 221.2 339.3 222.2 339.3 223.1 339.3 224.1 339.4 225.0 339.4 226.0 339.3 227.0 339.4 227.9 339.4 228.9 339.6 229.9 339.4 230.8 339.4 231.8 339.4 232.7 339.5 233.7 339.7 234.7 339.5 235.6 339.6 236.6 339.8 237.6 339.5 238.5 339.7 239.5 339.7 240.4 339.7 241.4 339.5 242.4 339.7 243.3 339.6 244.3 339.5 245.2 339.5 246.2 339.7 247.2 339.7 248.1 339.8 249.1 339.8 250.1 339.7 251.0 339.7 252.0 339.7 252.9 339.7 253.9 339.8 254.9 339.8 255.8 339.7 256.8 339.7 257.8 339.7 258.7 339.8 259.7 339.8 260.7 339.8 261.6 339.9 262.6 340.0 263.5 339.8 264.5 339.9" stroke="#2ca02c" stroke-width="1.00" fill="none" stroke-linejoin="round"/><path d="M72.0 231.7 73.0 238.3 73.9 241.6 74.9 246.1 75.8 250.3 76.8 255.1 77.8 257.1 78.7 259.7 79.7 263.5 80.7 267.7 81.6 270.8 82.6 273.6 83.5 279.3 84.5 280.8 85.5 283.4 86.4 286.3 87.4 288.5 88.4 291.5 89.3 294.5 90.3 296.8 91.2 298.6 92.2 301.3 93.2 303.0 94.1 304.3 95.1 305.4 96.1 308.1 97.0 309.5 98.0 310.7 99.0 311.5 99.9 313.2 100.9 313.7 101.8 315.7 102.8 316.3 103.8 317.2 104.7 317.7 105.7 318.4 106.7 320.1 107.6 320.6 108.6 320.8 109.5 321.8 110.5 322.7 111.5 322.4 112.4 323.2 113.4 323.7 114.4 324.5 115.3 324.5 116.3 325.4 117.2 325.4 118.2 326.5 119.2 326.9 120.1 327.0 121.1 327.7 122.0 327.6 123.0 328.1 124.0 328.8 124.9 328.9 125.9 329.3 126.9 329.3 127.8 330.1 128.8 330.3 129.8 330.1 130.7 330.2 131.7 330.5 132.6 331.3 133.6 331.5 134.6 331.4 135.5 332.1 136.5 332.5 137.5 332.5 138.4 332.7 139.4 333.2 140.3 333.6 141.3 333.8 142.3 333.5 143.2 334.1 144.2 334.2 145.2 334.3 146.1 334.5 147.1 334.9 148.0 334.9 149.0 335.4 150.0 335.5 150.9 335.8 151.9 335.6 152.8 335.9 153.8 336.2 154.8 336.3 155.7 336.4 156.7 336.4 157.7 336.9 158.6 336.9 159.6 336.8 160.6 336.4 161.5 336.8 162.5 337.0 163.4 336.9 164.4 336.8 165.4 337.2 166.3 337.3 167.3 337.1 168.2 337.2 169.2 337.3 170.2 337.5 171.1 337.2 172.1 337.3 173.1 337.5 174.0 337.6 175.0 338.0 175.9 337.7 176.9 337.9 177.9 337.9 178.8 337.9 179.8 338.1 180.8 338.3 181.7 338.1 182.7 338.3 183.7 338.3 184.6 338.4 185.6 338.4 186.5 338.7 187.5 338.2 188.5 338.4 189.4 338.3 190.4 338.3 191.3 338.5 192.3 338.8 193.3 338.7 194.2 338.8 195.2 338.7 196.2 338.7 197.1 338.9 198.1 338.7 199.1 338.9 200.0 338.7 201.0 338.8 201.9 338.9 202.9 338.9 203.9 338.9 204.8 339.0 205.8 339.1 206.8 339.0 207.7 338.8 208.7 338.8 209.6 338.9 210.6 339.0 211.6 339.1 212.5 338.9 213.5 339.1 214.4 339.2 215.4 339.2 216.4 339.2 217.3 339.3 218.3 339.2 219.3 339.4 220.2 339.3 221.2 339.1 222.2 339.3 223.1 339.4 224.1 339.3 225.0 339.3 226.0 339.5 227.0 339.4 227.9 339.4 228.9 339.4 229.9 339.5 230.8 339.3 231.8 339.6 232.7 339.5 233.7 339.6 234.7 339.4 235.6 339.7 236.6 339.6 237.6 339.6 238.5 339.5 239.5 339.5 240.4 339.5 241.4 339.8 242.4 339.6 243.3 339.7 244.3 339.7 245.2 339.6 246.2 339.7 247.2 339.9 248.1 339.7 249.1 339.8 250.1 339.8 251.0 339.7 252.0 339.7 252.9 339.6 253.9 339.8 254.9 339.9 255.8 339.8 256.8 339.9 257.8 339.9 258.7 339.8 259.7 339.9 260.7 340.0 261.6 339.8 262.6 339.9 263.5 339.8 264.5 339.9" stroke="#d62728" stroke-width="1.00" fill="none" stroke-linejoin="round"/><path d="M72.0 270.8 73.0 273.1 73.9 274.1 74.9 276.5 75.8 278.5 76.8 280.4 77.8 283.6 78.7 284.7 79.7 286.7 80.7 288.3 81.6 291.2 82.6 291.5 83.5 294.4 84.5 297.1 85.5 299.2 86.4 300.2 87.4 301.8 88.4 303.8 89.3 305.0 90.3 307.0 91.2 307.9 92.2 309.9 93.2 310.9 94.1 311.6 95.1 312.0 96.1 314.6 97.0 315.3 98.0 316.3 99.0 316.5 99.9 318.1 100.9 318.5 101.8 319.1 102.8 320.1 103.8 320.8 104.7 321.2 105.7 322.4 106.7 322.8 107.6 323.0 108.6 323.3 109.5 324.0 110.5 325.0 111.5 325.0 112.4 325.1 113.4 325.6 114.4 326.2 115.3 326.9 116.3 326.8 117.2 327.5 118.2 328.1 119.2 328.3 120.1 328.0 121.1 328.7 122.0 328.7 123.0 329.5 124.0 329.4 124.9 330.1 125.9 330.2 126.9 329.7 127.8 330.4 128.8 331.0 129.8 331.1 130.7 331.2 131.7 331.2 132.6 331.8 133.6 332.3 134.6 332.1 135.5 332.2 136.5 332.4 137.5 332.3 138.4 332.7 139.4 332.8 140.3 333.5 141.3 333.2 142.3 333.2 143.2 333.7 144.2 334.0 145.2 334.3 146.1 334.2 147.1 334.9 148.0 335.0 149.0 335.1 150.0 335.2 150.9 335.6 151.9 335.7 152.8 336.0 153.8 336.0 154.8 336.2 155.7 336.5 156.7 336.5 157.7 336.4 158.6 336.9 159.6 336.8 160.6 336.8 161.5 337.1 162.5 337.0 163.4 337.2 164.4 336.9 165.4 336.8 166.3 336.9 167.3 337.3 168.2 337.2 169.2 337.4 170.2 337.4 171.1 337.3 172.1 337.7 173.1 337.5 174.0 337.7 175.0 337.5 175.9 337.8 176.9 337.9 177.9 337.9 178.8 337.9 179.8 338.0 180.8 338.0 181.7 338.2 182.7 338.5 183.7 338.1 184.6 338.2 185.6 338.3 186.5 338.4 187.5 338.3 188.5 338.5 189.4 338.6 190.4 338.5 191.3 338.4 192.3 338.7 193.3 338.5 194.2 338.7 195.2 338.8 196.2 338.5 197.1 338.7 198.1 338.9 199.1 338.8 200.0 338.7 201.0 338.7 201.9 338.9 202.9 338.8 203.9 338.8 204.8 339.0 205.8 338.9 206.8 339.0 207.7 339.0 208.7 339.0 209.6 339.0 210.6 339.0 211.6 339.1 212.5 339.1 213.5 339.0 214.4 339.1 215.4 339.1 216.4 339.1 217.3 339.2 218.3 339.0 219.3 339.3 220.2 339.2 221.2 339.3 222.2 339.1 223.1 339.2 224.1 339.6 225.0 339.5 226.0 339.3 227.0 339.3 227.9 339.4 228.9 339.5 229.9 339.4 230.8 339.4 231.8 339.5 232.7 339.4 233.7 339.7 234.7 339.5 235.6 339.6 236.6 339.5 237.6 339.6 238.5 339.7 239.5 339.6 240.4 339.7 241.4 339.7 242.4 339.8 243.3 339.6 244.3 339.6 245.2 339.6 246.2 339.7 247.2 339.6 248.1 339.7 249.1 339.7 250.1 339.7 251.0 339.6 252.0 339.8 252.9 339.8 253.9 339.8 254.9 339.8 255.8 339.8 256.8 339.7 257.8 339.8 258.7 339.8 259.7 339.9 260.7 339.8 261.6 339.8 262.6 339.9 263.5 339.7 264.5 339.8" stroke="#9467bd" stroke-width="1.00" fill="none" stroke-linejoin="round"/></g><rect x="72.00" y="148.60" width="192.50" height="192.00" fill="none" stroke="#8c8c8c" stroke-width="1"/><text x="72.00" y="351.00" font-size="8.60" text-anchor="middle" fill="#000">0</text><text x="110.50" y="351.00" font-size="8.60" text-anchor="middle" fill="#000">1</text><text x="149.00" y="351.00" font-size="8.60" text-anchor="middle" fill="#000">2</text><text x="187.50" y="351.00" font-size="8.60" text-anchor="middle" fill="#000">3</text><text x="226.00" y="351.00" font-size="8.60" text-anchor="middle" fill="#000">4</text><text x="264.50" y="351.00" font-size="8.60" text-anchor="middle" fill="#000">5</text><text x="67.80" y="344.00" font-size="8.60" text-anchor="end" fill="#000">0</text><text x="67.80" y="312.06" font-size="8.60" text-anchor="end" fill="#000">100</text><text x="67.80" y="280.12" font-size="8.60" text-anchor="end" fill="#000">200</text><text x="67.80" y="248.18" font-size="8.60" text-anchor="end" fill="#000">300</text><text x="67.80" y="216.24" font-size="8.60" text-anchor="end" fill="#000">400</text><text x="67.80" y="184.30" font-size="8.60" text-anchor="end" fill="#000">500</text><text x="67.80" y="152.36" font-size="8.60" text-anchor="end" fill="#000">600</text><path d="M72.00 340.60v2.5M110.50 340.60v2.5M149.00 340.60v2.5M187.50 340.60v2.5M226.00 340.60v2.5M264.50 340.60v2.5M72.00 340.60h-2.5M72.00 308.66h-2.5M72.00 276.72h-2.5M72.00 244.78h-2.5M72.00 212.84h-2.5M72.00 180.90h-2.5M72.00 148.96h-2.5" stroke="#555" stroke-width="0.7"/><text x="168.20" y="361.20" font-size="9.10" text-anchor="middle" fill="#000">z (mm)</text><text x="0.00" y="0.00" font-size="9.00" text-anchor="middle" fill="#000" transform="translate(48.8 244) rotate(-90)">Fluence (mW/mm²)</text><text x="168.20" y="145.60" font-size="9.30" text-anchor="middle" fill="#000">Axial profile</text><text x="2.60" y="161.80" font-size="11.50" text-anchor="start" fill="#000">B</text><rect x="75.20" y="151.90" width="102.80" height="28.60" fill="#9a9a9a" fill-opacity="0.8"/><rect x="74.00" y="150.70" width="102.80" height="28.60" fill="#ececec" fill-opacity="0.85" stroke="#c8c8c8" stroke-width="0.6"/><path d="M77.10 156.40H88.50" stroke="#1f77b4" stroke-width="1.10" stroke-opacity="1.00"/><text x="93.50" y="158.78" font-size="6.60" text-anchor="start" fill="#333">D100um</text><path d="M77.10 165.30H88.50" stroke="#ff7f0e" stroke-width="1.10" stroke-opacity="1.00"/><text x="93.50" y="167.68" font-size="6.60" text-anchor="start" fill="#333">D200um</text><path d="M77.10 173.60H88.50" stroke="#2ca02c" stroke-width="1.40" stroke-opacity="0.65"/><text x="93.50" y="175.98" font-size="6.60" text-anchor="start" fill="#333">D500um</text><path d="M129.40 156.40H141.50" stroke="#d62728" stroke-width="1.10" stroke-opacity="1.00"/><text x="145.60" y="158.78" font-size="6.60" text-anchor="start" fill="#333">D750um</text><path d="M129.40 165.30H141.50" stroke="#9467bd" stroke-width="1.10" stroke-opacity="1.00"/><text x="145.60" y="167.68" font-size="6.60" text-anchor="start" fill="#333">D1000um</text><rect x="139.20" y="199.20" width="106.40" height="104.70" fill="#fff"/><g clip-path="url(#cpi)"><path d="M139.2 184.2 139.9 190.4 140.6 199.3 141.3 201.0 142.0 200.7 142.7 204.5 143.5 206.9 144.2 210.3 144.9 217.6 145.6 214.2 146.3 222.7 147.0 215.9 147.7 221.1 148.4 222.6 149.1 222.4 149.8 222.1 150.5 228.7 151.3 230.7 152.0 229.5 152.7 233.4 153.4 230.9 154.1 223.9 154.8 232.8 155.5 228.5 156.2 235.5 156.9 231.4 157.6 234.2 158.4 234.4 159.1 233.6 159.8 231.2 160.5 236.7 161.2 238.0 161.9 242.1 162.6 238.7 163.3 242.0 164.0 240.1 164.7 243.5 165.4 239.6 166.2 250.6 166.9 247.0 167.6 244.8 168.3 249.0 169.0 251.0 169.7 250.5 170.4 254.1 171.1 251.1 171.8 246.0 172.5 250.1 173.2 256.4 174.0 256.5 174.7 256.0 175.4 253.1 176.1 258.2 176.8 258.4 177.5 255.2 178.2 255.8 178.9 259.2 179.6 261.4 180.3 262.9 181.1 261.4 181.8 265.4 182.5 259.0 183.2 262.6 183.9 260.5 184.6 257.8 185.3 259.8 186.0 265.4 186.7 261.3 187.4 261.1 188.1 265.7 188.9 266.5 189.6 265.1 190.3 268.7 191.0 262.5 191.7 271.1 192.4 268.8 193.1 267.4 193.8 267.7 194.5 267.3 195.2 267.5 195.9 268.9 196.7 266.5 197.4 273.6 198.1 269.7 198.8 271.5 199.5 270.2 200.2 270.5 200.9 273.1 201.6 272.9 202.3 270.5 203.0 271.8 203.7 274.1 204.5 269.3 205.2 269.2 205.9 276.7 206.6 273.7 207.3 270.0 208.0 273.5 208.7 274.9 209.4 276.0 210.1 276.9 210.8 276.6 211.6 277.4 212.3 275.4 213.0 277.7 213.7 278.0 214.4 279.6 215.1 277.8 215.8 279.5 216.5 278.5 217.2 276.6 217.9 278.0 218.6 278.0 219.4 278.4 220.1 279.1 220.8 279.6 221.5 280.1 222.2 278.6 222.9 281.8 223.6 278.0 224.3 280.3 225.0 281.8 225.7 281.5 226.4 282.0 227.2 280.8 227.9 282.4 228.6 279.7 229.3 282.9 230.0 285.4 230.7 283.1 231.4 285.3 232.1 282.4 232.8 280.9 233.5 281.7 234.3 284.9 235.0 284.2 235.7 280.5 236.4 282.9 237.1 283.6 237.8 282.2 238.5 280.3 239.2 282.2 239.9 284.0 240.6 283.9 241.3 283.7 242.1 285.6 242.8 286.4 243.5 285.0 244.2 286.5 244.9 285.4 245.6 285.4" stroke="#1f77b4" stroke-width="0.90" fill="none" stroke-linejoin="round"/><path d="M139.2 182.1 139.9 197.1 140.6 197.3 141.3 200.2 142.0 200.7 142.7 201.0 143.5 208.8 144.2 212.2 144.9 217.1 145.6 216.6 146.3 213.5 147.0 216.9 147.7 222.1 148.4 221.5 149.1 221.6 149.8 221.4 150.5 226.0 151.3 226.0 152.0 231.8 152.7 230.6 153.4 222.9 154.1 235.5 154.8 230.7 155.5 229.8 156.2 232.5 156.9 234.7 157.6 233.5 158.4 234.3 159.1 235.5 159.8 241.7 160.5 237.7 161.2 240.8 161.9 240.9 162.6 239.7 163.3 239.6 164.0 239.9 164.7 244.7 165.4 241.8 166.2 242.1 166.9 243.2 167.6 243.5 168.3 248.4 169.0 249.4 169.7 247.6 170.4 254.1 171.1 250.9 171.8 253.5 172.5 253.8 173.2 257.9 174.0 256.5 174.7 255.0 175.4 253.4 176.1 253.8 176.8 256.9 177.5 257.7 178.2 259.8 178.9 257.4 179.6 259.4 180.3 257.9 181.1 255.7 181.8 260.3 182.5 264.1 183.2 263.1 183.9 264.9 184.6 264.7 185.3 259.5 186.0 262.3 186.7 266.6 187.4 262.2 188.1 261.3 188.9 265.2 189.6 266.3 190.3 265.9 191.0 265.0 191.7 264.7 192.4 263.9 193.1 264.3 193.8 264.7 194.5 264.8 195.2 266.7 195.9 271.6 196.7 269.1 197.4 268.6 198.1 270.4 198.8 268.3 199.5 271.2 200.2 272.7 200.9 268.5 201.6 270.4 202.3 271.7 203.0 270.7 203.7 270.8 204.5 272.6 205.2 278.2 205.9 275.2 206.6 275.1 207.3 276.4 208.0 274.6 208.7 273.1 209.4 276.5 210.1 277.9 210.8 272.5 211.6 277.3 212.3 278.9 213.0 276.6 213.7 276.5 214.4 278.7 215.1 276.4 215.8 278.8 216.5 279.8 217.2 278.1 217.9 277.3 218.6 279.9 219.4 278.5 220.1 279.4 220.8 274.7 221.5 280.8 222.2 277.5 222.9 280.1 223.6 280.4 224.3 279.2 225.0 279.1 225.7 278.7 226.4 280.4 227.2 282.1 227.9 282.1 228.6 280.7 229.3 280.7 230.0 279.6 230.7 281.3 231.4 280.5 232.1 280.0 232.8 282.3 233.5 285.0 234.3 284.7 235.0 285.2 235.7 280.8 236.4 284.7 237.1 281.7 237.8 282.9 238.5 281.4 239.2 282.6 239.9 284.4 240.6 284.7 241.3 284.4 242.1 284.5 242.8 285.6 243.5 285.1 244.2 282.9 244.9 287.8 245.6 285.1" stroke="#ff7f0e" stroke-width="0.90" fill="none" stroke-linejoin="round"/><path d="M139.2 193.1 139.9 192.1 140.6 192.7 141.3 198.9 142.0 198.7 142.7 209.7 143.5 202.7 144.2 211.0 144.9 209.0 145.6 212.6 146.3 223.8 147.0 219.5 147.7 218.0 148.4 215.2 149.1 220.7 149.8 222.1 150.5 228.6 151.3 220.7 152.0 220.5 152.7 227.0 153.4 228.6 154.1 233.7 154.8 226.9 155.5 222.3 156.2 229.2 156.9 228.5 157.6 231.7 158.4 237.2 159.1 231.4 159.8 239.9 160.5 237.9 161.2 237.5 161.9 236.8 162.6 239.2 163.3 240.3 164.0 244.5 164.7 246.9 165.4 244.2 166.2 247.2 166.9 249.7 167.6 250.5 168.3 249.3 169.0 253.7 169.7 253.2 170.4 254.8 171.1 250.9 171.8 251.1 172.5 247.9 173.2 257.3 174.0 256.0 174.7 252.7 175.4 256.1 176.1 257.0 176.8 252.6 177.5 258.1 178.2 260.6 178.9 261.4 179.6 258.0 180.3 258.6 181.1 263.0 181.8 262.5 182.5 259.5 183.2 259.8 183.9 263.0 184.6 260.6 185.3 261.1 186.0 266.8 186.7 263.9 187.4 262.7 188.1 265.3 188.9 269.1 189.6 265.4 190.3 263.6 191.0 262.2 191.7 270.7 192.4 260.9 193.1 269.2 193.8 265.2 194.5 265.1 195.2 266.0 195.9 268.1 196.7 271.2 197.4 268.0 198.1 271.1 198.8 275.1 199.5 264.9 200.2 269.5 200.9 267.7 201.6 273.5 202.3 269.2 203.0 269.4 203.7 269.9 204.5 273.3 205.2 275.8 205.9 274.3 206.6 278.4 207.3 277.8 208.0 274.8 208.7 277.1 209.4 275.9 210.1 276.1 210.8 272.7 211.6 274.1 212.3 276.8 213.0 274.9 213.7 278.6 214.4 278.1 215.1 276.1 215.8 280.1 216.5 278.7 217.2 280.7 217.9 278.4 218.6 276.1 219.4 280.3 220.1 278.9 220.8 280.9 221.5 281.5 222.2 281.9 222.9 277.6 223.6 276.3 224.3 279.6 225.0 281.7 225.7 279.6 226.4 281.5 227.2 279.8 227.9 280.8 228.6 281.0 229.3 280.7 230.0 282.7 230.7 282.6 231.4 284.9 232.1 283.0 232.8 284.7 233.5 282.9 234.3 284.4 235.0 282.9 235.7 282.5 236.4 285.5 237.1 284.8 237.8 285.2 238.5 282.8 239.2 281.6 239.9 283.0 240.6 284.9 241.3 282.4 242.1 286.9 242.8 282.7 243.5 286.0 244.2 289.2 244.9 281.6 245.6 283.3" stroke="#2ca02c" stroke-width="0.90" fill="none" stroke-linejoin="round"/><path d="M139.2 192.9 139.9 191.5 140.6 196.0 141.3 197.8 142.0 206.3 142.7 206.1 143.5 204.6 144.2 207.9 144.9 206.8 145.6 212.8 146.3 207.2 147.0 219.3 147.7 217.8 148.4 226.4 149.1 225.7 149.8 218.7 150.5 227.1 151.3 223.5 152.0 226.3 152.7 230.3 153.4 229.0 154.1 230.4 154.8 231.1 155.5 228.2 156.2 229.4 156.9 234.0 157.6 236.0 158.4 233.4 159.1 235.6 159.8 233.3 160.5 229.7 161.2 235.9 161.9 239.4 162.6 240.8 163.3 243.7 164.0 244.9 164.7 246.1 165.4 245.4 166.2 246.4 166.9 244.2 167.6 248.2 168.3 248.6 169.0 252.1 169.7 245.5 170.4 249.3 171.1 246.9 171.8 250.2 172.5 249.2 173.2 254.2 174.0 252.5 174.7 248.3 175.4 258.6 176.1 253.3 176.8 252.7 177.5 256.3 178.2 256.0 178.9 255.3 179.6 260.4 180.3 258.3 181.1 261.8 181.8 261.8 182.5 262.1 183.2 261.5 183.9 261.2 184.6 260.9 185.3 265.7 186.0 258.3 186.7 260.6 187.4 262.0 188.1 264.8 188.9 264.6 189.6 263.6 190.3 264.3 191.0 269.3 191.7 264.4 192.4 260.1 193.1 270.8 193.8 265.1 194.5 266.8 195.2 268.3 195.9 265.6 196.7 271.3 197.4 268.9 198.1 266.7 198.8 270.5 199.5 271.3 200.2 270.7 200.9 272.2 201.6 268.6 202.3 273.9 203.0 270.7 203.7 275.3 204.5 271.9 205.2 273.8 205.9 278.9 206.6 274.3 207.3 276.6 208.0 275.8 208.7 272.4 209.4 277.7 210.1 277.8 210.8 273.5 211.6 276.2 212.3 273.9 213.0 276.4 213.7 278.8 214.4 277.6 215.1 275.5 215.8 276.3 216.5 278.2 217.2 278.3 217.9 278.8 218.6 279.8 219.4 275.7 220.1 279.2 220.8 281.4 221.5 280.4 222.2 278.6 222.9 278.9 223.6 280.4 224.3 281.5 225.0 280.5 225.7 283.5 226.4 283.1 227.2 279.8 227.9 282.1 228.6 280.9 229.3 279.7 230.0 280.8 230.7 282.0 231.4 278.8 232.1 281.3 232.8 283.1 233.5 281.6 234.3 282.2 235.0 284.4 235.7 283.1 236.4 283.7 237.1 286.6 237.8 284.0 238.5 284.3 239.2 284.7 239.9 286.7 240.6 284.9 241.3 284.6 242.1 284.6 242.8 286.6 243.5 284.1 244.2 287.0 244.9 285.7 245.6 283.6" stroke="#d62728" stroke-width="0.90" fill="none" stroke-linejoin="round"/><path d="M139.2 190.5 139.9 193.0 140.6 190.1 141.3 198.8 142.0 201.3 142.7 202.2 143.5 201.9 144.2 216.1 144.9 213.5 145.6 216.3 146.3 218.6 147.0 219.7 147.7 221.4 148.4 219.2 149.1 224.6 149.8 222.6 150.5 222.8 151.3 227.5 152.0 225.7 152.7 221.9 153.4 226.9 154.1 230.8 154.8 229.8 155.5 233.3 156.2 230.5 156.9 229.7 157.6 235.8 158.4 234.9 159.1 232.0 159.8 237.8 160.5 236.8 161.2 241.3 161.9 241.7 162.6 241.8 163.3 235.3 164.0 243.5 164.7 244.8 165.4 245.9 166.2 245.7 166.9 244.5 167.6 246.6 168.3 242.6 169.0 248.4 169.7 246.0 170.4 249.9 171.1 249.9 171.8 255.8 172.5 253.2 173.2 253.8 174.0 254.9 174.7 260.2 175.4 253.4 176.1 257.1 176.8 257.8 177.5 257.9 178.2 258.4 178.9 257.4 179.6 261.8 180.3 261.5 181.1 259.1 181.8 259.9 182.5 261.6 183.2 262.4 183.9 263.5 184.6 262.1 185.3 259.8 186.0 265.2 186.7 259.9 187.4 261.8 188.1 265.0 188.9 262.7 189.6 268.0 190.3 268.9 191.0 268.4 191.7 266.9 192.4 267.1 193.1 267.9 193.8 267.0 194.5 272.1 195.2 267.0 195.9 271.4 196.7 270.2 197.4 270.1 198.1 272.0 198.8 272.8 199.5 272.5 200.2 270.9 200.9 270.1 201.6 270.6 202.3 274.0 203.0 274.0 203.7 274.6 204.5 272.4 205.2 277.4 205.9 271.6 206.6 275.2 207.3 276.1 208.0 274.3 208.7 273.4 209.4 275.0 210.1 274.0 210.8 275.9 211.6 274.3 212.3 274.5 213.0 277.2 213.7 274.7 214.4 277.2 215.1 277.6 215.8 279.5 216.5 278.7 217.2 277.1 217.9 280.8 218.6 277.7 219.4 278.4 220.1 278.8 220.8 283.1 221.5 279.8 222.2 278.7 222.9 281.3 223.6 280.0 224.3 284.3 225.0 279.5 225.7 281.8 226.4 279.5 227.2 284.1 227.9 280.2 228.6 281.8 229.3 280.4 230.0 283.3 230.7 283.0 231.4 278.7 232.1 283.6 232.8 283.6 233.5 283.1 234.3 284.5 235.0 281.3 235.7 280.6 236.4 284.5 237.1 286.2 237.8 282.0 238.5 282.3 239.2 282.9 239.9 282.5 240.6 285.7 241.3 284.8 242.1 286.7 242.8 286.9 243.5 283.6 244.2 286.2 244.9 282.1 245.6 285.4" stroke="#9467bd" stroke-width="0.90" fill="none" stroke-linejoin="round"/></g><rect x="139.20" y="199.20" width="106.40" height="104.70" fill="none" stroke="#8c8c8c" stroke-width="0.6"/><text x="139.20" y="309.80" font-size="4.30" text-anchor="middle" fill="#000">2.0</text><text x="156.93" y="309.80" font-size="4.30" text-anchor="middle" fill="#000">2.5</text><text x="174.67" y="309.80" font-size="4.30" text-anchor="middle" fill="#000">3.0</text><text x="192.40" y="309.80" font-size="4.30" text-anchor="middle" fill="#000">3.5</text><text x="210.13" y="309.80" font-size="4.30" text-anchor="middle" fill="#000">4.0</text><text x="227.87" y="309.80" font-size="4.30" text-anchor="middle" fill="#000">4.5</text><text x="245.60" y="309.80" font-size="4.30" text-anchor="middle" fill="#000">5.0</text><text x="136.80" y="302.30" font-size="4.30" text-anchor="end" fill="#000">0</text><text x="136.80" y="289.00" font-size="4.30" text-anchor="end" fill="#000">2</text><text x="136.80" y="275.70" font-size="4.30" text-anchor="end" fill="#000">4</text><text x="136.80" y="262.40" font-size="4.30" text-anchor="end" fill="#000">6</text><text x="136.80" y="249.10" font-size="4.30" text-anchor="end" fill="#000">8</text><text x="136.80" y="235.80" font-size="4.30" text-anchor="end" fill="#000">10</text><text x="136.80" y="222.50" font-size="4.30" text-anchor="end" fill="#000">12</text><text x="136.80" y="209.20" font-size="4.30" text-anchor="end" fill="#000">14</text><path d="M139.20 303.90v1.5M156.93 303.90v1.5M174.67 303.90v1.5M192.40 303.90v1.5M210.13 303.90v1.5M227.87 303.90v1.5M245.60 303.90v1.5M139.20 300.80h-1.5M139.20 287.50h-1.5M139.20 274.20h-1.5M139.20 260.90h-1.5M139.20 247.60h-1.5M139.20 234.30h-1.5M139.20 221.00h-1.5M139.20 207.70h-1.5" stroke="#555" stroke-width="0.4"/><text x="192.40" y="315.40" font-size="4.60" text-anchor="middle" fill="#000">z (mm)</text><text x="0.00" y="0.00" font-size="4.90" text-anchor="middle" fill="#333" transform="translate(129.3 251.3) rotate(-90)">Fluence (mW/mm²)</text><text x="192.40" y="197.20" font-size="4.80" text-anchor="middle" fill="#000">Axial profile</text><rect x="142.40" y="200.80" width="55.00" height="16.60" fill="#9a9a9a" fill-opacity="0.8"/><rect x="141.20" y="199.60" width="55.00" height="16.60" fill="#ececec" fill-opacity="0.85" stroke="#c8c8c8" stroke-width="0.6"/><path d="M142.20 203.30H149.00" stroke="#1f77b4" stroke-width="0.70" stroke-opacity="1.00"/><text x="150.90" y="204.56" font-size="3.50" text-anchor="start" fill="#333">D100um</text><path d="M142.20 208.10H149.00" stroke="#ff7f0e" stroke-width="0.70" stroke-opacity="1.00"/><text x="150.90" y="209.36" font-size="3.50" text-anchor="start" fill="#333">D200um</text><path d="M142.20 212.60H149.00" stroke="#2ca02c" stroke-width="0.70" stroke-opacity="1.00"/><text x="150.90" y="213.86" font-size="3.50" text-anchor="start" fill="#333">D500um</text><path d="M171.40 203.30H177.60" stroke="#d62728" stroke-width="0.70" stroke-opacity="1.00"/><text x="180.20" y="204.56" font-size="3.50" text-anchor="start" fill="#333">D750um</text><path d="M171.40 208.10H177.60" stroke="#9467bd" stroke-width="0.70" stroke-opacity="1.00"/><text x="180.20" y="209.36" font-size="3.50" text-anchor="start" fill="#333">D1000um</text><g clip-path="url(#cpc)"><path d="M369.8 328.2 370.1 328.1 370.5 328.1 370.9 328.1 371.3 328.1 371.7 328.1 372.0 328.0 372.4 328.1 372.8 328.1 373.2 328.0 373.6 328.0 373.9 328.1 374.3 328.0 374.7 328.0 375.1 328.0 375.5 328.0 375.8 327.9 376.2 327.9 376.6 328.0 377.0 327.9 377.4 327.9 377.8 327.9 378.1 327.8 378.5 327.9 378.9 327.9 379.3 327.8 379.7 327.8 380.0 327.9 380.4 327.7 380.8 327.8 381.2 327.8 381.6 327.8 381.9 327.8 382.3 327.7 382.7 327.7 383.1 327.6 383.5 327.7 383.8 327.6 384.2 327.7 384.6 327.6 385.0 327.5 385.4 327.6 385.8 327.6 386.1 327.4 386.5 327.5 386.9 327.5 387.3 327.5 387.7 327.4 388.0 327.4 388.4 327.4 388.8 327.4 389.2 327.3 389.6 327.4 389.9 327.3 390.3 327.2 390.7 327.3 391.1 327.3 391.5 327.1 391.8 327.2 392.2 327.2 392.6 327.1 393.0 327.2 393.4 327.1 393.8 327.1 394.1 327.1 394.5 327.1 394.9 327.0 395.3 327.0 395.7 327.0 396.0 326.9 396.4 327.0 396.8 326.9 397.2 326.9 397.6 326.9 397.9 326.8 398.3 326.9 398.7 326.8 399.1 326.8 399.5 326.8 399.8 326.8 400.2 326.7 400.6 326.6 401.0 326.7 401.4 326.6 401.8 326.5 402.1 326.5 402.5 326.4 402.9 326.5 403.3 326.5 403.7 326.4 404.0 326.4 404.4 326.3 404.8 326.3 405.2 326.2 405.6 326.2 405.9 326.2 406.3 326.2 406.7 326.1 407.1 326.1 407.5 326.1 407.8 326.0 408.2 326.1 408.6 325.9 409.0 326.0 409.4 325.9 409.8 325.9 410.1 325.9 410.5 325.7 410.9 325.8 411.3 325.8 411.7 325.8 412.0 325.7 412.4 325.5 412.8 325.6 413.2 325.5 413.6 325.6 413.9 325.5 414.3 325.4 414.7 325.3 415.1 325.4 415.5 325.3 415.9 325.3 416.2 325.3 416.6 325.2 417.0 325.2 417.4 325.3 417.8 325.1 418.1 325.0 418.5 325.1 418.9 325.1 419.3 324.8 419.7 324.9 420.0 324.8 420.4 324.7 420.8 324.8 421.2 324.6 421.6 324.6 421.9 324.6 422.3 324.5 422.7 324.4 423.1 324.3 423.5 324.3 423.9 324.2 424.2 324.2 424.6 324.1 425.0 324.1 425.4 324.0 425.8 323.8 426.1 323.7 426.5 323.6 426.9 323.5 427.3 323.2 427.7 323.1 428.0 323.0 428.4 322.9 428.8 322.5 429.2 322.5 429.6 322.4 429.9 322.2 430.3 322.1 430.7 321.9 431.1 321.9 431.5 321.5 431.9 321.7 432.2 321.4 432.6 321.5 433.0 321.1 433.4 321.2 433.8 321.1 434.1 320.9 434.5 320.7 434.9 320.9 435.3 320.7 435.7 320.7 436.0 320.4 436.4 320.4 436.8 320.3 437.2 320.2 437.6 320.1 437.9 320.0 438.3 319.8 438.7 319.6 439.1 319.8 439.5 319.5 439.9 319.4 440.2 319.2 440.6 319.2 441.0 319.0 441.4 319.0 441.8 318.6 442.1 318.5 442.5 318.4 442.9 318.2 443.3 318.1 443.7 318.0 444.0 317.6 444.4 317.4 444.8 317.3 445.2 316.9 445.6 316.7 445.9 316.7 446.3 316.4 446.7 315.8 447.1 315.6 447.5 315.5 447.9 315.3 448.2 314.9 448.6 314.5 449.0 314.3 449.4 313.7 449.8 313.5 450.1 313.0 450.5 312.3 450.9 312.0 451.3 311.3 451.7 310.5 452.0 309.8 452.4 309.2 452.8 308.3 453.2 307.5 453.6 306.2 454.0 305.4 454.3 304.7 454.7 303.4 455.1 302.2 455.5 301.0 455.9 299.5 456.2 298.5 456.6 297.8 457.0 296.8 457.4 296.3 457.8 295.2 458.1 294.3 458.5 292.7 458.9 291.8 459.3 290.3 459.7 286.4 460.0 280.2 460.4 273.4 460.8 265.8 461.2 256.7 461.6 244.8 462.0 227.6 462.3 205.8 462.7 176.3 463.1 155.8 463.5 153.4 463.9 152.9 464.2 152.5 464.6 151.8 465.0 152.7 465.4 152.1 465.8 151.8 466.1 152.5 466.5 153.1 466.9 156.0 467.3 176.0 467.7 205.1 468.0 227.5 468.4 245.4 468.8 256.9 469.2 265.3 469.6 272.7 470.0 280.2 470.3 286.0 470.7 290.0 471.1 291.8 471.5 293.2 471.9 294.2 472.2 295.5 472.6 295.9 473.0 296.6 473.4 297.9 473.8 299.0 474.1 299.8 474.5 301.2 474.9 302.7 475.3 303.3 475.7 304.5 476.0 305.6 476.4 306.2 476.8 307.4 477.2 308.4 477.6 309.1 478.0 310.0 478.3 310.7 478.7 311.2 479.1 311.9 479.5 312.4 479.9 312.6 480.2 313.2 480.6 313.6 481.0 314.0 481.4 314.4 481.8 314.6 482.1 315.1 482.5 315.2 482.9 315.9 483.3 316.1 483.7 316.5 484.0 316.6 484.4 316.7 484.8 316.9 485.2 317.3 485.6 317.5 486.0 317.7 486.3 317.9 486.7 318.2 487.1 318.2 487.5 318.6 487.9 318.5 488.2 318.7 488.6 318.9 489.0 319.1 489.4 319.3 489.8 319.1 490.1 319.5 490.5 319.3 490.9 319.5 491.3 319.8 491.7 319.9 492.1 319.8 492.4 319.9 492.8 320.2 493.2 320.3 493.6 320.2 494.0 320.4 494.3 320.4 494.7 320.7 495.1 320.7 495.5 321.0 495.9 320.8 496.2 321.1 496.6 321.4 497.0 321.3 497.4 321.4 497.8 321.3 498.1 321.6 498.5 321.7 498.9 321.8 499.3 321.8 499.7 322.1 500.1 322.2 500.4 322.3 500.8 322.6 501.2 322.7 501.6 322.9 502.0 323.1 502.3 323.1 502.7 323.4 503.1 323.4 503.5 323.5 503.9 323.7 504.2 323.9 504.6 323.9 505.0 324.0 505.4 324.0 505.8 324.1 506.1 324.2 506.5 324.3 506.9 324.4 507.3 324.5 507.7 324.4 508.1 324.6 508.4 324.7 508.8 324.6 509.2 324.7 509.6 325.0 510.0 324.8 510.3 325.0 510.7 324.9 511.1 324.8 511.5 325.1 511.9 325.1 512.2 325.1 512.6 325.1 513.0 325.2 513.4 325.2 513.8 325.3 514.1 325.2 514.5 325.4 514.9 325.4 515.3 325.4 515.7 325.4 516.1 325.6 516.4 325.6 516.8 325.6 517.2 325.6 517.6 325.6 518.0 325.8 518.3 325.7 518.7 325.7 519.1 325.8 519.5 325.8 519.9 325.8 520.2 325.9 520.6 325.9 521.0 325.9 521.4 325.9 521.8 326.1 522.1 326.0 522.5 326.1 522.9 326.1 523.3 326.2 523.7 326.3 524.1 326.2 524.4 326.3 524.8 326.3 525.2 326.4 525.6 326.3 526.0 326.4 526.3 326.4 526.7 326.5 527.1 326.5 527.5 326.6 527.9 326.6 528.2 326.6 528.6 326.6 529.0 326.7 529.4 326.7 529.8 326.7 530.2 326.7 530.5 326.6 530.9 326.7 531.3 326.8 531.7 326.9 532.1 326.9 532.4 326.9 532.8 326.9 533.2 327.0 533.6 326.9 534.0 327.0 534.3 327.0 534.7 326.9 535.1 327.1 535.5 327.1 535.9 327.1 536.2 327.1 536.6 327.2 537.0 327.2 537.4 327.2 537.8 327.3 538.2 327.2 538.5 327.1 538.9 327.3 539.3 327.2 539.7 327.3 540.1 327.4 540.4 327.4 540.8 327.4 541.2 327.4 541.6 327.3 542.0 327.5 542.3 327.4 542.7 327.4 543.1 327.5 543.5 327.5 543.9 327.5 544.2 327.5 544.6 327.5 545.0 327.5 545.4 327.7 545.8 327.6 546.2 327.5 546.5 327.6 546.9 327.6 547.3 327.7 547.7 327.7 548.1 327.7 548.4 327.7 548.8 327.7 549.2 327.8 549.6 327.8 550.0 327.9 550.3 327.8 550.7 327.8 551.1 327.9 551.5 327.9 551.9 327.8 552.2 327.9 552.6 327.9 553.0 327.9 553.4 327.9 553.8 327.9 554.2 327.9 554.5 328.0 554.9 328.0 555.3 328.0 555.7 328.0 556.1 328.0 556.4 328.0 556.8 328.0 557.2 328.0 557.6 328.0 558.0 328.0 558.3 328.1 558.7 328.1 559.1 328.1 559.5 328.1 559.9 328.1 560.2 328.2" stroke="#1f77b4" stroke-width="0.90" fill="none" stroke-linejoin="round" stroke-opacity="0.80"/><path d="M369.8 328.2 370.1 328.2 370.5 328.2 370.9 328.1 371.3 328.0 371.7 328.1 372.0 328.0 372.4 328.1 372.8 328.1 373.2 328.0 373.6 328.1 373.9 328.0 374.3 328.0 374.7 328.0 375.1 328.0 375.5 327.9 375.8 328.0 376.2 327.9 376.6 327.9 377.0 327.9 377.4 327.9 377.8 327.9 378.1 327.9 378.5 327.9 378.9 327.8 379.3 327.8 379.7 327.8 380.0 327.8 380.4 327.8 380.8 327.8 381.2 327.7 381.6 327.7 381.9 327.7 382.3 327.7 382.7 327.7 383.1 327.7 383.5 327.6 383.8 327.6 384.2 327.6 384.6 327.6 385.0 327.6 385.4 327.5 385.8 327.5 386.1 327.5 386.5 327.5 386.9 327.5 387.3 327.5 387.7 327.4 388.0 327.4 388.4 327.4 388.8 327.5 389.2 327.4 389.6 327.4 389.9 327.3 390.3 327.3 390.7 327.3 391.1 327.3 391.5 327.2 391.8 327.2 392.2 327.2 392.6 327.2 393.0 327.2 393.4 327.1 393.8 327.1 394.1 327.0 394.5 327.1 394.9 327.0 395.3 327.0 395.7 327.0 396.0 326.9 396.4 326.9 396.8 326.9 397.2 326.9 397.6 326.8 397.9 326.9 398.3 326.8 398.7 326.7 399.1 326.7 399.5 326.7 399.8 326.7 400.2 326.6 400.6 326.6 401.0 326.6 401.4 326.6 401.8 326.6 402.1 326.6 402.5 326.5 402.9 326.5 403.3 326.5 403.7 326.5 404.0 326.5 404.4 326.4 404.8 326.4 405.2 326.2 405.6 326.2 405.9 326.1 406.3 326.1 406.7 326.2 407.1 326.2 407.5 326.3 407.8 326.1 408.2 326.0 408.6 325.9 409.0 325.9 409.4 325.9 409.8 325.9 410.1 325.8 410.5 325.7 410.9 325.8 411.3 325.8 411.7 325.8 412.0 325.6 412.4 325.6 412.8 325.6 413.2 325.7 413.6 325.5 413.9 325.5 414.3 325.5 414.7 325.4 415.1 325.4 415.5 325.4 415.9 325.3 416.2 325.3 416.6 325.3 417.0 325.2 417.4 325.2 417.8 325.1 418.1 325.1 418.5 325.0 418.9 325.0 419.3 325.0 419.7 324.8 420.0 324.9 420.4 324.7 420.8 324.7 421.2 324.8 421.6 324.7 421.9 324.6 422.3 324.6 422.7 324.5 423.1 324.3 423.5 324.3 423.9 324.2 424.2 324.2 424.6 324.1 425.0 324.1 425.4 323.9 425.8 323.8 426.1 323.7 426.5 323.6 426.9 323.5 427.3 323.3 427.7 323.1 428.0 323.0 428.4 322.9 428.8 322.7 429.2 322.3 429.6 322.4 429.9 322.2 430.3 322.1 430.7 322.2 431.1 321.8 431.5 321.8 431.9 321.5 432.2 321.5 432.6 321.4 433.0 321.3 433.4 321.1 433.8 321.1 434.1 320.9 434.5 320.9 434.9 320.7 435.3 320.5 435.7 320.3 436.0 320.3 436.4 320.2 436.8 320.0 437.2 319.9 437.6 319.7 437.9 319.7 438.3 319.7 438.7 319.5 439.1 319.4 439.5 319.3 439.9 319.1 440.2 319.1 440.6 319.1 441.0 318.8 441.4 318.8 441.8 318.4 442.1 318.2 442.5 318.2 442.9 317.8 443.3 317.6 443.7 317.4 444.0 317.1 444.4 316.8 444.8 316.9 445.2 316.5 445.6 316.3 445.9 316.0 446.3 315.7 446.7 315.6 447.1 315.3 447.5 315.0 447.9 314.7 448.2 314.3 448.6 314.1 449.0 313.6 449.4 313.0 449.8 312.6 450.1 312.1 450.5 311.9 450.9 311.1 451.3 310.4 451.7 309.6 452.0 308.8 452.4 307.8 452.8 307.0 453.2 306.0 453.6 305.0 454.0 303.8 454.3 302.7 454.7 301.1 455.1 299.9 455.5 298.7 455.9 297.7 456.2 296.7 456.6 295.8 457.0 295.1 457.4 294.3 457.8 293.1 458.1 291.8 458.5 289.6 458.9 285.7 459.3 278.8 459.7 269.9 460.0 262.0 460.4 253.4 460.8 245.0 461.2 238.3 461.6 230.9 462.0 225.5 462.3 220.8 462.7 214.8 463.1 210.3 463.5 206.3 463.9 205.6 464.2 204.5 464.6 202.6 465.0 202.4 465.4 202.8 465.8 204.5 466.1 205.0 466.5 206.4 466.9 210.8 467.3 214.5 467.7 220.4 468.0 224.9 468.4 231.4 468.8 238.1 469.2 244.6 469.6 252.9 470.0 262.2 470.3 270.0 470.7 278.5 471.1 286.0 471.5 289.5 471.9 291.9 472.2 293.4 472.6 294.3 473.0 295.5 473.4 296.3 473.8 296.9 474.1 297.8 474.5 298.7 474.9 299.8 475.3 301.4 475.7 302.5 476.0 303.8 476.4 305.2 476.8 306.0 477.2 307.1 477.6 307.7 478.0 308.7 478.3 309.6 478.7 310.5 479.1 311.0 479.5 311.7 479.9 312.0 480.2 312.6 480.6 313.2 481.0 313.4 481.4 313.8 481.8 314.3 482.1 314.4 482.5 315.0 482.9 315.3 483.3 315.5 483.7 315.9 484.0 316.1 484.4 316.3 484.8 316.4 485.2 316.6 485.6 317.1 486.0 317.1 486.3 317.5 486.7 317.6 487.1 317.8 487.5 318.0 487.9 318.0 488.2 318.4 488.6 318.7 489.0 318.6 489.4 318.9 489.8 319.0 490.1 319.5 490.5 319.2 490.9 319.3 491.3 319.5 491.7 319.6 492.1 319.6 492.4 319.9 492.8 319.9 493.2 320.2 493.6 320.3 494.0 320.3 494.3 320.4 494.7 320.7 495.1 320.7 495.5 320.8 495.9 321.0 496.2 321.0 496.6 321.2 497.0 321.4 497.4 321.5 497.8 321.3 498.1 321.7 498.5 321.7 498.9 321.8 499.3 321.9 499.7 322.2 500.1 322.3 500.4 322.4 500.8 322.5 501.2 322.8 501.6 323.0 502.0 322.9 502.3 323.1 502.7 323.3 503.1 323.5 503.5 323.6 503.9 323.7 504.2 323.8 504.6 324.0 505.0 324.0 505.4 324.1 505.8 324.2 506.1 324.2 506.5 324.3 506.9 324.4 507.3 324.4 507.7 324.6 508.1 324.6 508.4 324.6 508.8 324.7 509.2 324.7 509.6 324.9 510.0 324.9 510.3 324.9 510.7 324.9 511.1 324.8 511.5 325.0 511.9 325.1 512.2 325.1 512.6 325.2 513.0 325.3 513.4 325.1 513.8 325.3 514.1 325.3 514.5 325.3 514.9 325.3 515.3 325.4 515.7 325.4 516.1 325.6 516.4 325.6 516.8 325.5 517.2 325.5 517.6 325.6 518.0 325.7 518.3 325.7 518.7 325.8 519.1 325.7 519.5 325.8 519.9 325.8 520.2 325.9 520.6 325.9 521.0 325.9 521.4 325.9 521.8 326.1 522.1 326.0 522.5 326.0 522.9 326.2 523.3 326.2 523.7 326.1 524.1 326.2 524.4 326.2 524.8 326.4 525.2 326.3 525.6 326.4 526.0 326.4 526.3 326.4 526.7 326.5 527.1 326.4 527.5 326.3 527.9 326.5 528.2 326.5 528.6 326.6 529.0 326.7 529.4 326.7 529.8 326.7 530.2 326.8 530.5 326.8 530.9 326.8 531.3 326.8 531.7 326.9 532.1 326.9 532.4 326.8 532.8 326.9 533.2 326.9 533.6 326.9 534.0 327.0 534.3 327.0 534.7 327.1 535.1 326.9 535.5 327.0 535.9 327.1 536.2 327.2 536.6 327.1 537.0 327.2 537.4 327.2 537.8 327.2 538.2 327.2 538.5 327.3 538.9 327.2 539.3 327.3 539.7 327.3 540.1 327.3 540.4 327.4 540.8 327.3 541.2 327.4 541.6 327.3 542.0 327.4 542.3 327.4 542.7 327.5 543.1 327.5 543.5 327.5 543.9 327.6 544.2 327.5 544.6 327.5 545.0 327.6 545.4 327.5 545.8 327.6 546.2 327.6 546.5 327.6 546.9 327.6 547.3 327.7 547.7 327.6 548.1 327.7 548.4 327.7 548.8 327.8 549.2 327.8 549.6 327.8 550.0 327.8 550.3 327.8 550.7 327.9 551.1 327.9 551.5 327.8 551.9 327.9 552.2 327.9 552.6 327.8 553.0 327.9 553.4 327.9 553.8 328.0 554.2 328.0 554.5 328.0 554.9 328.0 555.3 328.0 555.7 328.0 556.1 328.0 556.4 328.0 556.8 328.0 557.2 328.1 557.6 328.1 558.0 328.1 558.3 328.1 558.7 328.1 559.1 328.1 559.5 328.2 559.9 328.2 560.2 328.2" stroke="#ff7f0e" stroke-width="1.20" fill="none" stroke-linejoin="round" stroke-opacity="0.75"/><path d="M369.8 328.1 370.1 328.2 370.5 328.1 370.9 328.1 371.3 328.1 371.7 328.1 372.0 328.0 372.4 328.1 372.8 328.0 373.2 328.0 373.6 328.0 373.9 328.0 374.3 327.9 374.7 328.0 375.1 328.0 375.5 328.0 375.8 327.9 376.2 327.9 376.6 327.9 377.0 327.9 377.4 327.9 377.8 327.9 378.1 327.8 378.5 327.8 378.9 327.8 379.3 327.9 379.7 327.8 380.0 327.8 380.4 327.7 380.8 327.8 381.2 327.7 381.6 327.7 381.9 327.8 382.3 327.7 382.7 327.6 383.1 327.7 383.5 327.7 383.8 327.6 384.2 327.6 384.6 327.6 385.0 327.6 385.4 327.6 385.8 327.5 386.1 327.5 386.5 327.5 386.9 327.4 387.3 327.4 387.7 327.5 388.0 327.5 388.4 327.5 388.8 327.4 389.2 327.4 389.6 327.3 389.9 327.3 390.3 327.3 390.7 327.3 391.1 327.3 391.5 327.2 391.8 327.2 392.2 327.1 392.6 327.1 393.0 327.2 393.4 327.2 393.8 327.1 394.1 327.2 394.5 327.1 394.9 327.1 395.3 327.0 395.7 327.0 396.0 327.0 396.4 327.0 396.8 327.0 397.2 326.9 397.6 326.9 397.9 326.8 398.3 326.8 398.7 326.7 399.1 326.7 399.5 326.7 399.8 326.8 400.2 326.7 400.6 326.6 401.0 326.6 401.4 326.6 401.8 326.5 402.1 326.6 402.5 326.5 402.9 326.5 403.3 326.4 403.7 326.4 404.0 326.4 404.4 326.4 404.8 326.3 405.2 326.3 405.6 326.3 405.9 326.1 406.3 326.2 406.7 326.2 407.1 326.0 407.5 326.0 407.8 326.1 408.2 326.0 408.6 326.1 409.0 326.0 409.4 326.1 409.8 325.8 410.1 326.0 410.5 325.8 410.9 325.8 411.3 325.8 411.7 325.7 412.0 325.7 412.4 325.6 412.8 325.5 413.2 325.6 413.6 325.5 413.9 325.5 414.3 325.4 414.7 325.4 415.1 325.4 415.5 325.4 415.9 325.3 416.2 325.3 416.6 325.2 417.0 325.2 417.4 325.2 417.8 325.1 418.1 325.2 418.5 325.1 418.9 324.9 419.3 325.1 419.7 324.9 420.0 324.8 420.4 324.9 420.8 324.6 421.2 324.9 421.6 324.5 421.9 324.5 422.3 324.4 422.7 324.5 423.1 324.3 423.5 324.4 423.9 324.2 424.2 324.2 424.6 324.1 425.0 323.9 425.4 324.0 425.8 323.8 426.1 323.7 426.5 323.7 426.9 323.4 427.3 323.3 427.7 323.3 428.0 323.0 428.4 323.0 428.8 322.8 429.2 322.6 429.6 322.5 429.9 322.2 430.3 322.2 430.7 321.9 431.1 321.8 431.5 321.6 431.9 321.6 432.2 321.5 432.6 321.4 433.0 321.1 433.4 320.9 433.8 320.7 434.1 320.6 434.5 320.6 434.9 320.5 435.3 320.3 435.7 320.2 436.0 319.9 436.4 319.8 436.8 319.8 437.2 319.6 437.6 319.3 437.9 319.2 438.3 319.1 438.7 318.8 439.1 318.7 439.5 318.5 439.9 318.3 440.2 318.3 440.6 317.8 441.0 317.8 441.4 317.4 441.8 317.2 442.1 316.8 442.5 316.6 442.9 316.3 443.3 316.2 443.7 315.8 444.0 315.6 444.4 315.1 444.8 314.7 445.2 314.4 445.6 313.7 445.9 313.5 446.3 313.0 446.7 312.6 447.1 312.2 447.5 311.4 447.9 310.8 448.2 310.4 448.6 309.4 449.0 308.7 449.4 307.7 449.8 306.9 450.1 306.2 450.5 305.2 450.9 303.7 451.3 302.9 451.7 302.0 452.0 300.3 452.4 298.8 452.8 296.7 453.2 293.9 453.6 291.1 454.0 288.7 454.3 287.0 454.7 285.3 455.1 283.6 455.5 281.8 455.9 280.7 456.2 278.5 456.6 276.8 457.0 275.0 457.4 273.0 457.8 271.0 458.1 269.2 458.5 267.8 458.9 265.9 459.3 263.7 459.7 263.1 460.0 261.9 460.4 260.0 460.8 258.7 461.2 257.5 461.6 256.9 462.0 255.4 462.3 255.1 462.7 254.6 463.1 253.8 463.5 253.1 463.9 252.4 464.2 252.0 464.6 251.9 465.0 251.5 465.4 251.9 465.8 251.9 466.1 253.0 466.5 253.5 466.9 253.4 467.3 254.7 467.7 255.0 468.0 255.7 468.4 256.7 468.8 257.8 469.2 258.4 469.6 260.8 470.0 261.2 470.3 262.2 470.7 264.2 471.1 265.8 471.5 267.2 471.9 268.7 472.2 271.3 472.6 272.8 473.0 274.8 473.4 276.4 473.8 278.4 474.1 280.1 474.5 282.1 474.9 283.6 475.3 285.4 475.7 287.1 476.0 288.8 476.4 290.8 476.8 293.7 477.2 296.1 477.6 298.7 478.0 300.6 478.3 301.6 478.7 303.1 479.1 303.9 479.5 305.0 479.9 306.0 480.2 307.0 480.6 308.0 481.0 308.7 481.4 309.2 481.8 310.6 482.1 310.9 482.5 311.5 482.9 312.3 483.3 312.8 483.7 312.8 484.0 313.6 484.4 313.7 484.8 314.3 485.2 314.7 485.6 315.0 486.0 315.3 486.3 315.6 486.7 316.0 487.1 316.3 487.5 316.6 487.9 316.7 488.2 317.0 488.6 317.5 489.0 317.7 489.4 317.8 489.8 318.1 490.1 318.3 490.5 318.6 490.9 318.7 491.3 318.8 491.7 319.0 492.1 319.2 492.4 319.2 492.8 319.6 493.2 319.4 493.6 319.8 494.0 320.0 494.3 320.2 494.7 320.6 495.1 320.5 495.5 320.6 495.9 320.6 496.2 321.0 496.6 320.8 497.0 321.2 497.4 321.2 497.8 321.6 498.1 321.5 498.5 321.7 498.9 321.8 499.3 322.0 499.7 322.2 500.1 322.2 500.4 322.4 500.8 322.5 501.2 322.7 501.6 322.8 502.0 323.0 502.3 323.3 502.7 323.4 503.1 323.4 503.5 323.5 503.9 323.7 504.2 323.8 504.6 323.9 505.0 324.0 505.4 324.1 505.8 324.2 506.1 324.1 506.5 324.3 506.9 324.4 507.3 324.5 507.7 324.6 508.1 324.5 508.4 324.6 508.8 324.7 509.2 324.7 509.6 324.8 510.0 324.9 510.3 324.8 510.7 324.9 511.1 324.8 511.5 325.1 511.9 325.1 512.2 325.1 512.6 325.2 513.0 325.3 513.4 325.3 513.8 325.3 514.1 325.3 514.5 325.4 514.9 325.3 515.3 325.4 515.7 325.5 516.1 325.5 516.4 325.6 516.8 325.5 517.2 325.6 517.6 325.6 518.0 325.7 518.3 325.7 518.7 325.8 519.1 325.8 519.5 325.8 519.9 325.8 520.2 325.8 520.6 325.9 521.0 325.9 521.4 325.9 521.8 326.0 522.1 326.1 522.5 326.1 522.9 326.1 523.3 326.2 523.7 326.2 524.1 326.2 524.4 326.3 524.8 326.2 525.2 326.3 525.6 326.4 526.0 326.4 526.3 326.5 526.7 326.4 527.1 326.5 527.5 326.4 527.9 326.5 528.2 326.5 528.6 326.6 529.0 326.7 529.4 326.7 529.8 326.7 530.2 326.7 530.5 326.7 530.9 326.7 531.3 326.8 531.7 326.8 532.1 326.8 532.4 326.9 532.8 326.9 533.2 326.9 533.6 327.0 534.0 326.9 534.3 326.9 534.7 327.0 535.1 327.0 535.5 327.1 535.9 327.1 536.2 327.1 536.6 327.1 537.0 327.1 537.4 327.1 537.8 327.1 538.2 327.3 538.5 327.2 538.9 327.2 539.3 327.3 539.7 327.3 540.1 327.3 540.4 327.3 540.8 327.3 541.2 327.4 541.6 327.4 542.0 327.4 542.3 327.4 542.7 327.4 543.1 327.4 543.5 327.5 543.9 327.5 544.2 327.6 544.6 327.6 545.0 327.6 545.4 327.6 545.8 327.6 546.2 327.7 546.5 327.6 546.9 327.6 547.3 327.7 547.7 327.7 548.1 327.7 548.4 327.8 548.8 327.8 549.2 327.8 549.6 327.8 550.0 327.8 550.3 327.8 550.7 327.8 551.1 327.9 551.5 327.9 551.9 327.9 552.2 327.9 552.6 328.0 553.0 327.9 553.4 327.9 553.8 327.9 554.2 327.9 554.5 328.0 554.9 328.0 555.3 328.0 555.7 328.0 556.1 328.0 556.4 328.0 556.8 328.0 557.2 328.1 557.6 328.0 558.0 328.1 558.3 328.1 558.7 328.1 559.1 328.1 559.5 328.2 559.9 328.2 560.2 328.1" stroke="#2ca02c" stroke-width="1.00" fill="none" stroke-linejoin="round"/><path d="M369.8 328.1 370.1 328.1 370.5 328.1 370.9 328.1 371.3 328.1 371.7 328.1 372.0 328.0 372.4 328.0 372.8 328.0 373.2 328.1 373.6 328.0 373.9 328.0 374.3 328.0 374.7 327.9 375.1 328.0 375.5 327.9 375.8 328.0 376.2 327.9 376.6 327.9 377.0 327.9 377.4 327.9 377.8 327.9 378.1 327.9 378.5 327.9 378.9 327.9 379.3 327.8 379.7 327.8 380.0 327.8 380.4 327.8 380.8 327.8 381.2 327.8 381.6 327.7 381.9 327.7 382.3 327.7 382.7 327.7 383.1 327.7 383.5 327.7 383.8 327.7 384.2 327.6 384.6 327.6 385.0 327.6 385.4 327.6 385.8 327.5 386.1 327.6 386.5 327.5 386.9 327.5 387.3 327.5 387.7 327.5 388.0 327.4 388.4 327.3 388.8 327.5 389.2 327.4 389.6 327.3 389.9 327.3 390.3 327.3 390.7 327.3 391.1 327.2 391.5 327.3 391.8 327.2 392.2 327.2 392.6 327.2 393.0 327.2 393.4 327.1 393.8 327.1 394.1 327.1 394.5 327.1 394.9 327.1 395.3 327.0 395.7 327.0 396.0 327.0 396.4 327.0 396.8 327.0 397.2 326.9 397.6 326.8 397.9 326.9 398.3 326.7 398.7 326.8 399.1 326.8 399.5 326.7 399.8 326.7 400.2 326.7 400.6 326.5 401.0 326.7 401.4 326.6 401.8 326.5 402.1 326.6 402.5 326.5 402.9 326.5 403.3 326.3 403.7 326.5 404.0 326.4 404.4 326.3 404.8 326.3 405.2 326.4 405.6 326.2 405.9 326.2 406.3 326.2 406.7 326.1 407.1 326.1 407.5 326.1 407.8 326.0 408.2 326.1 408.6 326.0 409.0 325.9 409.4 325.9 409.8 325.9 410.1 325.9 410.5 325.7 410.9 325.7 411.3 325.8 411.7 325.7 412.0 325.7 412.4 325.6 412.8 325.6 413.2 325.6 413.6 325.6 413.9 325.5 414.3 325.5 414.7 325.4 415.1 325.4 415.5 325.3 415.9 325.3 416.2 325.2 416.6 325.2 417.0 325.1 417.4 325.2 417.8 325.1 418.1 325.1 418.5 325.0 418.9 325.0 419.3 324.9 419.7 325.0 420.0 324.8 420.4 324.9 420.8 324.7 421.2 324.8 421.6 324.7 421.9 324.7 422.3 324.4 422.7 324.5 423.1 324.4 423.5 324.3 423.9 324.4 424.2 324.2 424.6 324.0 425.0 324.0 425.4 323.8 425.8 323.8 426.1 323.7 426.5 323.6 426.9 323.5 427.3 323.2 427.7 323.2 428.0 323.1 428.4 323.0 428.8 322.8 429.2 322.5 429.6 322.5 429.9 322.4 430.3 322.1 430.7 322.0 431.1 321.6 431.5 321.9 431.9 321.5 432.2 321.3 432.6 321.3 433.0 321.1 433.4 320.8 433.8 320.5 434.1 320.6 434.5 320.5 434.9 320.0 435.3 319.8 435.7 319.8 436.0 319.8 436.4 319.2 436.8 319.1 437.2 318.8 437.6 318.6 437.9 318.4 438.3 318.2 438.7 317.7 439.1 317.4 439.5 317.5 439.9 317.1 440.2 316.4 440.6 316.4 441.0 316.1 441.4 315.6 441.8 315.2 442.1 314.8 442.5 314.4 442.9 313.9 443.3 313.5 443.7 312.9 444.0 312.5 444.4 311.9 444.8 311.2 445.2 310.3 445.6 309.7 445.9 309.0 446.3 308.1 446.7 307.3 447.1 306.3 447.5 305.5 447.9 304.3 448.2 303.4 448.6 302.6 449.0 301.6 449.4 300.2 449.8 299.2 450.1 298.2 450.5 297.3 450.9 296.1 451.3 294.5 451.7 293.2 452.0 292.0 452.4 291.2 452.8 289.7 453.2 289.0 453.6 287.8 454.0 286.8 454.3 286.1 454.7 285.1 455.1 284.5 455.5 283.4 455.9 282.8 456.2 281.5 456.6 280.8 457.0 279.8 457.4 279.2 457.8 278.6 458.1 277.7 458.5 277.1 458.9 276.2 459.3 275.7 459.7 275.5 460.0 274.7 460.4 274.3 460.8 274.0 461.2 273.4 461.6 272.8 462.0 272.9 462.3 272.6 462.7 272.8 463.1 272.0 463.5 271.8 463.9 272.0 464.2 271.3 464.6 271.1 465.0 271.4 465.4 271.4 465.8 271.6 466.1 271.3 466.5 272.1 466.9 272.0 467.3 271.7 467.7 272.5 468.0 272.7 468.4 273.2 468.8 273.9 469.2 274.0 469.6 274.2 470.0 275.0 470.3 275.1 470.7 275.5 471.1 276.1 471.5 277.4 471.9 278.0 472.2 278.9 472.6 279.0 473.0 279.9 473.4 280.6 473.8 281.8 474.1 282.6 474.5 283.2 474.9 284.0 475.3 285.1 475.7 285.9 476.0 286.7 476.4 287.8 476.8 289.1 477.2 290.3 477.6 291.0 478.0 292.1 478.3 293.4 478.7 294.7 479.1 295.9 479.5 296.9 479.9 298.2 480.2 299.3 480.6 300.6 481.0 301.6 481.4 302.5 481.8 303.8 482.1 304.8 482.5 305.6 482.9 306.3 483.3 307.3 483.7 308.0 484.0 309.0 484.4 309.8 484.8 310.7 485.2 311.3 485.6 311.6 486.0 312.3 486.3 312.8 486.7 313.3 487.1 313.9 487.5 314.4 487.9 314.8 488.2 315.1 488.6 315.5 489.0 315.9 489.4 316.3 489.8 316.7 490.1 317.0 490.5 317.4 490.9 317.5 491.3 318.1 491.7 318.2 492.1 318.1 492.4 318.7 492.8 319.0 493.2 319.1 493.6 319.2 494.0 319.5 494.3 319.7 494.7 319.9 495.1 320.2 495.5 320.0 495.9 320.5 496.2 320.7 496.6 320.9 497.0 321.0 497.4 321.1 497.8 321.3 498.1 321.5 498.5 321.8 498.9 321.8 499.3 322.0 499.7 322.2 500.1 322.4 500.4 322.5 500.8 322.7 501.2 322.8 501.6 323.0 502.0 323.1 502.3 323.2 502.7 323.4 503.1 323.5 503.5 323.7 503.9 323.6 504.2 324.0 504.6 323.9 505.0 324.1 505.4 324.1 505.8 324.1 506.1 324.3 506.5 324.3 506.9 324.4 507.3 324.3 507.7 324.4 508.1 324.5 508.4 324.7 508.8 324.8 509.2 324.7 509.6 324.8 510.0 324.9 510.3 324.9 510.7 325.0 511.1 324.9 511.5 325.0 511.9 325.0 512.2 325.2 512.6 325.1 513.0 325.2 513.4 325.2 513.8 325.2 514.1 325.3 514.5 325.3 514.9 325.4 515.3 325.6 515.7 325.4 516.1 325.5 516.4 325.5 516.8 325.6 517.2 325.7 517.6 325.7 518.0 325.6 518.3 325.6 518.7 325.8 519.1 325.8 519.5 325.7 519.9 325.9 520.2 325.8 520.6 325.9 521.0 326.0 521.4 325.9 521.8 325.9 522.1 326.1 522.5 326.0 522.9 326.1 523.3 326.1 523.7 326.2 524.1 326.3 524.4 326.2 524.8 326.2 525.2 326.2 525.6 326.3 526.0 326.4 526.3 326.4 526.7 326.5 527.1 326.5 527.5 326.6 527.9 326.6 528.2 326.7 528.6 326.6 529.0 326.6 529.4 326.5 529.8 326.6 530.2 326.7 530.5 326.7 530.9 326.8 531.3 326.8 531.7 326.9 532.1 326.8 532.4 326.8 532.8 326.9 533.2 326.9 533.6 326.9 534.0 326.9 534.3 327.0 534.7 327.1 535.1 327.1 535.5 327.1 535.9 327.0 536.2 327.1 536.6 327.2 537.0 327.1 537.4 327.2 537.8 327.1 538.2 327.2 538.5 327.2 538.9 327.2 539.3 327.3 539.7 327.3 540.1 327.4 540.4 327.4 540.8 327.3 541.2 327.3 541.6 327.3 542.0 327.3 542.3 327.4 542.7 327.5 543.1 327.4 543.5 327.5 543.9 327.5 544.2 327.6 544.6 327.5 545.0 327.6 545.4 327.6 545.8 327.7 546.2 327.6 546.5 327.7 546.9 327.6 547.3 327.7 547.7 327.7 548.1 327.7 548.4 327.8 548.8 327.7 549.2 327.8 549.6 327.9 550.0 327.8 550.3 327.8 550.7 327.9 551.1 327.8 551.5 327.9 551.9 327.9 552.2 327.9 552.6 327.9 553.0 327.8 553.4 328.0 553.8 327.9 554.2 327.9 554.5 328.0 554.9 328.0 555.3 328.0 555.7 328.0 556.1 328.0 556.4 328.0 556.8 328.1 557.2 328.1 557.6 328.2 558.0 328.1 558.3 328.1 558.7 328.1 559.1 328.1 559.5 328.2 559.9 328.1 560.2 328.1" stroke="#d62728" stroke-width="0.90" fill="none" stroke-linejoin="round" stroke-opacity="0.90"/><path d="M369.8 328.1 370.1 328.2 370.5 328.1 370.9 328.1 371.3 328.1 371.7 328.1 372.0 328.1 372.4 328.1 372.8 328.0 373.2 328.1 373.6 328.0 373.9 328.0 374.3 328.1 374.7 328.0 375.1 328.0 375.5 327.9 375.8 328.0 376.2 327.9 376.6 327.9 377.0 327.9 377.4 327.9 377.8 327.9 378.1 327.9 378.5 327.8 378.9 327.9 379.3 327.9 379.7 327.8 380.0 327.8 380.4 327.8 380.8 327.7 381.2 327.7 381.6 327.7 381.9 327.7 382.3 327.7 382.7 327.7 383.1 327.6 383.5 327.6 383.8 327.6 384.2 327.6 384.6 327.7 385.0 327.5 385.4 327.6 385.8 327.5 386.1 327.5 386.5 327.5 386.9 327.5 387.3 327.5 387.7 327.4 388.0 327.4 388.4 327.4 388.8 327.3 389.2 327.3 389.6 327.4 389.9 327.4 390.3 327.3 390.7 327.3 391.1 327.3 391.5 327.3 391.8 327.3 392.2 327.2 392.6 327.2 393.0 327.1 393.4 327.1 393.8 327.1 394.1 327.1 394.5 327.0 394.9 327.1 395.3 327.0 395.7 326.9 396.0 327.0 396.4 326.9 396.8 326.9 397.2 326.9 397.6 326.9 397.9 326.8 398.3 326.8 398.7 326.7 399.1 326.7 399.5 326.7 399.8 326.7 400.2 326.7 400.6 326.7 401.0 326.6 401.4 326.6 401.8 326.5 402.1 326.6 402.5 326.6 402.9 326.5 403.3 326.5 403.7 326.5 404.0 326.3 404.4 326.4 404.8 326.3 405.2 326.2 405.6 326.2 405.9 326.3 406.3 326.1 406.7 326.1 407.1 326.1 407.5 326.1 407.8 326.1 408.2 326.1 408.6 326.0 409.0 325.9 409.4 325.9 409.8 325.9 410.1 325.8 410.5 325.7 410.9 325.7 411.3 325.7 411.7 325.7 412.0 325.7 412.4 325.6 412.8 325.6 413.2 325.6 413.6 325.4 413.9 325.5 414.3 325.5 414.7 325.4 415.1 325.3 415.5 325.4 415.9 325.2 416.2 325.3 416.6 325.3 417.0 325.2 417.4 325.2 417.8 325.0 418.1 325.1 418.5 324.9 418.9 325.1 419.3 325.0 419.7 324.8 420.0 324.8 420.4 324.8 420.8 324.8 421.2 324.7 421.6 324.7 421.9 324.4 422.3 324.5 422.7 324.4 423.1 324.5 423.5 324.3 423.9 324.3 424.2 324.1 424.6 324.1 425.0 324.0 425.4 324.0 425.8 323.9 426.1 323.6 426.5 323.7 426.9 323.6 427.3 323.3 427.7 323.3 428.0 323.1 428.4 322.9 428.8 322.9 429.2 322.6 429.6 322.5 429.9 322.2 430.3 322.0 430.7 322.0 431.1 321.8 431.5 321.7 431.9 321.4 432.2 321.1 432.6 321.2 433.0 320.8 433.4 320.7 433.8 320.5 434.1 320.3 434.5 319.7 434.9 319.7 435.3 319.4 435.7 319.2 436.0 318.8 436.4 318.8 436.8 318.3 437.2 317.8 437.6 317.7 437.9 317.4 438.3 317.0 438.7 316.8 439.1 316.4 439.5 316.0 439.9 315.7 440.2 315.3 440.6 315.0 441.0 314.4 441.4 313.9 441.8 313.2 442.1 312.6 442.5 312.0 442.9 311.3 443.3 309.5 443.7 308.1 444.0 306.9 444.4 305.9 444.8 304.7 445.2 303.3 445.6 302.7 445.9 301.6 446.3 300.6 446.7 299.6 447.1 299.1 447.5 298.4 447.9 297.9 448.2 296.8 448.6 296.3 449.0 296.0 449.4 295.7 449.8 295.0 450.1 294.3 450.5 294.0 450.9 293.3 451.3 292.9 451.7 292.5 452.0 292.1 452.4 291.7 452.8 291.7 453.2 291.2 453.6 290.3 454.0 290.7 454.3 290.3 454.7 289.7 455.1 289.6 455.5 289.5 455.9 289.3 456.2 288.6 456.6 288.3 457.0 288.0 457.4 288.0 457.8 287.6 458.1 287.8 458.5 287.3 458.9 287.3 459.3 286.9 459.7 286.6 460.0 286.3 460.4 286.6 460.8 285.9 461.2 286.1 461.6 286.0 462.0 285.6 462.3 285.7 462.7 285.2 463.1 285.0 463.5 285.0 463.9 284.7 464.2 284.9 464.6 284.7 465.0 285.0 465.4 284.7 465.8 285.0 466.1 285.0 466.5 285.0 466.9 285.1 467.3 285.6 467.7 285.7 468.0 285.6 468.4 285.7 468.8 285.9 469.2 286.0 469.6 286.1 470.0 286.5 470.3 286.8 470.7 287.2 471.1 287.4 471.5 287.5 471.9 287.5 472.2 287.7 472.6 288.0 473.0 288.3 473.4 288.4 473.8 288.7 474.1 289.0 474.5 289.2 474.9 289.7 475.3 290.1 475.7 290.1 476.0 290.4 476.4 290.9 476.8 291.2 477.2 291.0 477.6 292.0 478.0 292.2 478.3 292.5 478.7 293.2 479.1 293.4 479.5 293.6 479.9 294.2 480.2 294.8 480.6 295.3 481.0 295.9 481.4 296.4 481.8 297.2 482.1 297.8 482.5 298.4 482.9 298.9 483.3 299.8 483.7 300.5 484.0 301.9 484.4 302.3 484.8 303.1 485.2 304.3 485.6 305.6 486.0 306.9 486.3 308.2 486.7 309.8 487.1 310.8 487.5 312.1 487.9 312.6 488.2 313.2 488.6 314.2 489.0 314.4 489.4 315.0 489.8 315.5 490.1 315.8 490.5 316.1 490.9 316.3 491.3 316.9 491.7 317.0 492.1 317.2 492.4 317.6 492.8 318.0 493.2 318.3 493.6 318.7 494.0 318.8 494.3 319.1 494.7 319.4 495.1 319.4 495.5 319.9 495.9 320.1 496.2 320.3 496.6 320.7 497.0 320.9 497.4 321.1 497.8 321.3 498.1 321.4 498.5 321.6 498.9 321.6 499.3 321.8 499.7 322.1 500.1 322.3 500.4 322.4 500.8 322.6 501.2 322.9 501.6 322.9 502.0 323.0 502.3 323.2 502.7 323.2 503.1 323.4 503.5 323.7 503.9 323.7 504.2 323.9 504.6 323.9 505.0 324.1 505.4 324.0 505.8 324.1 506.1 324.2 506.5 324.3 506.9 324.5 507.3 324.3 507.7 324.5 508.1 324.5 508.4 324.6 508.8 324.6 509.2 324.6 509.6 324.8 510.0 324.7 510.3 325.0 510.7 324.9 511.1 325.0 511.5 325.0 511.9 325.1 512.2 325.1 512.6 325.1 513.0 325.3 513.4 325.2 513.8 325.3 514.1 325.2 514.5 325.4 514.9 325.4 515.3 325.5 515.7 325.4 516.1 325.4 516.4 325.6 516.8 325.6 517.2 325.7 517.6 325.6 518.0 325.6 518.3 325.7 518.7 325.7 519.1 325.9 519.5 325.9 519.9 325.9 520.2 325.9 520.6 325.9 521.0 326.0 521.4 326.0 521.8 326.0 522.1 326.1 522.5 326.2 522.9 326.2 523.3 326.0 523.7 326.3 524.1 326.2 524.4 326.2 524.8 326.3 525.2 326.4 525.6 326.4 526.0 326.3 526.3 326.4 526.7 326.5 527.1 326.4 527.5 326.5 527.9 326.5 528.2 326.5 528.6 326.6 529.0 326.7 529.4 326.6 529.8 326.6 530.2 326.7 530.5 326.7 530.9 326.6 531.3 326.8 531.7 326.8 532.1 326.9 532.4 326.9 532.8 326.9 533.2 326.8 533.6 327.0 534.0 327.0 534.3 327.1 534.7 327.0 535.1 327.1 535.5 327.0 535.9 327.1 536.2 327.1 536.6 327.1 537.0 327.2 537.4 327.1 537.8 327.2 538.2 327.2 538.5 327.3 538.9 327.2 539.3 327.3 539.7 327.3 540.1 327.4 540.4 327.4 540.8 327.5 541.2 327.4 541.6 327.4 542.0 327.4 542.3 327.4 542.7 327.5 543.1 327.4 543.5 327.5 543.9 327.5 544.2 327.5 544.6 327.6 545.0 327.6 545.4 327.5 545.8 327.6 546.2 327.6 546.5 327.7 546.9 327.7 547.3 327.6 547.7 327.7 548.1 327.7 548.4 327.8 548.8 327.8 549.2 327.8 549.6 327.8 550.0 327.8 550.3 327.8 550.7 327.9 551.1 327.8 551.5 327.8 551.9 327.9 552.2 327.9 552.6 327.9 553.0 327.9 553.4 328.0 553.8 328.0 554.2 327.9 554.5 328.0 554.9 328.0 555.3 328.0 555.7 328.0 556.1 328.0 556.4 328.0 556.8 328.1 557.2 328.1 557.6 328.1 558.0 328.1 558.3 328.1 558.7 328.1 559.1 328.1 559.5 328.1 559.9 328.1 560.2 328.1" stroke="#9467bd" stroke-width="1.20" fill="none" stroke-linejoin="round" stroke-opacity="0.80"/></g><rect x="369.30" y="147.60" width="190.70" height="188.80" fill="none" stroke="#8c8c8c" stroke-width="1"/><text x="388.80" y="347.00" font-size="8.60" text-anchor="middle" fill="#000">−2</text><text x="426.90" y="347.00" font-size="8.60" text-anchor="middle" fill="#000">−1</text><text x="465.00" y="347.00" font-size="8.60" text-anchor="middle" fill="#000">0</text><text x="503.10" y="347.00" font-size="8.60" text-anchor="middle" fill="#000">1</text><text x="541.20" y="347.00" font-size="8.60" text-anchor="middle" fill="#000">2</text><text x="365.00" y="332.00" font-size="8.60" text-anchor="end" fill="#000">0</text><text x="365.00" y="302.60" font-size="8.60" text-anchor="end" fill="#000">100</text><text x="365.00" y="273.20" font-size="8.60" text-anchor="end" fill="#000">200</text><text x="365.00" y="243.80" font-size="8.60" text-anchor="end" fill="#000">300</text><text x="365.00" y="214.40" font-size="8.60" text-anchor="end" fill="#000">400</text><text x="365.00" y="185.00" font-size="8.60" text-anchor="end" fill="#000">500</text><text x="365.00" y="155.60" font-size="8.60" text-anchor="end" fill="#000">600</text><path d="M388.80 336.40v2.5M426.90 336.40v2.5M465.00 336.40v2.5M503.10 336.40v2.5M541.20 336.40v2.5M369.30 329.00h-2.5M369.30 299.60h-2.5M369.30 270.20h-2.5M369.30 240.80h-2.5M369.30 211.40h-2.5M369.30 182.00h-2.5M369.30 152.60h-2.5" stroke="#555" stroke-width="0.7"/><text x="465.00" y="357.60" font-size="9.10" text-anchor="middle" fill="#000">y (mm)</text><text x="0.00" y="0.00" font-size="9.00" text-anchor="middle" fill="#000" transform="translate(346.8 242) rotate(-90)">Fluence (mW/mm²)</text><text x="464.80" y="144.90" font-size="9.30" text-anchor="middle" fill="#000">Lateral profile</text><text x="315.60" y="163.10" font-size="11.50" text-anchor="start" fill="#000">C</text><rect x="373.80" y="151.20" width="100.70" height="28.60" fill="#9a9a9a" fill-opacity="0.8"/><rect x="372.60" y="150.00" width="100.70" height="28.60" fill="#ececec" fill-opacity="0.85" stroke="#c8c8c8" stroke-width="0.6"/><path d="M374.50 155.40H386.90" stroke="#1f77b4" stroke-width="0.80" stroke-opacity="0.70"/><text x="391.00" y="157.78" font-size="6.60" text-anchor="start" fill="#444">D100um</text><path d="M374.50 163.70H386.90" stroke="#ff7f0e" stroke-width="1.60" stroke-opacity="0.60"/><text x="391.00" y="166.08" font-size="6.60" text-anchor="start" fill="#444">D200um</text><path d="M374.50 172.60H386.90" stroke="#2ca02c" stroke-width="1.10" stroke-opacity="1.00"/><text x="391.00" y="174.98" font-size="6.60" text-anchor="start" fill="#444">D500um</text><path d="M426.00 155.40H438.00" stroke="#d62728" stroke-width="0.80" stroke-opacity="0.80"/><text x="442.40" y="157.78" font-size="6.60" text-anchor="start" fill="#444">D750um</text><path d="M426.00 163.70H438.00" stroke="#9467bd" stroke-width="1.60" stroke-opacity="0.60"/><text x="442.40" y="166.08" font-size="6.60" text-anchor="start" fill="#444">D1000um</text></svg></body></html>
